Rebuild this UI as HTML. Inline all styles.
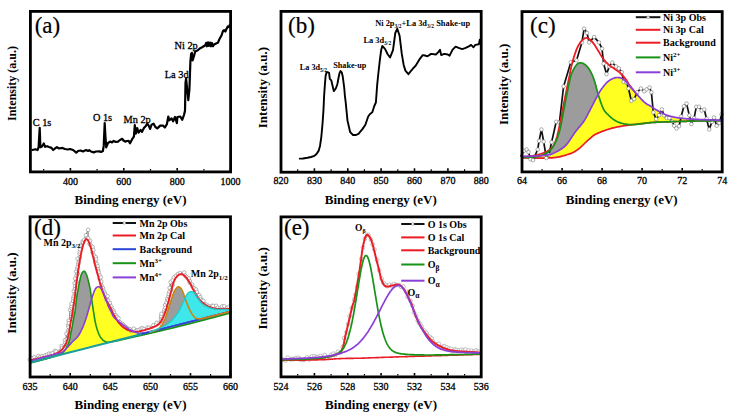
<!DOCTYPE html>
<html><head><meta charset="utf-8"><style>
html,body{margin:0;padding:0;background:#fff;}
body{width:734px;height:418px;overflow:hidden;}
svg{display:block;}
text{font-family:"Liberation Serif", serif;fill:#000;}
text.r{stroke:#000;stroke-width:0.3px;}
text.L{stroke:#000;stroke-width:0.2px;}
</style></head><body>
<svg width="734" height="418" viewBox="0 0 734 418">
<rect width="734" height="418" fill="#fff"/>
<polyline points="32.4,150 35.4,149.3 37.5,150 38.6,147.3 39.7,127.9 40.4,147.3 41.8,146.8 43.8,143.5 45.1,146.8 47.2,146.2 49,147 51.5,147.9 53.2,150 55,148.5 56.9,147.1 59,148.5 62.3,147.9 65,149 67.7,149.5 70,149 73.1,150 76.3,152.7 78,151 80.6,150.5 83,151.5 86,150 88,151 89.3,150.2 91,151.5 93.6,152.4 96,151.5 99.4,151.4 101,152 102.9,151 103.7,145.9 104.7,123 105.4,135.9 106.2,147.4 108,143 110.1,141.6 112,142.5 113.7,140.9 116,142 118,141.6 120,140 122.3,138.8 123.5,140.5 125.2,141.6 127,141 128.6,140.9 130,143.3 132,139.4 133.9,136.6 134.8,125.1 135.8,133.7 137.2,128 138.6,132.7 140.6,129.9 142,131.8 143.9,128 145.8,126 147.3,123.6 148.7,125.6 150.1,128.9 151.6,124.6 153.5,123.6 155.4,127 157.3,128.4 160.2,125.6 163,125.6 164.9,127.5 166.9,124.1 168.3,116.5 169.2,120.3 171.6,118.4 173.1,121.3 175,117 176.9,123.2 177.4,117 180.2,116.5 182.2,119.8 184.1,114.6 185,110.7 185.5,83 186.1,78.7 187.2,89.5 188.3,100.2 189.4,89.5 190.4,61.5 191.1,54 191.9,52.9 192.6,60.4 193.7,57 195.2,51.5 197.5,50.5 200.3,48.2 202.5,47 205.3,45.2 206.2,42.8 207,46.3 208,42.3 209,46 210,42.5 211,46.3 212,43 213,46.3 214.1,44.5 216,43.5 217.9,42.7 219.5,39 221.6,35.2 223,31 224.2,30.1 225.4,31.5 226.5,28.9 227.9,26.4 229,27 229.9,24.6" fill="none" stroke="#000" stroke-width="2.2" stroke-linejoin="round" stroke-linecap="round" />
<rect x="30.4" y="11.4" width="200.2" height="160.5" fill="none" stroke="#000" stroke-width="2.8"/>
<line x1="70.4" y1="170.6" x2="70.4" y2="168" stroke="#000" stroke-width="1.6"/>
<line x1="123.8" y1="170.6" x2="123.8" y2="168" stroke="#000" stroke-width="1.6"/>
<line x1="177.2" y1="170.6" x2="177.2" y2="168" stroke="#000" stroke-width="1.6"/>
<line x1="230.6" y1="170.6" x2="230.6" y2="168" stroke="#000" stroke-width="1.6"/>
<line x1="43.7" y1="170.6" x2="43.7" y2="169" stroke="#000" stroke-width="1.2"/>
<line x1="97.1" y1="170.6" x2="97.1" y2="169" stroke="#000" stroke-width="1.2"/>
<line x1="150.5" y1="170.6" x2="150.5" y2="169" stroke="#000" stroke-width="1.2"/>
<line x1="203.9" y1="170.6" x2="203.9" y2="169" stroke="#000" stroke-width="1.2"/>
<text x="70.4" y="184.8" font-size="10" font-weight="normal" text-anchor="middle" class="r" >400</text>
<text x="123.8" y="184.8" font-size="10" font-weight="normal" text-anchor="middle" class="r" >600</text>
<text x="177.2" y="184.8" font-size="10" font-weight="normal" text-anchor="middle" class="r" >800</text>
<text x="230.6" y="184.8" font-size="10" font-weight="normal" text-anchor="middle" class="r" >1000</text>
<text x="130.5" y="203.9" font-size="13" font-weight="bold" text-anchor="middle" >Binding energy (eV)</text>
<text transform="translate(15.8,83.5) rotate(-90)" x="0" y="0" font-size="12" font-weight="bold" text-anchor="middle">Intensity (a.u.)</text>
<text x="34.7" y="33.2" font-size="23" class="L">(a)</text>
<text x="32.7" y="126" font-size="10.3" font-weight="normal" text-anchor="start" class="r" >C 1s</text>
<text x="92.9" y="120.8" font-size="10.3" font-weight="normal" text-anchor="start" class="r" >O 1s</text>
<text x="123.6" y="122.7" font-size="10.3" font-weight="normal" text-anchor="start" class="r" >Mn 2p</text>
<text x="164.8" y="77.5" font-size="10.3" font-weight="normal" text-anchor="start" class="r" >La 3d</text>
<text x="174.6" y="49.1" font-size="10.3" font-weight="normal" text-anchor="start" class="r" >Ni 2p</text>
<polyline points="299.8,158.6 303,158.5 307.5,157.8 311,157 314.4,155.9 316.5,154 318.6,150.9 320,146 321.3,137.1 322.5,124 323.5,109.6 324.1,96 324.8,86 325.6,76 326.6,72.1 328,72.3 329.1,72.8 329.8,78.9 331.3,80.4 332.5,85.5 333.8,91.1 335.9,88.3 337.4,84 338.5,78 339.5,73.2 340.6,71 341.8,72.5 342.8,76.8 344.2,87.5 344.9,96 345.6,101.3 347.5,120.6 350.2,132.2 353,135 356,135 358.5,133.8 362.6,128.9 365.4,124.7 368.2,116.5 370,114 372.3,112.3 374.3,106 375.9,102.5 377.2,84.6 378.5,72 380,58.8 381.2,50 382.3,45.9 385,48.8 387.8,54.5 390.1,57.4 393,50.2 395.3,33 397.3,28.7 399.6,35.8 401.8,53.9 403.6,64.7 405.4,70.6 408.4,74.2 410.8,71.2 413,68.5 415.5,65.9 419.1,59.9 422.7,55.1 425,55.5 427.5,56.3 431.1,53.9 435.9,54.5 438.3,52.1 440,49.7 441.2,55.1 444.2,53.9 447.8,54.5 449.6,55.7 452.6,49.7 455.6,46.7 458.6,47.9 462.2,49.1 465.7,47.9 469.3,46.1 471.1,44.9 473.5,47.3 475.3,44.9 478.9,44.3 479.8,39.6" fill="none" stroke="#000" stroke-width="1.9" stroke-linejoin="round" stroke-linecap="round" />
<rect x="281" y="11.4" width="200.2" height="160.8" fill="none" stroke="#000" stroke-width="2.8"/>
<line x1="281" y1="170.9" x2="281" y2="168.3" stroke="#000" stroke-width="1.6"/>
<line x1="314.4" y1="170.9" x2="314.4" y2="168.3" stroke="#000" stroke-width="1.6"/>
<line x1="347.8" y1="170.9" x2="347.8" y2="168.3" stroke="#000" stroke-width="1.6"/>
<line x1="381.1" y1="170.9" x2="381.1" y2="168.3" stroke="#000" stroke-width="1.6"/>
<line x1="414.5" y1="170.9" x2="414.5" y2="168.3" stroke="#000" stroke-width="1.6"/>
<line x1="447.9" y1="170.9" x2="447.9" y2="168.3" stroke="#000" stroke-width="1.6"/>
<line x1="481.2" y1="170.9" x2="481.2" y2="168.3" stroke="#000" stroke-width="1.6"/>
<line x1="297.7" y1="170.9" x2="297.7" y2="169.3" stroke="#000" stroke-width="1.2"/>
<line x1="331.1" y1="170.9" x2="331.1" y2="169.3" stroke="#000" stroke-width="1.2"/>
<line x1="364.4" y1="170.9" x2="364.4" y2="169.3" stroke="#000" stroke-width="1.2"/>
<line x1="397.8" y1="170.9" x2="397.8" y2="169.3" stroke="#000" stroke-width="1.2"/>
<line x1="431.2" y1="170.9" x2="431.2" y2="169.3" stroke="#000" stroke-width="1.2"/>
<line x1="464.6" y1="170.9" x2="464.6" y2="169.3" stroke="#000" stroke-width="1.2"/>
<text x="281" y="184.2" font-size="10" font-weight="normal" text-anchor="middle" class="r" >820</text>
<text x="314.4" y="184.2" font-size="10" font-weight="normal" text-anchor="middle" class="r" >830</text>
<text x="347.8" y="184.2" font-size="10" font-weight="normal" text-anchor="middle" class="r" >840</text>
<text x="381.1" y="184.2" font-size="10" font-weight="normal" text-anchor="middle" class="r" >850</text>
<text x="414.5" y="184.2" font-size="10" font-weight="normal" text-anchor="middle" class="r" >860</text>
<text x="447.9" y="184.2" font-size="10" font-weight="normal" text-anchor="middle" class="r" >870</text>
<text x="481.2" y="184.2" font-size="10" font-weight="normal" text-anchor="middle" class="r" >880</text>
<text x="380.8" y="203.9" font-size="13" font-weight="bold" text-anchor="middle" >Binding energy (eV)</text>
<text transform="translate(266.6,87.6) rotate(-90)" x="0" y="0" font-size="13" font-weight="bold" text-anchor="middle">Intensity (a.u.)</text>
<text x="288.1" y="32.85" font-size="23" class="L">(b)</text>
<text x="299.8" y="69.6" font-size="8.2" font-weight="bold">La 3d<tspan font-size="5.5" dy="2">5/2</tspan></text>
<text x="333.2" y="67.8" font-size="8.2" font-weight="bold" text-anchor="start" >Shake-up</text>
<text x="363.4" y="43" font-size="8.4" font-weight="bold">La 3d<tspan font-size="5.5" dy="2">3/2</tspan></text>
<text x="375.2" y="26" font-size="8.4" font-weight="bold">Ni 2p<tspan font-size="5.5" dy="2">3/2</tspan><tspan dy="-2">+La 3d</tspan><tspan font-size="5.5" dy="2">3/2</tspan><tspan dy="-2"> Shake-up</tspan></text>
<polygon points="522,157.6 522.5,157.6 523,157.5 523.5,157.5 524,157.5 524.5,157.5 525,157.4 525.5,157.4 526,157.4 526.5,157.4 527,157.4 527.5,157.3 528,157.3 528.5,157.3 529,157.3 529.5,157.2 530,157.2 530.5,157.2 531,157.1 531.5,157.1 532,157.1 532.5,157 533,157 533.5,157 534,156.9 534.5,156.9 535,156.8 535.5,156.8 536,156.7 536.5,156.6 537,156.6 537.5,156.5 538,156.4 538.5,156.3 539,156.2 539.5,156.1 540,155.9 540.5,155.8 541,155.6 541.5,155.4 542,155.2 542.5,155 543,154.8 543.5,154.6 544,154.3 544.5,154.1 545,153.8 545.5,153.5 546,153.2 546.5,152.8 547,152.5 547.5,152.2 548,151.8 548.5,151.5 549,151.1 549.5,150.7 550,150.3 550.5,149.8 551,149.3 551.5,148.8 552,148.2 552.5,147.5 553,146.7 553.5,145.9 554,145.1 554.5,144.2 555,143.2 555.5,142.2 556,141.2 556.5,140.1 557,138.8 557.5,137.6 558,136.2 558.5,134.7 559,133.1 559.5,131.4 560,129.5 560.5,127.3 561,124.9 561.5,122.4 562,119.7 562.5,117 563,114.2 563.5,111.5 564,108.8 564.5,106.3 565,103.8 565.5,101.2 566,98.7 566.5,96.1 567,93.6 567.5,91.1 568,88.6 568.5,86.2 569,83.9 569.5,81.6 570,79.3 570.5,77.1 571,75.3 571.5,73.8 572,72.5 572.5,71.4 573,70.4 573.5,69.4 574,68.5 574.5,67.7 575,66.9 575.5,66.2 576,65.5 576.5,64.9 577,64.3 577.5,63.8 578,63.4 578.5,63.2 579,63 579.5,62.9 580,62.8 580.5,62.9 581,62.9 581.5,63 582,63.1 582.5,63.3 583,63.4 583.5,63.6 584,63.9 584.5,64.2 585,64.6 585.5,65 586,65.4 586.5,65.9 587,66.4 587.5,67 588,67.6 588.5,68.3 589,69 589.5,69.7 590,70.5 590.5,71.4 591,72.3 591.5,73.3 592,74.3 592.5,75.5 593,76.7 593.5,78.1 594,79.5 594.5,81 595,82.6 595.5,84.4 596,86.3 596.5,88.3 597,90.2 597.5,92 598,93.7 598.5,95.3 599,96.9 599.5,98.4 600,100 600.5,101.5 601,102.9 601.5,104.3 602,105.6 602.5,106.9 603,108 603.5,109 604,109.9 604.5,110.7 605,111.4 605.5,112.1 606,112.7 606.5,113.2 607,113.8 607.5,114.2 608,114.7 608.5,115.2 609,115.6 609.5,116.1 610,116.5 610.5,117 611,117.4 611.5,117.9 612,118.3 612.5,118.7 613,119.1 613.5,119.5 614,119.8 614.5,120.1 615,120.4 615.5,120.7 616,121 616.5,121.3 617,121.5 617.5,121.7 618,122 618.5,122.2 619,122.4 619.5,122.6 620,122.7 620.5,122.9 621,123.1 621.5,123.2 622,123.4 622.5,123.5 623,123.6 623.5,123.8 624,123.9 624.5,124 625,124 625.5,124.1 626,124.2 626.5,124.3 627,124.3 627.5,124.4 628,124.4 628.5,124.5 629,124.5 629.5,124.5 630,124.6 630.5,124.6 631,124.6 631.5,124.6 632,124.6 632.5,124.6 633,124.6 633.5,124.6 634,124.6 634.5,124.5 635,124.5 635.5,124.5 636,124.4 636.5,124.3 637,124.3 637.5,124.2 638,124.2 638.5,124.1 639,124 639.5,124 640,123.9 640.5,123.8 641,123.8 641.5,123.7 642,123.6 642.5,123.6 643,123.5 643.5,123.4 644,123.4 644.5,123.3 645,123.3 645.5,123.2 646,123.1 646.5,123.1 647,123 647.5,122.9 648,122.9 648.5,122.8 649,122.8 649.5,122.7 650,122.7 650.5,122.6 651,122.6 651.5,122.5 652,122.5 652.5,122.5 653,122.4 653.5,122.4 654,122.4 654.5,122.3 655,122.3 655.5,122.3 656,122.3 656.5,122.2 657,122.2 657.5,122.2 658,122.2 658.5,122.1 659,122.1 659.5,122.1 660,122.1 660.5,122.1 661,122 661.5,122 662,122 662.5,122 663,122 663.5,122 664,121.9 664.5,121.9 665,121.9 665.5,121.9 666,121.9 666.5,121.9 667,121.8 667.5,121.8 668,121.8 668.5,121.8 669,121.8 669.5,121.8 670,121.7 670.5,121.7 671,121.7 671.5,121.7 672,121.7 672.5,121.7 673,121.6 673.5,121.6 674,121.6 674.5,121.6 675,121.6 675.5,121.6 676,121.6 676.5,121.5 677,121.5 677.5,121.5 678,121.5 678.5,121.5 679,121.5 679.5,121.5 680,121.4 680.5,121.4 681,121.4 681.5,121.4 682,121.4 682.5,121.4 683,121.4 683.5,121.3 684,121.3 684.5,121.3 685,121.3 685.5,121.3 686,121.3 686.5,121.3 687,121.2 687.5,121.2 688,121.2 688.5,121.2 689,121.2 689.5,121.2 690,121.2 690.5,121.2 691,121.1 691.5,121.1 692,121.1 692.5,121.1 693,121.1 693.5,121.1 694,121.1 694.5,121.1 695,121.1 695.5,121 696,121 696.5,121 697,121 697.5,121 698,121 698.5,121 699,121 699.5,121 700,121 700.5,120.9 701,120.9 701.5,120.9 702,120.9 702.5,120.9 703,120.9 703.5,120.9 704,120.9 704.5,120.9 705,120.9 705.5,120.9 706,120.9 706.5,120.8 707,120.8 707.5,120.8 708,120.8 708.5,120.8 709,120.8 709.5,120.8 710,120.8 710.5,120.8 711,120.8 711.5,120.8 712,120.8 712.5,120.7 713,120.7 713.5,120.7 714,120.7 714.5,120.7 715,120.7 715.5,120.7 716,120.7 716.5,120.7 717,120.7 717.5,120.7 718,120.7 718.5,120.7 719,120.6 719.5,120.6 720,120.6 720.5,120.6 721,120.6 721.5,120.6 722,120.6 722,120.6 721.5,120.6 721,120.6 720.5,120.6 720,120.6 719.5,120.6 719,120.6 718.5,120.7 718,120.7 717.5,120.7 717,120.7 716.5,120.7 716,120.7 715.5,120.7 715,120.7 714.5,120.7 714,120.7 713.5,120.7 713,120.7 712.5,120.7 712,120.8 711.5,120.8 711,120.8 710.5,120.8 710,120.8 709.5,120.8 709,120.8 708.5,120.8 708,120.8 707.5,120.8 707,120.8 706.5,120.8 706,120.9 705.5,120.9 705,120.9 704.5,120.9 704,120.9 703.5,120.9 703,120.9 702.5,120.9 702,120.9 701.5,120.9 701,120.9 700.5,120.9 700,121 699.5,121 699,121 698.5,121 698,121 697.5,121 697,121 696.5,121 696,121 695.5,121 695,121.1 694.5,121.1 694,121.1 693.5,121.1 693,121.1 692.5,121.1 692,121.1 691.5,121.1 691,121.1 690.5,121.2 690,121.2 689.5,121.2 689,121.2 688.5,121.2 688,121.2 687.5,121.2 687,121.2 686.5,121.3 686,121.3 685.5,121.3 685,121.3 684.5,121.3 684,121.3 683.5,121.3 683,121.4 682.5,121.4 682,121.4 681.5,121.4 681,121.4 680.5,121.4 680,121.4 679.5,121.5 679,121.5 678.5,121.5 678,121.5 677.5,121.5 677,121.5 676.5,121.5 676,121.6 675.5,121.6 675,121.6 674.5,121.6 674,121.6 673.5,121.6 673,121.6 672.5,121.7 672,121.7 671.5,121.7 671,121.7 670.5,121.7 670,121.7 669.5,121.8 669,121.8 668.5,121.8 668,121.8 667.5,121.8 667,121.8 666.5,121.9 666,121.9 665.5,121.9 665,121.9 664.5,121.9 664,121.9 663.5,122 663,122 662.5,122 662,122 661.5,122 661,122 660.5,122.1 660,122.1 659.5,122.1 659,122.1 658.5,122.1 658,122.2 657.5,122.2 657,122.2 656.5,122.2 656,122.3 655.5,122.3 655,122.3 654.5,122.3 654,122.4 653.5,122.4 653,122.4 652.5,122.5 652,122.5 651.5,122.5 651,122.6 650.5,122.6 650,122.7 649.5,122.7 649,122.8 648.5,122.8 648,122.9 647.5,122.9 647,123 646.5,123.1 646,123.1 645.5,123.2 645,123.3 644.5,123.3 644,123.4 643.5,123.4 643,123.5 642.5,123.6 642,123.6 641.5,123.7 641,123.7 640.5,123.8 640,123.8 639.5,123.9 639,123.9 638.5,124 638,124 637.5,124.1 637,124.1 636.5,124.2 636,124.3 635.5,124.3 635,124.4 634.5,124.4 634,124.5 633.5,124.5 633,124.6 632.5,124.7 632,124.7 631.5,124.8 631,124.8 630.5,124.9 630,125 629.5,125 629,125.1 628.5,125.1 628,125.2 627.5,125.3 627,125.4 626.5,125.4 626,125.5 625.5,125.6 625,125.6 624.5,125.7 624,125.8 623.5,125.9 623,126 622.5,126 622,126.1 621.5,126.2 621,126.3 620.5,126.4 620,126.5 619.5,126.6 619,126.7 618.5,126.7 618,126.8 617.5,126.9 617,127 616.5,127.1 616,127.2 615.5,127.4 615,127.5 614.5,127.6 614,127.7 613.5,127.8 613,127.9 612.5,128.1 612,128.2 611.5,128.3 611,128.5 610.5,128.6 610,128.8 609.5,128.9 609,129 608.5,129.2 608,129.4 607.5,129.5 607,129.7 606.5,129.8 606,130 605.5,130.2 605,130.4 604.5,130.5 604,130.7 603.5,130.9 603,131.1 602.5,131.3 602,131.5 601.5,131.7 601,131.9 600.5,132.1 600,132.3 599.5,132.5 599,132.7 598.5,132.9 598,133.1 597.5,133.4 597,133.6 596.5,133.8 596,134.1 595.5,134.3 595,134.6 594.5,134.9 594,135.2 593.5,135.5 593,135.9 592.5,136.3 592,136.7 591.5,137.2 591,137.6 590.5,138.1 590,138.5 589.5,138.9 589,139.4 588.5,139.8 588,140.2 587.5,140.7 587,141.2 586.5,141.6 586,142.1 585.5,142.5 585,143 584.5,143.5 584,144 583.5,144.5 583,145 582.5,145.5 582,146 581.5,146.5 581,146.9 580.5,147.4 580,147.8 579.5,148.2 579,148.6 578.5,149 578,149.4 577.5,149.8 577,150.1 576.5,150.5 576,150.8 575.5,151.1 575,151.4 574.5,151.7 574,152 573.5,152.3 573,152.5 572.5,152.7 572,153 571.5,153.2 571,153.4 570.5,153.6 570,153.7 569.5,153.9 569,154.1 568.5,154.2 568,154.4 567.5,154.5 567,154.7 566.5,154.9 566,155 565.5,155.2 565,155.3 564.5,155.5 564,155.6 563.5,155.8 563,155.9 562.5,156 562,156.2 561.5,156.3 561,156.4 560.5,156.6 560,156.7 559.5,156.8 559,156.9 558.5,157 558,157.1 557.5,157.2 557,157.2 556.5,157.3 556,157.4 555.5,157.5 555,157.5 554.5,157.6 554,157.6 553.5,157.7 553,157.7 552.5,157.8 552,157.8 551.5,157.8 551,157.9 550.5,157.9 550,157.9 549.5,157.9 549,158 548.5,158 548,158 547.5,158 547,158 546.5,158.1 546,158.1 545.5,158.1 545,158.1 544.5,158.1 544,158.1 543.5,158.1 543,158.2 542.5,158.2 542,158.2 541.5,158.2 541,158.2 540.5,158.2 540,158.2 539.5,158.2 539,158.2 538.5,158.2 538,158.2 537.5,158.2 537,158.2 536.5,158.2 536,158.2 535.5,158.2 535,158.2 534.5,158.2 534,158.1 533.5,158.1 533,158.1 532.5,158.1 532,158.1 531.5,158.1 531,158.1 530.5,158.1 530,158.1 529.5,158 529,158 528.5,158 528,158 527.5,158 527,158 526.5,157.9 526,157.9 525.5,157.9 525,157.9 524.5,157.9 524,157.9 523.5,157.8 523,157.8 522.5,157.8 522,157.8" fill="#9c9c9c" stroke="none" />
<polygon points="522,156.5 522.5,156.5 523,156.5 523.5,156.4 524,156.4 524.5,156.4 525,156.4 525.5,156.4 526,156.4 526.5,156.4 527,156.3 527.5,156.3 528,156.3 528.5,156.3 529,156.3 529.5,156.3 530,156.2 530.5,156.2 531,156.2 531.5,156.2 532,156.2 532.5,156.2 533,156.1 533.5,156.1 534,156.1 534.5,156.1 535,156.1 535.5,156 536,156 536.5,156 537,156 537.5,155.9 538,155.9 538.5,155.9 539,155.9 539.5,155.8 540,155.8 540.5,155.8 541,155.7 541.5,155.7 542,155.6 542.5,155.6 543,155.6 543.5,155.5 544,155.5 544.5,155.4 545,155.4 545.5,155.3 546,155.2 546.5,155.2 547,155.1 547.5,155 548,154.9 548.5,154.8 549,154.7 549.5,154.6 550,154.5 550.5,154.4 551,154.2 551.5,154.1 552,153.9 552.5,153.7 553,153.5 553.5,153.3 554,153 554.5,152.8 555,152.5 555.5,152.3 556,152 556.5,151.7 557,151.5 557.5,151.2 558,151 558.5,150.7 559,150.4 559.5,150.1 560,149.8 560.5,149.5 561,149.2 561.5,148.9 562,148.5 562.5,148.1 563,147.8 563.5,147.4 564,147.1 564.5,146.7 565,146.2 565.5,145.7 566,145.2 566.5,144.6 567,144 567.5,143.3 568,142.7 568.5,142 569,141.2 569.5,140.5 570,139.7 570.5,139 571,138.2 571.5,137.4 572,136.7 572.5,135.9 573,135.2 573.5,134.4 574,133.7 574.5,133 575,132.3 575.5,131.6 576,131 576.5,130.4 577,129.7 577.5,129.1 578,128.5 578.5,127.9 579,127.3 579.5,126.8 580,126.2 580.5,125.6 581,125 581.5,124.3 582,123.7 582.5,123.1 583,122.4 583.5,121.7 584,121 584.5,120.2 585,119.4 585.5,118.6 586,117.7 586.5,116.8 587,115.9 587.5,114.9 588,113.9 588.5,112.9 589,111.9 589.5,111 590,110 590.5,109.1 591,108.1 591.5,107.1 592,106.2 592.5,105.2 593,104.2 593.5,103.3 594,102.3 594.5,101.3 595,100.4 595.5,99.4 596,98.5 596.5,97.5 597,96.6 597.5,95.6 598,94.7 598.5,93.8 599,93 599.5,92.1 600,91.3 600.5,90.5 601,89.7 601.5,89 602,88.3 602.5,87.7 603,87 603.5,86.4 604,85.7 604.5,85.1 605,84.5 605.5,84 606,83.4 606.5,82.9 607,82.4 607.5,81.9 608,81.5 608.5,81.1 609,80.7 609.5,80.4 610,80 610.5,79.7 611,79.4 611.5,79.2 612,78.9 612.5,78.7 613,78.5 613.5,78.3 614,78.1 614.5,78 615,77.8 615.5,77.7 616,77.6 616.5,77.5 617,77.5 617.5,77.5 618,77.5 618.5,77.6 619,77.6 619.5,77.7 620,77.8 620.5,78 621,78.1 621.5,78.3 622,78.5 622.5,78.8 623,79 623.5,79.4 624,79.7 624.5,80.1 625,80.6 625.5,81.1 626,81.6 626.5,82.2 627,82.8 627.5,83.4 628,84 628.5,84.6 629,85.1 629.5,85.7 630,86.3 630.5,86.9 631,87.4 631.5,88 632,88.6 632.5,89.2 633,89.8 633.5,90.4 634,91 634.5,91.5 635,92.1 635.5,92.7 636,93.3 636.5,93.8 637,94.4 637.5,94.9 638,95.5 638.5,96.1 639,96.6 639.5,97.2 640,97.7 640.5,98.3 641,98.8 641.5,99.3 642,99.9 642.5,100.4 643,100.9 643.5,101.4 644,101.9 644.5,102.3 645,102.7 645.5,103.2 646,103.5 646.5,103.9 647,104.2 647.5,104.4 648,104.7 648.5,105 649,105.2 649.5,105.5 650,105.8 650.5,106.1 651,106.4 651.5,106.8 652,107.1 652.5,107.4 653,107.8 653.5,108.1 654,108.4 654.5,108.7 655,109.1 655.5,109.4 656,109.7 656.5,110 657,110.3 657.5,110.6 658,110.9 658.5,111.1 659,111.4 659.5,111.7 660,112 660.5,112.2 661,112.5 661.5,112.8 662,113 662.5,113.3 663,113.5 663.5,113.8 664,114 664.5,114.2 665,114.5 665.5,114.7 666,114.9 666.5,115 667,115.2 667.5,115.4 668,115.6 668.5,115.7 669,115.9 669.5,116 670,116.1 670.5,116.3 671,116.4 671.5,116.5 672,116.6 672.5,116.7 673,116.8 673.5,117 674,117.1 674.5,117.2 675,117.3 675.5,117.4 676,117.5 676.5,117.6 677,117.7 677.5,117.7 678,117.8 678.5,117.9 679,118 679.5,118 680,118.1 680.5,118.2 681,118.2 681.5,118.3 682,118.3 682.5,118.4 683,118.5 683.5,118.5 684,118.6 684.5,118.6 685,118.7 685.5,118.7 686,118.7 686.5,118.8 687,118.8 687.5,118.9 688,118.9 688.5,118.9 689,119 689.5,119 690,119 690.5,119.1 691,119.1 691.5,119.1 692,119.1 692.5,119.2 693,119.2 693.5,119.2 694,119.2 694.5,119.3 695,119.3 695.5,119.3 696,119.3 696.5,119.4 697,119.4 697.5,119.4 698,119.4 698.5,119.4 699,119.5 699.5,119.5 700,119.5 700.5,119.5 701,119.5 701.5,119.6 702,119.6 702.5,119.6 703,119.6 703.5,119.6 704,119.7 704.5,119.7 705,119.7 705.5,119.7 706,119.7 706.5,119.8 707,119.8 707.5,119.8 708,119.8 708.5,119.8 709,119.8 709.5,119.9 710,119.9 710.5,119.9 711,119.9 711.5,119.9 712,119.9 712.5,120 713,120 713.5,120 714,120 714.5,120 715,120.1 715.5,120.1 716,120.1 716.5,120.1 717,120.1 717.5,120.1 718,120.2 718.5,120.2 719,120.2 719.5,120.2 720,120.2 720.5,120.2 721,120.3 721.5,120.3 722,120.3 722,120.6 721.5,120.6 721,120.6 720.5,120.6 720,120.6 719.5,120.6 719,120.6 718.5,120.7 718,120.7 717.5,120.7 717,120.7 716.5,120.7 716,120.7 715.5,120.7 715,120.7 714.5,120.7 714,120.7 713.5,120.7 713,120.7 712.5,120.7 712,120.8 711.5,120.8 711,120.8 710.5,120.8 710,120.8 709.5,120.8 709,120.8 708.5,120.8 708,120.8 707.5,120.8 707,120.8 706.5,120.8 706,120.9 705.5,120.9 705,120.9 704.5,120.9 704,120.9 703.5,120.9 703,120.9 702.5,120.9 702,120.9 701.5,120.9 701,120.9 700.5,120.9 700,121 699.5,121 699,121 698.5,121 698,121 697.5,121 697,121 696.5,121 696,121 695.5,121 695,121.1 694.5,121.1 694,121.1 693.5,121.1 693,121.1 692.5,121.1 692,121.1 691.5,121.1 691,121.1 690.5,121.2 690,121.2 689.5,121.2 689,121.2 688.5,121.2 688,121.2 687.5,121.2 687,121.2 686.5,121.3 686,121.3 685.5,121.3 685,121.3 684.5,121.3 684,121.3 683.5,121.3 683,121.4 682.5,121.4 682,121.4 681.5,121.4 681,121.4 680.5,121.4 680,121.4 679.5,121.5 679,121.5 678.5,121.5 678,121.5 677.5,121.5 677,121.5 676.5,121.5 676,121.6 675.5,121.6 675,121.6 674.5,121.6 674,121.6 673.5,121.6 673,121.6 672.5,121.7 672,121.7 671.5,121.7 671,121.7 670.5,121.7 670,121.7 669.5,121.8 669,121.8 668.5,121.8 668,121.8 667.5,121.8 667,121.8 666.5,121.9 666,121.9 665.5,121.9 665,121.9 664.5,121.9 664,121.9 663.5,122 663,122 662.5,122 662,122 661.5,122 661,122 660.5,122.1 660,122.1 659.5,122.1 659,122.1 658.5,122.1 658,122.2 657.5,122.2 657,122.2 656.5,122.2 656,122.3 655.5,122.3 655,122.3 654.5,122.3 654,122.4 653.5,122.4 653,122.4 652.5,122.5 652,122.5 651.5,122.5 651,122.6 650.5,122.6 650,122.7 649.5,122.7 649,122.8 648.5,122.8 648,122.9 647.5,122.9 647,123 646.5,123.1 646,123.1 645.5,123.2 645,123.3 644.5,123.3 644,123.4 643.5,123.4 643,123.5 642.5,123.6 642,123.6 641.5,123.7 641,123.7 640.5,123.8 640,123.8 639.5,123.9 639,123.9 638.5,124 638,124 637.5,124.1 637,124.1 636.5,124.2 636,124.3 635.5,124.3 635,124.4 634.5,124.4 634,124.5 633.5,124.5 633,124.6 632.5,124.7 632,124.7 631.5,124.8 631,124.8 630.5,124.9 630,125 629.5,125 629,125.1 628.5,125.1 628,125.2 627.5,125.3 627,125.4 626.5,125.4 626,125.5 625.5,125.6 625,125.6 624.5,125.7 624,125.8 623.5,125.9 623,126 622.5,126 622,126.1 621.5,126.2 621,126.3 620.5,126.4 620,126.5 619.5,126.6 619,126.7 618.5,126.7 618,126.8 617.5,126.9 617,127 616.5,127.1 616,127.2 615.5,127.4 615,127.5 614.5,127.6 614,127.7 613.5,127.8 613,127.9 612.5,128.1 612,128.2 611.5,128.3 611,128.5 610.5,128.6 610,128.8 609.5,128.9 609,129 608.5,129.2 608,129.4 607.5,129.5 607,129.7 606.5,129.8 606,130 605.5,130.2 605,130.4 604.5,130.5 604,130.7 603.5,130.9 603,131.1 602.5,131.3 602,131.5 601.5,131.7 601,131.9 600.5,132.1 600,132.3 599.5,132.5 599,132.7 598.5,132.9 598,133.1 597.5,133.4 597,133.6 596.5,133.8 596,134.1 595.5,134.3 595,134.6 594.5,134.9 594,135.2 593.5,135.5 593,135.9 592.5,136.3 592,136.7 591.5,137.2 591,137.6 590.5,138.1 590,138.5 589.5,138.9 589,139.4 588.5,139.8 588,140.2 587.5,140.7 587,141.2 586.5,141.6 586,142.1 585.5,142.5 585,143 584.5,143.5 584,144 583.5,144.5 583,145 582.5,145.5 582,146 581.5,146.5 581,146.9 580.5,147.4 580,147.8 579.5,148.2 579,148.6 578.5,149 578,149.4 577.5,149.8 577,150.1 576.5,150.5 576,150.8 575.5,151.1 575,151.4 574.5,151.7 574,152 573.5,152.3 573,152.5 572.5,152.7 572,153 571.5,153.2 571,153.4 570.5,153.6 570,153.7 569.5,153.9 569,154.1 568.5,154.2 568,154.4 567.5,154.5 567,154.7 566.5,154.9 566,155 565.5,155.2 565,155.3 564.5,155.5 564,155.6 563.5,155.8 563,155.9 562.5,156 562,156.2 561.5,156.3 561,156.4 560.5,156.6 560,156.7 559.5,156.8 559,156.9 558.5,157 558,157.1 557.5,157.2 557,157.2 556.5,157.3 556,157.4 555.5,157.5 555,157.5 554.5,157.6 554,157.6 553.5,157.7 553,157.7 552.5,157.8 552,157.8 551.5,157.8 551,157.9 550.5,157.9 550,157.9 549.5,157.9 549,158 548.5,158 548,158 547.5,158 547,158 546.5,158.1 546,158.1 545.5,158.1 545,158.1 544.5,158.1 544,158.1 543.5,158.1 543,158.2 542.5,158.2 542,158.2 541.5,158.2 541,158.2 540.5,158.2 540,158.2 539.5,158.2 539,158.2 538.5,158.2 538,158.2 537.5,158.2 537,158.2 536.5,158.2 536,158.2 535.5,158.2 535,158.2 534.5,158.2 534,158.1 533.5,158.1 533,158.1 532.5,158.1 532,158.1 531.5,158.1 531,158.1 530.5,158.1 530,158.1 529.5,158 529,158 528.5,158 528,158 527.5,158 527,158 526.5,157.9 526,157.9 525.5,157.9 525,157.9 524.5,157.9 524,157.9 523.5,157.8 523,157.8 522.5,157.8 522,157.8" fill="#ffff22" stroke="none" />
<polyline points="522,157.8 522.5,157.8 523,157.8 523.5,157.8 524,157.9 524.5,157.9 525,157.9 525.5,157.9 526,157.9 526.5,157.9 527,158 527.5,158 528,158 528.5,158 529,158 529.5,158 530,158.1 530.5,158.1 531,158.1 531.5,158.1 532,158.1 532.5,158.1 533,158.1 533.5,158.1 534,158.1 534.5,158.2 535,158.2 535.5,158.2 536,158.2 536.5,158.2 537,158.2 537.5,158.2 538,158.2 538.5,158.2 539,158.2 539.5,158.2 540,158.2 540.5,158.2 541,158.2 541.5,158.2 542,158.2 542.5,158.2 543,158.2 543.5,158.1 544,158.1 544.5,158.1 545,158.1 545.5,158.1 546,158.1 546.5,158.1 547,158 547.5,158 548,158 548.5,158 549,158 549.5,157.9 550,157.9 550.5,157.9 551,157.9 551.5,157.8 552,157.8 552.5,157.8 553,157.7 553.5,157.7 554,157.6 554.5,157.6 555,157.5 555.5,157.5 556,157.4 556.5,157.3 557,157.2 557.5,157.2 558,157.1 558.5,157 559,156.9 559.5,156.8 560,156.7 560.5,156.6 561,156.4 561.5,156.3 562,156.2 562.5,156 563,155.9 563.5,155.8 564,155.6 564.5,155.5 565,155.3 565.5,155.2 566,155 566.5,154.9 567,154.7 567.5,154.5 568,154.4 568.5,154.2 569,154.1 569.5,153.9 570,153.7 570.5,153.6 571,153.4 571.5,153.2 572,153 572.5,152.7 573,152.5 573.5,152.3 574,152 574.5,151.7 575,151.4 575.5,151.1 576,150.8 576.5,150.5 577,150.1 577.5,149.8 578,149.4 578.5,149 579,148.6 579.5,148.2 580,147.8 580.5,147.4 581,146.9 581.5,146.5 582,146 582.5,145.5 583,145 583.5,144.5 584,144 584.5,143.5 585,143 585.5,142.5 586,142.1 586.5,141.6 587,141.2 587.5,140.7 588,140.2 588.5,139.8 589,139.4 589.5,138.9 590,138.5 590.5,138.1 591,137.6 591.5,137.2 592,136.7 592.5,136.3 593,135.9 593.5,135.5 594,135.2 594.5,134.9 595,134.6 595.5,134.3 596,134.1 596.5,133.8 597,133.6 597.5,133.4 598,133.1 598.5,132.9 599,132.7 599.5,132.5 600,132.3 600.5,132.1 601,131.9 601.5,131.7 602,131.5 602.5,131.3 603,131.1 603.5,130.9 604,130.7 604.5,130.5 605,130.4 605.5,130.2 606,130 606.5,129.8 607,129.7 607.5,129.5 608,129.4 608.5,129.2 609,129 609.5,128.9 610,128.8 610.5,128.6 611,128.5 611.5,128.3 612,128.2 612.5,128.1 613,127.9 613.5,127.8 614,127.7 614.5,127.6 615,127.5 615.5,127.4 616,127.2 616.5,127.1 617,127 617.5,126.9 618,126.8 618.5,126.7 619,126.7 619.5,126.6 620,126.5 620.5,126.4 621,126.3 621.5,126.2 622,126.1 622.5,126 623,126 623.5,125.9 624,125.8 624.5,125.7 625,125.6 625.5,125.6 626,125.5 626.5,125.4 627,125.4 627.5,125.3 628,125.2 628.5,125.1 629,125.1 629.5,125 630,125 630.5,124.9 631,124.8 631.5,124.8 632,124.7 632.5,124.7 633,124.6 633.5,124.5 634,124.5 634.5,124.4 635,124.4 635.5,124.3 636,124.3 636.5,124.2 637,124.1 637.5,124.1 638,124 638.5,124 639,123.9 639.5,123.9 640,123.8 640.5,123.8 641,123.7 641.5,123.7 642,123.6 642.5,123.6 643,123.5 643.5,123.4 644,123.4 644.5,123.3 645,123.3 645.5,123.2 646,123.1 646.5,123.1 647,123 647.5,122.9 648,122.9 648.5,122.8 649,122.8 649.5,122.7 650,122.7 650.5,122.6 651,122.6 651.5,122.5 652,122.5 652.5,122.5 653,122.4 653.5,122.4 654,122.4 654.5,122.3 655,122.3 655.5,122.3 656,122.3 656.5,122.2 657,122.2 657.5,122.2 658,122.2 658.5,122.1 659,122.1 659.5,122.1 660,122.1 660.5,122.1 661,122 661.5,122 662,122 662.5,122 663,122 663.5,122 664,121.9 664.5,121.9 665,121.9 665.5,121.9 666,121.9 666.5,121.9 667,121.8 667.5,121.8 668,121.8 668.5,121.8 669,121.8 669.5,121.8 670,121.7 670.5,121.7 671,121.7 671.5,121.7 672,121.7 672.5,121.7 673,121.6 673.5,121.6 674,121.6 674.5,121.6 675,121.6 675.5,121.6 676,121.6 676.5,121.5 677,121.5 677.5,121.5 678,121.5 678.5,121.5 679,121.5 679.5,121.5 680,121.4 680.5,121.4 681,121.4 681.5,121.4 682,121.4 682.5,121.4 683,121.4 683.5,121.3 684,121.3 684.5,121.3 685,121.3 685.5,121.3 686,121.3 686.5,121.3 687,121.2 687.5,121.2 688,121.2 688.5,121.2 689,121.2 689.5,121.2 690,121.2 690.5,121.2 691,121.1 691.5,121.1 692,121.1 692.5,121.1 693,121.1 693.5,121.1 694,121.1 694.5,121.1 695,121.1 695.5,121 696,121 696.5,121 697,121 697.5,121 698,121 698.5,121 699,121 699.5,121 700,121 700.5,120.9 701,120.9 701.5,120.9 702,120.9 702.5,120.9 703,120.9 703.5,120.9 704,120.9 704.5,120.9 705,120.9 705.5,120.9 706,120.9 706.5,120.8 707,120.8 707.5,120.8 708,120.8 708.5,120.8 709,120.8 709.5,120.8 710,120.8 710.5,120.8 711,120.8 711.5,120.8 712,120.8 712.5,120.7 713,120.7 713.5,120.7 714,120.7 714.5,120.7 715,120.7 715.5,120.7 716,120.7 716.5,120.7 717,120.7 717.5,120.7 718,120.7 718.5,120.7 719,120.6 719.5,120.6 720,120.6 720.5,120.6 721,120.6 721.5,120.6 722,120.6" fill="none" stroke="#ec1c24" stroke-width="1.7" stroke-linejoin="round" stroke-linecap="round" />
<polyline points="521,156 523.9,150.8 526.6,149.5 528.5,152.1 530.5,159.3 533.1,160 537.7,149.5 539.1,140.9 541.4,129.5 543.7,141.6 546.3,158 548.9,154.7 551.6,142.2 556.2,121.8 559.4,122.5 563.6,86.4 570.8,62.2 576.5,60.4 581.9,42.4 584.1,28.6 587,32.9 589.1,42.4 594.1,37.1 599,42.4 602,48.7 603.6,63.6 606.5,74.1 609.3,66.5 612.2,62.6 616,66.5 618.9,68.4 621.8,72.2 623.7,81.8 626.6,82.7 628.5,88.5 631.3,100.9 634.2,99 637.1,92.3 640.9,88.5 644.3,91.3 646.6,89.4 649.5,87.5 651.4,92.3 653.3,112.4 656.2,119.1 659.1,115.2 661.9,109.5 664,115.4 666.7,118.1 669.4,118.1 672.1,121.4 674.2,125.7 676.4,128.4 679.1,126.2 681.2,116.5 683.9,106.3 686.6,103.6 689.3,115.4 691.4,124.1 694.1,118.1 696.3,106.8 699,106.8 701.7,110.6 704.3,109.5 706.5,118.7 709.2,129.4 711.9,121.9 714,117.6 716.7,125.7 719.4,123 721.6,114.4" fill="none" stroke="#111" stroke-width="1.7" stroke-linejoin="round" stroke-linecap="round" />
<circle cx="523.9" cy="150.8" r="1.8" fill="#fff" stroke="#777" stroke-width="0.6"/>
<circle cx="526.6" cy="149.5" r="1.8" fill="#fff" stroke="#777" stroke-width="0.6"/>
<circle cx="528.5" cy="152.1" r="1.8" fill="#fff" stroke="#777" stroke-width="0.6"/>
<circle cx="530.5" cy="159.3" r="1.8" fill="#fff" stroke="#777" stroke-width="0.6"/>
<circle cx="533.1" cy="160" r="1.8" fill="#fff" stroke="#777" stroke-width="0.6"/>
<circle cx="537.7" cy="149.5" r="1.8" fill="#fff" stroke="#777" stroke-width="0.6"/>
<circle cx="539.1" cy="140.9" r="1.8" fill="#fff" stroke="#777" stroke-width="0.6"/>
<circle cx="541.4" cy="129.5" r="1.8" fill="#fff" stroke="#777" stroke-width="0.6"/>
<circle cx="543.7" cy="141.6" r="1.8" fill="#fff" stroke="#777" stroke-width="0.6"/>
<circle cx="546.3" cy="158" r="1.8" fill="#fff" stroke="#777" stroke-width="0.6"/>
<circle cx="548.9" cy="154.7" r="1.8" fill="#fff" stroke="#777" stroke-width="0.6"/>
<circle cx="551.6" cy="142.2" r="1.8" fill="#fff" stroke="#777" stroke-width="0.6"/>
<circle cx="556.2" cy="121.8" r="1.8" fill="#fff" stroke="#777" stroke-width="0.6"/>
<circle cx="559.4" cy="122.5" r="1.8" fill="#fff" stroke="#777" stroke-width="0.6"/>
<circle cx="563.6" cy="86.4" r="1.8" fill="#fff" stroke="#777" stroke-width="0.6"/>
<circle cx="570.8" cy="62.2" r="1.8" fill="#fff" stroke="#777" stroke-width="0.6"/>
<circle cx="576.5" cy="60.4" r="1.8" fill="#fff" stroke="#777" stroke-width="0.6"/>
<circle cx="581.9" cy="42.4" r="1.8" fill="#fff" stroke="#777" stroke-width="0.6"/>
<circle cx="584.1" cy="28.6" r="1.8" fill="#fff" stroke="#777" stroke-width="0.6"/>
<circle cx="587" cy="32.9" r="1.8" fill="#fff" stroke="#777" stroke-width="0.6"/>
<circle cx="589.1" cy="42.4" r="1.8" fill="#fff" stroke="#777" stroke-width="0.6"/>
<circle cx="594.1" cy="37.1" r="1.8" fill="#fff" stroke="#777" stroke-width="0.6"/>
<circle cx="599" cy="42.4" r="1.8" fill="#fff" stroke="#777" stroke-width="0.6"/>
<circle cx="602" cy="48.7" r="1.8" fill="#fff" stroke="#777" stroke-width="0.6"/>
<circle cx="603.6" cy="63.6" r="1.8" fill="#fff" stroke="#777" stroke-width="0.6"/>
<circle cx="606.5" cy="74.1" r="1.8" fill="#fff" stroke="#777" stroke-width="0.6"/>
<circle cx="609.3" cy="66.5" r="1.8" fill="#fff" stroke="#777" stroke-width="0.6"/>
<circle cx="612.2" cy="62.6" r="1.8" fill="#fff" stroke="#777" stroke-width="0.6"/>
<circle cx="616" cy="66.5" r="1.8" fill="#fff" stroke="#777" stroke-width="0.6"/>
<circle cx="618.9" cy="68.4" r="1.8" fill="#fff" stroke="#777" stroke-width="0.6"/>
<circle cx="621.8" cy="72.2" r="1.8" fill="#fff" stroke="#777" stroke-width="0.6"/>
<circle cx="623.7" cy="81.8" r="1.8" fill="#fff" stroke="#777" stroke-width="0.6"/>
<circle cx="626.6" cy="82.7" r="1.8" fill="#fff" stroke="#777" stroke-width="0.6"/>
<circle cx="628.5" cy="88.5" r="1.8" fill="#fff" stroke="#777" stroke-width="0.6"/>
<circle cx="631.3" cy="100.9" r="1.8" fill="#fff" stroke="#777" stroke-width="0.6"/>
<circle cx="634.2" cy="99" r="1.8" fill="#fff" stroke="#777" stroke-width="0.6"/>
<circle cx="637.1" cy="92.3" r="1.8" fill="#fff" stroke="#777" stroke-width="0.6"/>
<circle cx="640.9" cy="88.5" r="1.8" fill="#fff" stroke="#777" stroke-width="0.6"/>
<circle cx="644.3" cy="91.3" r="1.8" fill="#fff" stroke="#777" stroke-width="0.6"/>
<circle cx="646.6" cy="89.4" r="1.8" fill="#fff" stroke="#777" stroke-width="0.6"/>
<circle cx="649.5" cy="87.5" r="1.8" fill="#fff" stroke="#777" stroke-width="0.6"/>
<circle cx="651.4" cy="92.3" r="1.8" fill="#fff" stroke="#777" stroke-width="0.6"/>
<circle cx="653.3" cy="112.4" r="1.8" fill="#fff" stroke="#777" stroke-width="0.6"/>
<circle cx="656.2" cy="119.1" r="1.8" fill="#fff" stroke="#777" stroke-width="0.6"/>
<circle cx="659.1" cy="115.2" r="1.8" fill="#fff" stroke="#777" stroke-width="0.6"/>
<circle cx="661.9" cy="109.5" r="1.8" fill="#fff" stroke="#777" stroke-width="0.6"/>
<circle cx="664" cy="115.4" r="1.8" fill="#fff" stroke="#777" stroke-width="0.6"/>
<circle cx="666.7" cy="118.1" r="1.8" fill="#fff" stroke="#777" stroke-width="0.6"/>
<circle cx="669.4" cy="118.1" r="1.8" fill="#fff" stroke="#777" stroke-width="0.6"/>
<circle cx="672.1" cy="121.4" r="1.8" fill="#fff" stroke="#777" stroke-width="0.6"/>
<circle cx="674.2" cy="125.7" r="1.8" fill="#fff" stroke="#777" stroke-width="0.6"/>
<circle cx="676.4" cy="128.4" r="1.8" fill="#fff" stroke="#777" stroke-width="0.6"/>
<circle cx="679.1" cy="126.2" r="1.8" fill="#fff" stroke="#777" stroke-width="0.6"/>
<circle cx="681.2" cy="116.5" r="1.8" fill="#fff" stroke="#777" stroke-width="0.6"/>
<circle cx="683.9" cy="106.3" r="1.8" fill="#fff" stroke="#777" stroke-width="0.6"/>
<circle cx="686.6" cy="103.6" r="1.8" fill="#fff" stroke="#777" stroke-width="0.6"/>
<circle cx="689.3" cy="115.4" r="1.8" fill="#fff" stroke="#777" stroke-width="0.6"/>
<circle cx="691.4" cy="124.1" r="1.8" fill="#fff" stroke="#777" stroke-width="0.6"/>
<circle cx="694.1" cy="118.1" r="1.8" fill="#fff" stroke="#777" stroke-width="0.6"/>
<circle cx="696.3" cy="106.8" r="1.8" fill="#fff" stroke="#777" stroke-width="0.6"/>
<circle cx="699" cy="106.8" r="1.8" fill="#fff" stroke="#777" stroke-width="0.6"/>
<circle cx="701.7" cy="110.6" r="1.8" fill="#fff" stroke="#777" stroke-width="0.6"/>
<circle cx="704.3" cy="109.5" r="1.8" fill="#fff" stroke="#777" stroke-width="0.6"/>
<circle cx="706.5" cy="118.7" r="1.8" fill="#fff" stroke="#777" stroke-width="0.6"/>
<circle cx="709.2" cy="129.4" r="1.8" fill="#fff" stroke="#777" stroke-width="0.6"/>
<circle cx="711.9" cy="121.9" r="1.8" fill="#fff" stroke="#777" stroke-width="0.6"/>
<circle cx="714" cy="117.6" r="1.8" fill="#fff" stroke="#777" stroke-width="0.6"/>
<circle cx="716.7" cy="125.7" r="1.8" fill="#fff" stroke="#777" stroke-width="0.6"/>
<circle cx="719.4" cy="123" r="1.8" fill="#fff" stroke="#777" stroke-width="0.6"/>
<circle cx="721.6" cy="114.4" r="1.8" fill="#fff" stroke="#777" stroke-width="0.6"/>
<polyline points="522,157 523,156.9 524.4,156.7 526.1,156.6 527.9,156.4 529.8,156.2 531.7,155.9 533.4,155.7 535,155.4 536.4,155.1 537.8,154.7 539.1,154.4 540.4,154 541.7,153.6 542.9,153.2 544,152.7 545,152.3 546,151.9 546.8,151.5 547.6,151 548.4,150.6 549.1,150.1 549.7,149.6 550.4,149.1 551,148.5 551.6,147.9 552.2,147.3 552.7,146.6 553.2,145.9 553.6,145.2 554.1,144.4 554.6,143.5 555,142.5 555.4,141.5 555.8,140.5 556.2,139.4 556.5,138.3 556.9,137 557.3,135.5 557.7,133.8 558.2,131.8 558.7,129.4 559.3,126.7 559.9,123.8 560.5,120.6 561.1,117.4 561.8,114.1 562.4,110.9 563,107.8 563.6,104.8 564.2,101.8 564.8,98.7 565.4,95.7 566,92.7 566.6,89.7 567.2,86.8 567.8,83.9 568.4,81 569,78.1 569.6,75.2 570.1,72.4 570.7,69.6 571.3,66.9 571.9,64.4 572.5,62 573.1,59.8 573.7,57.7 574.3,55.7 575,53.8 575.6,52.1 576.2,50.4 576.8,48.9 577.4,47.5 578,46.2 578.6,45.1 579.2,44.2 579.7,43.3 580.3,42.5 580.8,41.8 581.4,41.2 581.9,40.6 582.4,40 582.9,39.6 583.4,39.2 583.8,38.8 584.3,38.6 584.7,38.3 585.1,38.1 585.5,38 585.9,37.9 586.2,37.8 586.5,37.8 586.8,37.8 587.1,37.9 587.4,38.1 587.8,38.3 588.2,38.5 588.7,38.8 589.2,39.1 589.7,39.5 590.3,40 590.9,40.5 591.5,41 592.1,41.7 592.7,42.4 593.3,43.2 594,44.1 594.7,45.1 595.4,46.2 596.1,47.3 596.8,48.4 597.4,49.5 598.1,50.5 598.7,51.5 599.3,52.5 599.9,53.6 600.5,54.6 601.1,55.6 601.7,56.6 602.3,57.6 603,58.5 603.7,59.4 604.4,60.3 605.1,61.1 605.9,62 606.6,62.8 607.4,63.5 608.1,64.2 608.8,64.9 609.5,65.5 610.2,66 610.9,66.5 611.5,66.9 612.2,67.3 612.9,67.7 613.5,68.1 614.2,68.6 614.9,69.1 615.6,69.5 616.2,70 616.9,70.4 617.6,70.9 618.3,71.4 618.9,71.9 619.6,72.5 620.3,73.1 621,73.8 621.7,74.5 622.4,75.2 623,76 623.7,76.7 624.4,77.5 625,78.3 625.6,79.1 626.1,79.8 626.6,80.6 627.1,81.4 627.6,82.2 628.1,83.1 628.7,84 629.4,85 630.3,86.1 631.3,87.5 632.4,88.9 633.5,90.3 634.6,91.7 635.6,93 636.5,94 637.1,94.8" fill="none" stroke="#ec1c24" stroke-width="1.8" stroke-linejoin="round" stroke-linecap="round" />
<polyline points="522,157.6 522.5,157.6 523,157.5 523.5,157.5 524,157.5 524.5,157.5 525,157.4 525.5,157.4 526,157.4 526.5,157.4 527,157.4 527.5,157.3 528,157.3 528.5,157.3 529,157.3 529.5,157.2 530,157.2 530.5,157.2 531,157.1 531.5,157.1 532,157.1 532.5,157 533,157 533.5,157 534,156.9 534.5,156.9 535,156.8 535.5,156.8 536,156.7 536.5,156.6 537,156.6 537.5,156.5 538,156.4 538.5,156.3 539,156.2 539.5,156.1 540,155.9 540.5,155.8 541,155.6 541.5,155.4 542,155.2 542.5,155 543,154.8 543.5,154.6 544,154.3 544.5,154.1 545,153.8 545.5,153.5 546,153.2 546.5,152.8 547,152.5 547.5,152.2 548,151.8 548.5,151.5 549,151.1 549.5,150.7 550,150.3 550.5,149.8 551,149.3 551.5,148.8 552,148.2 552.5,147.5 553,146.7 553.5,145.9 554,145.1 554.5,144.2 555,143.2 555.5,142.2 556,141.2 556.5,140.1 557,138.8 557.5,137.6 558,136.2 558.5,134.7 559,133.1 559.5,131.4 560,129.5 560.5,127.3 561,124.9 561.5,122.4 562,119.7 562.5,117 563,114.2 563.5,111.5 564,108.8 564.5,106.3 565,103.8 565.5,101.2 566,98.7 566.5,96.1 567,93.6 567.5,91.1 568,88.6 568.5,86.2 569,83.9 569.5,81.6 570,79.3 570.5,77.1 571,75.3 571.5,73.8 572,72.5 572.5,71.4 573,70.4 573.5,69.4 574,68.5 574.5,67.7 575,66.9 575.5,66.2 576,65.5 576.5,64.9 577,64.3 577.5,63.8 578,63.4 578.5,63.2 579,63 579.5,62.9 580,62.8 580.5,62.9 581,62.9 581.5,63 582,63.1 582.5,63.3 583,63.4 583.5,63.6 584,63.9 584.5,64.2 585,64.6 585.5,65 586,65.4 586.5,65.9 587,66.4 587.5,67 588,67.6 588.5,68.3 589,69 589.5,69.7 590,70.5 590.5,71.4 591,72.3 591.5,73.3 592,74.3 592.5,75.5 593,76.7 593.5,78.1 594,79.5 594.5,81 595,82.6 595.5,84.4 596,86.3 596.5,88.3 597,90.2 597.5,92 598,93.7 598.5,95.3 599,96.9 599.5,98.4 600,100 600.5,101.5 601,102.9 601.5,104.3 602,105.6 602.5,106.9 603,108 603.5,109 604,109.9 604.5,110.7 605,111.4 605.5,112.1 606,112.7 606.5,113.2 607,113.8 607.5,114.2 608,114.7 608.5,115.2 609,115.6 609.5,116.1 610,116.5 610.5,117 611,117.4 611.5,117.9 612,118.3 612.5,118.7 613,119.1 613.5,119.5 614,119.8 614.5,120.1 615,120.4 615.5,120.7 616,121 616.5,121.3 617,121.5 617.5,121.7 618,122 618.5,122.2 619,122.4 619.5,122.6 620,122.7 620.5,122.9 621,123.1 621.5,123.2 622,123.4 622.5,123.5 623,123.6 623.5,123.8 624,123.9 624.5,124 625,124 625.5,124.1 626,124.2 626.5,124.3 627,124.3 627.5,124.4 628,124.4 628.5,124.5 629,124.5 629.5,124.5 630,124.6 630.5,124.6 631,124.6 631.5,124.6 632,124.6 632.5,124.6 633,124.6 633.5,124.6 634,124.6 634.5,124.5 635,124.5 635.5,124.5 636,124.4 636.5,124.3 637,124.3 637.5,124.2 638,124.2 638.5,124.1 639,124 639.5,124 640,123.9 640.5,123.8 641,123.8 641.5,123.7 642,123.6 642.5,123.6 643,123.5 643.5,123.4 644,123.4 644.5,123.3 645,123.3 645.5,123.2 646,123.1 646.5,123.1 647,123 647.5,122.9 648,122.9 648.5,122.8 649,122.8 649.5,122.7 650,122.7 650.5,122.6 651,122.6 651.5,122.5 652,122.5 652.5,122.5 653,122.4 653.5,122.4 654,122.4 654.5,122.3 655,122.3 655.5,122.3 656,122.3 656.5,122.2 657,122.2 657.5,122.2 658,122.2 658.5,122.1 659,122.1 659.5,122.1 660,122.1 660.5,122.1 661,122 661.5,122 662,122 662.5,122 663,122 663.5,122 664,121.9 664.5,121.9 665,121.9 665.5,121.9 666,121.9 666.5,121.9 667,121.8 667.5,121.8 668,121.8 668.5,121.8 669,121.8 669.5,121.8 670,121.7 670.5,121.7 671,121.7 671.5,121.7 672,121.7 672.5,121.7 673,121.6 673.5,121.6 674,121.6 674.5,121.6 675,121.6 675.5,121.6 676,121.6 676.5,121.5 677,121.5 677.5,121.5 678,121.5 678.5,121.5 679,121.5 679.5,121.5 680,121.4 680.5,121.4 681,121.4 681.5,121.4 682,121.4 682.5,121.4 683,121.4 683.5,121.3 684,121.3 684.5,121.3 685,121.3 685.5,121.3 686,121.3 686.5,121.3 687,121.2 687.5,121.2 688,121.2 688.5,121.2 689,121.2 689.5,121.2 690,121.2 690.5,121.2 691,121.1 691.5,121.1 692,121.1 692.5,121.1 693,121.1 693.5,121.1 694,121.1 694.5,121.1 695,121.1 695.5,121 696,121 696.5,121 697,121 697.5,121 698,121 698.5,121 699,121 699.5,121 700,121 700.5,120.9 701,120.9 701.5,120.9 702,120.9 702.5,120.9 703,120.9 703.5,120.9 704,120.9 704.5,120.9 705,120.9 705.5,120.9 706,120.9 706.5,120.8 707,120.8 707.5,120.8 708,120.8 708.5,120.8 709,120.8 709.5,120.8 710,120.8 710.5,120.8 711,120.8 711.5,120.8 712,120.8 712.5,120.7 713,120.7 713.5,120.7 714,120.7 714.5,120.7 715,120.7 715.5,120.7 716,120.7 716.5,120.7 717,120.7 717.5,120.7 718,120.7 718.5,120.7 719,120.6 719.5,120.6 720,120.6 720.5,120.6 721,120.6 721.5,120.6 722,120.6" fill="none" stroke="#179317" stroke-width="1.7" stroke-linejoin="round" stroke-linecap="round" />
<polyline points="522,156.5 522.5,156.5 523,156.5 523.5,156.4 524,156.4 524.5,156.4 525,156.4 525.5,156.4 526,156.4 526.5,156.4 527,156.3 527.5,156.3 528,156.3 528.5,156.3 529,156.3 529.5,156.3 530,156.2 530.5,156.2 531,156.2 531.5,156.2 532,156.2 532.5,156.2 533,156.1 533.5,156.1 534,156.1 534.5,156.1 535,156.1 535.5,156 536,156 536.5,156 537,156 537.5,155.9 538,155.9 538.5,155.9 539,155.9 539.5,155.8 540,155.8 540.5,155.8 541,155.7 541.5,155.7 542,155.6 542.5,155.6 543,155.6 543.5,155.5 544,155.5 544.5,155.4 545,155.4 545.5,155.3 546,155.2 546.5,155.2 547,155.1 547.5,155 548,154.9 548.5,154.8 549,154.7 549.5,154.6 550,154.5 550.5,154.4 551,154.2 551.5,154.1 552,153.9 552.5,153.7 553,153.5 553.5,153.3 554,153 554.5,152.8 555,152.5 555.5,152.3 556,152 556.5,151.7 557,151.5 557.5,151.2 558,151 558.5,150.7 559,150.4 559.5,150.1 560,149.8 560.5,149.5 561,149.2 561.5,148.9 562,148.5 562.5,148.1 563,147.8 563.5,147.4 564,147.1 564.5,146.7 565,146.2 565.5,145.7 566,145.2 566.5,144.6 567,144 567.5,143.3 568,142.7 568.5,142 569,141.2 569.5,140.5 570,139.7 570.5,139 571,138.2 571.5,137.4 572,136.7 572.5,135.9 573,135.2 573.5,134.4 574,133.7 574.5,133 575,132.3 575.5,131.6 576,131 576.5,130.4 577,129.7 577.5,129.1 578,128.5 578.5,127.9 579,127.3 579.5,126.8 580,126.2 580.5,125.6 581,125 581.5,124.3 582,123.7 582.5,123.1 583,122.4 583.5,121.7 584,121 584.5,120.2 585,119.4 585.5,118.6 586,117.7 586.5,116.8 587,115.9 587.5,114.9 588,113.9 588.5,112.9 589,111.9 589.5,111 590,110 590.5,109.1 591,108.1 591.5,107.1 592,106.2 592.5,105.2 593,104.2 593.5,103.3 594,102.3 594.5,101.3 595,100.4 595.5,99.4 596,98.5 596.5,97.5 597,96.6 597.5,95.6 598,94.7 598.5,93.8 599,93 599.5,92.1 600,91.3 600.5,90.5 601,89.7 601.5,89 602,88.3 602.5,87.7 603,87 603.5,86.4 604,85.7 604.5,85.1 605,84.5 605.5,84 606,83.4 606.5,82.9 607,82.4 607.5,81.9 608,81.5 608.5,81.1 609,80.7 609.5,80.4 610,80 610.5,79.7 611,79.4 611.5,79.2 612,78.9 612.5,78.7 613,78.5 613.5,78.3 614,78.1 614.5,78 615,77.8 615.5,77.7 616,77.6 616.5,77.5 617,77.5 617.5,77.5 618,77.5 618.5,77.6 619,77.6 619.5,77.7 620,77.8 620.5,78 621,78.1 621.5,78.3 622,78.5 622.5,78.8 623,79 623.5,79.4 624,79.7 624.5,80.1 625,80.6 625.5,81.1 626,81.6 626.5,82.2 627,82.8 627.5,83.4 628,84 628.5,84.6 629,85.1 629.5,85.7 630,86.3 630.5,86.9 631,87.4 631.5,88 632,88.6 632.5,89.2 633,89.8 633.5,90.4 634,91 634.5,91.5 635,92.1 635.5,92.7 636,93.3 636.5,93.8 637,94.4 637.5,94.9 638,95.5 638.5,96.1 639,96.6 639.5,97.2 640,97.7 640.5,98.3 641,98.8 641.5,99.3 642,99.9 642.5,100.4 643,100.9 643.5,101.4 644,101.9 644.5,102.3 645,102.7 645.5,103.2 646,103.5 646.5,103.9 647,104.2 647.5,104.4 648,104.7 648.5,105 649,105.2 649.5,105.5 650,105.8 650.5,106.1 651,106.4 651.5,106.8 652,107.1 652.5,107.4 653,107.8 653.5,108.1 654,108.4 654.5,108.7 655,109.1 655.5,109.4 656,109.7 656.5,110 657,110.3 657.5,110.6 658,110.9 658.5,111.1 659,111.4 659.5,111.7 660,112 660.5,112.2 661,112.5 661.5,112.8 662,113 662.5,113.3 663,113.5 663.5,113.8 664,114 664.5,114.2 665,114.5 665.5,114.7 666,114.9 666.5,115 667,115.2 667.5,115.4 668,115.6 668.5,115.7 669,115.9 669.5,116 670,116.1 670.5,116.3 671,116.4 671.5,116.5 672,116.6 672.5,116.7 673,116.8 673.5,117 674,117.1 674.5,117.2 675,117.3 675.5,117.4 676,117.5 676.5,117.6 677,117.7 677.5,117.7 678,117.8 678.5,117.9 679,118 679.5,118 680,118.1 680.5,118.2 681,118.2 681.5,118.3 682,118.3 682.5,118.4 683,118.5 683.5,118.5 684,118.6 684.5,118.6 685,118.7 685.5,118.7 686,118.7 686.5,118.8 687,118.8 687.5,118.9 688,118.9 688.5,118.9 689,119 689.5,119 690,119 690.5,119.1 691,119.1 691.5,119.1 692,119.1 692.5,119.2 693,119.2 693.5,119.2 694,119.2 694.5,119.3 695,119.3 695.5,119.3 696,119.3 696.5,119.4 697,119.4 697.5,119.4 698,119.4 698.5,119.4 699,119.5 699.5,119.5 700,119.5 700.5,119.5 701,119.5 701.5,119.6 702,119.6 702.5,119.6 703,119.6 703.5,119.6 704,119.7 704.5,119.7 705,119.7 705.5,119.7 706,119.7 706.5,119.8 707,119.8 707.5,119.8 708,119.8 708.5,119.8 709,119.8 709.5,119.9 710,119.9 710.5,119.9 711,119.9 711.5,119.9 712,119.9 712.5,120 713,120 713.5,120 714,120 714.5,120 715,120.1 715.5,120.1 716,120.1 716.5,120.1 717,120.1 717.5,120.1 718,120.2 718.5,120.2 719,120.2 719.5,120.2 720,120.2 720.5,120.2 721,120.3 721.5,120.3 722,120.3" fill="none" stroke="#8c3fd8" stroke-width="1.7" stroke-linejoin="round" stroke-linecap="round" />
<line x1="635.8" y1="17.2" x2="660.4" y2="17.2" stroke="#111" stroke-width="2"/>
<line x1="635.8" y1="29.8" x2="660.4" y2="29.8" stroke="#ec1c24" stroke-width="2"/>
<line x1="635.8" y1="42.7" x2="660.4" y2="42.7" stroke="#ec1c24" stroke-width="2"/>
<line x1="635.8" y1="57.4" x2="660.4" y2="57.4" stroke="#179317" stroke-width="2"/>
<line x1="635.8" y1="72.3" x2="660.4" y2="72.3" stroke="#8c3fd8" stroke-width="2"/>
<circle cx="648.1" cy="17.2" r="1.3" fill="#fff" stroke="#888" stroke-width="0.6"/>
<text x="663.1" y="20.7" font-size="10" font-weight="bold" text-anchor="start" >Ni 3p Obs</text>
<text x="663.1" y="33.3" font-size="10" font-weight="bold" text-anchor="start" >Ni 3p Cal</text>
<text x="663.1" y="46.4" font-size="10" font-weight="bold" text-anchor="start" >Background</text>
<text x="663.1" y="61" font-size="10" font-weight="bold">Ni<tspan font-size="7" dy="-4">2+</tspan></text>
<text x="663.1" y="75.8" font-size="10" font-weight="bold">Ni<tspan font-size="7" dy="-4">3+</tspan></text>
<rect x="522" y="11.6" width="200.2" height="160.3" fill="none" stroke="#000" stroke-width="2.8"/>
<line x1="522" y1="170.6" x2="522" y2="168" stroke="#000" stroke-width="1.6"/>
<line x1="562.1" y1="170.6" x2="562.1" y2="168" stroke="#000" stroke-width="1.6"/>
<line x1="602.1" y1="170.6" x2="602.1" y2="168" stroke="#000" stroke-width="1.6"/>
<line x1="642.1" y1="170.6" x2="642.1" y2="168" stroke="#000" stroke-width="1.6"/>
<line x1="682.2" y1="170.6" x2="682.2" y2="168" stroke="#000" stroke-width="1.6"/>
<line x1="722.2" y1="170.6" x2="722.2" y2="168" stroke="#000" stroke-width="1.6"/>
<line x1="542.1" y1="170.6" x2="542.1" y2="169" stroke="#000" stroke-width="1.2"/>
<line x1="582.1" y1="170.6" x2="582.1" y2="169" stroke="#000" stroke-width="1.2"/>
<line x1="622.1" y1="170.6" x2="622.1" y2="169" stroke="#000" stroke-width="1.2"/>
<line x1="662.2" y1="170.6" x2="662.2" y2="169" stroke="#000" stroke-width="1.2"/>
<line x1="702.2" y1="170.6" x2="702.2" y2="169" stroke="#000" stroke-width="1.2"/>
<text x="522" y="184" font-size="10" font-weight="normal" text-anchor="middle" class="r" >64</text>
<text x="562.1" y="184" font-size="10" font-weight="normal" text-anchor="middle" class="r" >66</text>
<text x="602.1" y="184" font-size="10" font-weight="normal" text-anchor="middle" class="r" >68</text>
<text x="642.1" y="184" font-size="10" font-weight="normal" text-anchor="middle" class="r" >70</text>
<text x="682.2" y="184" font-size="10" font-weight="normal" text-anchor="middle" class="r" >72</text>
<text x="722.2" y="184" font-size="10" font-weight="normal" text-anchor="middle" class="r" >74</text>
<text x="621.7" y="203.9" font-size="13" font-weight="bold" text-anchor="middle" >Binding energy (eV)</text>
<text transform="translate(508.3,84.4) rotate(-90)" x="0" y="0" font-size="13" font-weight="bold" text-anchor="middle">Intensity (a.u.)</text>
<text x="530.1" y="32.85" font-size="23" class="L">(c)</text>
<polygon points="30,363.1 30.5,362.9 31,362.8 31.5,362.7 32,362.5 32.5,362.4 33,362.3 33.5,362.2 34,362 34.5,361.9 35,361.8 35.5,361.6 36,361.5 36.5,361.4 37,361.3 37.5,361.1 38,361 38.5,360.9 39,360.7 39.5,360.6 40,360.5 40.5,360.3 41,360.2 41.5,360.1 42,360 42.5,359.8 43,359.7 43.5,359.6 44,359.4 44.5,359.3 45,359.2 45.5,359 46,358.9 46.5,358.7 47,358.6 47.5,358.5 48,358.3 48.5,358.2 49,358 49.5,357.9 50,357.7 50.5,357.6 51,357.4 51.5,357.3 52,357.1 52.5,356.9 53,356.8 53.5,356.6 54,356.4 54.5,356.2 55,356 55.5,355.8 56,355.6 56.5,355.4 57,355.2 57.5,355 58,354.8 58.5,354.6 59,354.3 59.5,354.1 60,353.9 60.5,353.7 61,353.5 61.5,353.3 62,353.1 62.5,352.8 63,352.5 63.5,352 64,351.4 64.5,350.7 65,349.9 65.5,349.1 66,348.1 66.5,347.2 67,346.2 67.5,345.3 68,344.3 68.5,343.1 69,341.9 69.5,340.3 70,338 70.5,335.1 71,332.4 71.5,330 72,327.5 72.5,324.8 73,321.9 73.5,319.1 74,316.4 74.5,314 75,311.3 75.5,307.5 76,302.5 76.5,298.6 77,295.6 77.5,292.8 78,290 78.5,287.2 79,284.5 79.5,282 80,279.6 80.5,277.4 81,275.6 81.5,274.1 82,273 82.5,272.2 83,271.7 83.5,271.4 84,271.3 84.5,271.5 85,271.8 85.5,272.5 86,273.5 86.5,274.7 87,276.1 87.5,277.8 88,279.6 88.5,281.6 89,283.7 89.5,285.9 90,288.2 90.5,291 91,294.5 91.5,298.3 92,301.9 92.5,305.1 93,308.3 93.5,311.5 94,314.7 94.5,317.9 95,320.8 95.5,323.2 96,325.3 96.5,327.1 97,328.9 97.5,330.4 98,331.8 98.5,333.1 99,334.3 99.5,335.4 100,336.4 100.5,337.2 101,337.9 101.5,338.5 102,339.1 102.5,339.7 103,340.2 103.5,340.6 104,340.9 104.5,341.1 105,341.4 105.5,341.7 106,341.9 106.5,342.1 107,342.2 107.5,342.2 108,342.2 108.5,342.2 109,342.2 109.5,342.1 110,342.1 110.5,342 111,342 111.5,341.9 112,341.8 112.5,341.7 113,341.6 113.5,341.5 114,341.4 114.5,341.3 115,341.2 115.5,341.1 116,341 116.5,340.9 117,340.8 117.5,340.7 118,340.6 118.5,340.5 119,340.4 119.5,340.2 120,340.1 120.5,340 121,339.9 121.5,339.8 122,339.7 122.5,339.5 123,339.4 123.5,339.3 124,339.2 124.5,339.1 125,339 125.5,338.9 126,338.7 126.5,338.6 127,338.5 127.5,338.4 128,338.3 128.5,338.2 129,338.1 129.5,337.9 130,337.8 130.5,337.7 131,337.6 131.5,337.5 132,337.4 132.5,337.3 133,337.2 133.5,337.1 134,336.9 134.5,336.8 135,336.7 135.5,336.6 136,336.5 136.5,336.4 137,336.3 137.5,336.2 138,336 138.5,335.9 139,335.8 139.5,335.7 140,335.6 140.5,335.5 141,335.4 141.5,335.2 142,335.1 142.5,335 143,334.9 143.5,334.8 144,334.7 144.5,334.6 145,334.5 145.5,334.3 146,334.2 146.5,334.1 147,334 147.5,333.9 148,333.8 148.5,333.7 149,333.5 149.5,333.4 150,333.3 150.5,333.2 151,333.1 151.5,333 152,332.8 152.5,332.7 153,332.6 153.5,332.5 154,332.4 154.5,332.3 155,332.2 155.5,332 156,331.9 156.5,331.8 157,331.7 157.5,331.6 158,331.4 158.5,331.3 159,331.2 159.5,331.1 160,331 160.5,330.9 161,330.7 161.5,330.6 162,330.5 162.5,330.4 163,330.3 163.5,330.1 164,330 164.5,329.9 165,329.8 165.5,329.7 166,329.5 166.5,329.4 167,329.3 167.5,329.2 168,329.1 168.5,329 169,328.8 169.5,328.7 170,328.6 170.5,328.5 171,328.3 171.5,328.2 172,328.1 172.5,328 173,327.9 173.5,327.7 174,327.6 174.5,327.5 175,327.4 175.5,327.3 176,327.1 176.5,327 177,326.9 177.5,326.8 178,326.6 178.5,326.5 179,326.4 179.5,326.3 180,326.1 180.5,326 181,325.9 181.5,325.8 182,325.6 182.5,325.5 183,325.4 183.5,325.3 184,325.1 184.5,325 185,324.9 185.5,324.8 186,324.6 186.5,324.5 187,324.4 187.5,324.3 188,324.1 188.5,324 189,323.9 189.5,323.7 190,323.6 190.5,323.5 191,323.4 191.5,323.2 192,323.1 192.5,323 193,322.8 193.5,322.7 194,322.6 194.5,322.5 195,322.3 195.5,322.2 196,322.1 196.5,321.9 197,321.8 197.5,321.7 198,321.6 198.5,321.4 199,321.3 199.5,321.2 200,321 200.5,320.9 201,320.8 201.5,320.6 202,320.5 202.5,320.4 203,320.2 203.5,320.1 204,320 204.5,319.9 205,319.7 205.5,319.6 206,319.5 206.5,319.3 207,319.2 207.5,319.1 208,318.9 208.5,318.8 209,318.7 209.5,318.5 210,318.4 210.5,318.3 211,318.1 211.5,318 212,317.9 212.5,317.7 213,317.6 213.5,317.5 214,317.4 214.5,317.2 215,317.1 215.5,317 216,316.8 216.5,316.7 217,316.6 217.5,316.4 218,316.3 218.5,316.2 219,316 219.5,315.9 220,315.8 220.5,315.6 221,315.5 221.5,315.4 222,315.2 222.5,315.1 223,315 223.5,314.8 224,314.7 224.5,314.6 225,314.4 225.5,314.3 226,314.2 226.5,314 227,313.9 227.5,313.8 228,313.6 228.5,313.5 229,313.4 229.5,313.3 230,313.1 230.5,313 231,312.9 231,311.3 230.5,311.4 230,311.5 229.5,311.6 229,311.8 228.5,311.9 228,312 227.5,312.2 227,312.3 226.5,312.4 226,312.5 225.5,312.7 225,312.8 224.5,312.9 224,313 223.5,313.2 223,313.3 222.5,313.4 222,313.6 221.5,313.7 221,313.8 220.5,313.9 220,314.1 219.5,314.2 219,314.3 218.5,314.4 218,314.6 217.5,314.7 217,314.8 216.5,315 216,315.1 215.5,315.2 215,315.3 214.5,315.5 214,315.6 213.5,315.7 213,315.9 212.5,316 212,316.1 211.5,316.2 211,316.4 210.5,316.5 210,316.6 209.5,316.7 209,316.9 208.5,317 208,317.1 207.5,317.3 207,317.4 206.5,317.5 206,317.6 205.5,317.8 205,317.9 204.5,318 204,318.1 203.5,318.3 203,318.4 202.5,318.5 202,318.7 201.5,318.8 201,318.9 200.5,319 200,319.2 199.5,319.3 199,319.4 198.5,319.6 198,319.7 197.5,319.8 197,319.9 196.5,320.1 196,320.2 195.5,320.3 195,320.4 194.5,320.6 194,320.7 193.5,320.8 193,321 192.5,321.1 192,321.2 191.5,321.3 191,321.5 190.5,321.6 190,321.7 189.5,321.8 189,322 188.5,322.1 188,322.2 187.5,322.4 187,322.5 186.5,322.6 186,322.7 185.5,322.9 185,323 184.5,323.1 184,323.3 183.5,323.4 183,323.5 182.5,323.6 182,323.8 181.5,323.9 181,324 180.5,324.1 180,324.3 179.5,324.4 179,324.5 178.5,324.7 178,324.8 177.5,324.9 177,325 176.5,325.2 176,325.3 175.5,325.4 175,325.5 174.5,325.7 174,325.8 173.5,325.9 173,326.1 172.5,326.2 172,326.3 171.5,326.4 171,326.6 170.5,326.7 170,326.8 169.5,327 169,327.1 168.5,327.2 168,327.3 167.5,327.5 167,327.6 166.5,327.7 166,327.8 165.5,328 165,328.1 164.5,328.2 164,328.4 163.5,328.5 163,328.6 162.5,328.7 162,328.9 161.5,329 161,329.1 160.5,329.2 160,329.4 159.5,329.5 159,329.6 158.5,329.8 158,329.9 157.5,330 157,330.1 156.5,330.3 156,330.4 155.5,330.5 155,330.7 154.5,330.8 154,330.9 153.5,331 153,331.2 152.5,331.3 152,331.4 151.5,331.5 151,331.7 150.5,331.8 150,331.9 149.5,332.1 149,332.2 148.5,332.3 148,332.4 147.5,332.6 147,332.7 146.5,332.8 146,332.9 145.5,333.1 145,333.2 144.5,333.3 144,333.5 143.5,333.6 143,333.7 142.5,333.8 142,334 141.5,334.1 141,334.2 140.5,334.4 140,334.5 139.5,334.6 139,334.7 138.5,334.9 138,335 137.5,335.1 137,335.2 136.5,335.4 136,335.5 135.5,335.6 135,335.8 134.5,335.9 134,336 133.5,336.1 133,336.3 132.5,336.4 132,336.5 131.5,336.7 131,336.8 130.5,336.9 130,337 129.5,337.2 129,337.3 128.5,337.4 128,337.5 127.5,337.7 127,337.8 126.5,337.9 126,338.1 125.5,338.2 125,338.3 124.5,338.4 124,338.6 123.5,338.7 123,338.8 122.5,338.9 122,339.1 121.5,339.2 121,339.3 120.5,339.5 120,339.6 119.5,339.7 119,339.8 118.5,340 118,340.1 117.5,340.2 117,340.4 116.5,340.5 116,340.6 115.5,340.7 115,340.9 114.5,341 114,341.1 113.5,341.2 113,341.4 112.5,341.5 112,341.6 111.5,341.8 111,341.9 110.5,342 110,342.1 109.5,342.3 109,342.4 108.5,342.5 108,342.6 107.5,342.8 107,342.9 106.5,343 106,343.2 105.5,343.3 105,343.4 104.5,343.5 104,343.7 103.5,343.8 103,343.9 102.5,344.1 102,344.2 101.5,344.3 101,344.4 100.5,344.6 100,344.7 99.5,344.8 99,344.9 98.5,345.1 98,345.2 97.5,345.3 97,345.5 96.5,345.6 96,345.7 95.5,345.8 95,346 94.5,346.1 94,346.2 93.5,346.3 93,346.5 92.5,346.6 92,346.7 91.5,346.9 91,347 90.5,347.1 90,347.2 89.5,347.4 89,347.5 88.5,347.6 88,347.8 87.5,347.9 87,348 86.5,348.1 86,348.3 85.5,348.4 85,348.5 84.5,348.6 84,348.8 83.5,348.9 83,349 82.5,349.2 82,349.3 81.5,349.4 81,349.5 80.5,349.7 80,349.8 79.5,349.9 79,350 78.5,350.2 78,350.3 77.5,350.4 77,350.6 76.5,350.7 76,350.8 75.5,350.9 75,351.1 74.5,351.2 74,351.3 73.5,351.5 73,351.6 72.5,351.7 72,351.8 71.5,352 71,352.1 70.5,352.2 70,352.3 69.5,352.5 69,352.6 68.5,352.7 68,352.9 67.5,353 67,353.1 66.5,353.2 66,353.4 65.5,353.5 65,353.6 64.5,353.7 64,353.9 63.5,354 63,354.1 62.5,354.3 62,354.4 61.5,354.5 61,354.6 60.5,354.8 60,354.9 59.5,355 59,355.2 58.5,355.3 58,355.4 57.5,355.5 57,355.7 56.5,355.8 56,355.9 55.5,356 55,356.2 54.5,356.3 54,356.4 53.5,356.6 53,356.7 52.5,356.8 52,356.9 51.5,357.1 51,357.2 50.5,357.3 50,357.4 49.5,357.6 49,357.7 48.5,357.8 48,358 47.5,358.1 47,358.2 46.5,358.3 46,358.5 45.5,358.6 45,358.7 44.5,358.9 44,359 43.5,359.1 43,359.2 42.5,359.4 42,359.5 41.5,359.6 41,359.7 40.5,359.9 40,360 39.5,360.1 39,360.3 38.5,360.4 38,360.5 37.5,360.6 37,360.8 36.5,360.9 36,361 35.5,361.1 35,361.3 34.5,361.4 34,361.5 33.5,361.7 33,361.8 32.5,361.9 32,362 31.5,362.2 31,362.3 30.5,362.4 30,362.6" fill="#9c9c9c" stroke="none" />
<polygon points="30,361.2 30.5,361.1 31,360.9 31.5,360.8 32,360.6 32.5,360.5 33,360.3 33.5,360.2 34,360 34.5,359.9 35,359.7 35.5,359.6 36,359.4 36.5,359.3 37,359.1 37.5,359 38,358.9 38.5,358.7 39,358.6 39.5,358.4 40,358.3 40.5,358.1 41,358 41.5,357.9 42,357.7 42.5,357.6 43,357.4 43.5,357.3 44,357.2 44.5,357 45,356.9 45.5,356.8 46,356.6 46.5,356.5 47,356.4 47.5,356.2 48,356.1 48.5,356 49,355.8 49.5,355.7 50,355.6 50.5,355.4 51,355.3 51.5,355.2 52,355 52.5,354.9 53,354.8 53.5,354.6 54,354.5 54.5,354.4 55,354.2 55.5,354.1 56,354 56.5,353.9 57,353.8 57.5,353.7 58,353.6 58.5,353.5 59,353.3 59.5,353.2 60,353.1 60.5,352.9 61,352.7 61.5,352.5 62,352.3 62.5,352 63,351.7 63.5,351.3 64,350.9 64.5,350.4 65,349.9 65.5,349.4 66,348.9 66.5,348.3 67,347.8 67.5,347.3 68,346.7 68.5,346.2 69,345.6 69.5,345.1 70,344.5 70.5,343.9 71,343.4 71.5,342.8 72,342.2 72.5,341.7 73,341.2 73.5,340.7 74,340.3 74.5,339.8 75,339.4 75.5,339 76,338.5 76.5,338 77,337.5 77.5,336.9 78,336.2 78.5,335.5 79,334.8 79.5,333.9 80,333 80.5,332 81,331 81.5,330 82,328.9 82.5,327.8 83,326.7 83.5,325.5 84,324.3 84.5,322.9 85,321.5 85.5,320 86,318.5 86.5,316.9 87,315.3 87.5,313.6 88,311.8 88.5,310.1 89,308.3 89.5,306.5 90,304.6 90.5,302.8 91,301.1 91.5,299.4 92,297.8 92.5,296.2 93,294.7 93.5,293.2 94,291.9 94.5,290.6 95,289.6 95.5,288.7 96,288.1 96.5,287.6 97,287.2 97.5,287 98,286.8 98.5,286.7 99,286.7 99.5,286.9 100,287.3 100.5,287.9 101,288.5 101.5,289.2 102,290.1 102.5,291.1 103,292.1 103.5,293.2 104,294.3 104.5,295.5 105,296.8 105.5,298.2 106,299.5 106.5,300.9 107,302.4 107.5,303.8 108,305.2 108.5,306.5 109,307.7 109.5,308.7 110,309.6 110.5,310.5 111,311.5 111.5,312.6 112,313.7 112.5,314.8 113,315.8 113.5,316.6 114,317.3 114.5,317.9 115,318.3 115.5,318.8 116,319.2 116.5,319.6 117,320 117.5,320.4 118,320.9 118.5,321.3 119,321.8 119.5,322.2 120,322.6 120.5,323 121,323.3 121.5,323.7 122,324.1 122.5,324.4 123,324.8 123.5,325.1 124,325.5 124.5,325.8 125,326.2 125.5,326.6 126,326.9 126.5,327.3 127,327.7 127.5,328.1 128,328.5 128.5,328.8 129,329.2 129.5,329.5 130,329.8 130.5,330.1 131,330.3 131.5,330.6 132,330.8 132.5,331 133,331.3 133.5,331.4 134,331.6 134.5,331.8 135,332 135.5,332.2 136,332.4 136.5,332.6 137,332.8 137.5,333 138,333.1 138.5,333.2 139,333.3 139.5,333.3 140,333.3 140.5,333.3 141,333.2 141.5,333.2 142,333.1 142.5,333 143,333 143.5,332.9 144,332.8 144.5,332.7 145,332.6 145.5,332.5 146,332.4 146.5,332.3 147,332.2 147.5,332.1 148,332 148.5,331.9 149,331.7 149.5,331.6 150,331.5 150.5,331.4 151,331.3 151.5,331.2 152,331.1 152.5,331 153,330.9 153.5,330.8 154,330.7 154.5,330.6 155,330.5 155.5,330.3 156,330.2 156.5,330.1 157,330 157.5,329.9 158,329.8 158.5,329.6 159,329.5 159.5,329.4 160,329.3 160.5,329.2 161,329 161.5,328.9 162,328.8 162.5,328.7 163,328.6 163.5,328.4 164,328.3 164.5,328.2 165,328.1 165.5,327.9 166,327.8 166.5,327.7 167,327.6 167.5,327.4 168,327.3 168.5,327.2 169,327.1 169.5,326.9 170,326.8 170.5,326.7 171,326.6 171.5,326.4 172,326.3 172.5,326.2 173,326.1 173.5,325.9 174,325.8 174.5,325.7 175,325.6 175.5,325.4 176,325.3 176.5,325.2 177,325.1 177.5,324.9 178,324.8 178.5,324.7 179,324.6 179.5,324.4 180,324.3 180.5,324.2 181,324 181.5,323.9 182,323.8 182.5,323.7 183,323.5 183.5,323.4 184,323.3 184.5,323.2 185,323 185.5,322.9 186,322.8 186.5,322.6 187,322.5 187.5,322.4 188,322.3 188.5,322.1 189,322 189.5,321.9 190,321.8 190.5,321.6 191,321.5 191.5,321.4 192,321.2 192.5,321.1 193,321 193.5,320.9 194,320.7 194.5,320.6 195,320.5 195.5,320.3 196,320.2 196.5,320.1 197,320 197.5,319.8 198,319.7 198.5,319.6 199,319.5 199.5,319.3 200,319.2 200.5,319.1 201,318.9 201.5,318.8 202,318.7 202.5,318.6 203,318.4 203.5,318.3 204,318.2 204.5,318 205,317.9 205.5,317.8 206,317.7 206.5,317.5 207,317.4 207.5,317.3 208,317.1 208.5,317 209,316.9 209.5,316.8 210,316.6 210.5,316.5 211,316.4 211.5,316.3 212,316.1 212.5,316 213,315.9 213.5,315.7 214,315.6 214.5,315.5 215,315.4 215.5,315.2 216,315.1 216.5,315 217,314.8 217.5,314.7 218,314.6 218.5,314.5 219,314.3 219.5,314.2 220,314.1 220.5,313.9 221,313.8 221.5,313.7 222,313.6 222.5,313.4 223,313.3 223.5,313.2 224,313 224.5,312.9 225,312.8 225.5,312.7 226,312.5 226.5,312.4 227,312.3 227.5,312.2 228,312 228.5,311.9 229,311.8 229.5,311.6 230,311.5 230.5,311.4 231,311.3 231,311.3 230.5,311.4 230,311.5 229.5,311.6 229,311.8 228.5,311.9 228,312 227.5,312.2 227,312.3 226.5,312.4 226,312.5 225.5,312.7 225,312.8 224.5,312.9 224,313 223.5,313.2 223,313.3 222.5,313.4 222,313.6 221.5,313.7 221,313.8 220.5,313.9 220,314.1 219.5,314.2 219,314.3 218.5,314.4 218,314.6 217.5,314.7 217,314.8 216.5,315 216,315.1 215.5,315.2 215,315.3 214.5,315.5 214,315.6 213.5,315.7 213,315.9 212.5,316 212,316.1 211.5,316.2 211,316.4 210.5,316.5 210,316.6 209.5,316.7 209,316.9 208.5,317 208,317.1 207.5,317.3 207,317.4 206.5,317.5 206,317.6 205.5,317.8 205,317.9 204.5,318 204,318.1 203.5,318.3 203,318.4 202.5,318.5 202,318.7 201.5,318.8 201,318.9 200.5,319 200,319.2 199.5,319.3 199,319.4 198.5,319.6 198,319.7 197.5,319.8 197,319.9 196.5,320.1 196,320.2 195.5,320.3 195,320.4 194.5,320.6 194,320.7 193.5,320.8 193,321 192.5,321.1 192,321.2 191.5,321.3 191,321.5 190.5,321.6 190,321.7 189.5,321.8 189,322 188.5,322.1 188,322.2 187.5,322.4 187,322.5 186.5,322.6 186,322.7 185.5,322.9 185,323 184.5,323.1 184,323.3 183.5,323.4 183,323.5 182.5,323.6 182,323.8 181.5,323.9 181,324 180.5,324.1 180,324.3 179.5,324.4 179,324.5 178.5,324.7 178,324.8 177.5,324.9 177,325 176.5,325.2 176,325.3 175.5,325.4 175,325.5 174.5,325.7 174,325.8 173.5,325.9 173,326.1 172.5,326.2 172,326.3 171.5,326.4 171,326.6 170.5,326.7 170,326.8 169.5,327 169,327.1 168.5,327.2 168,327.3 167.5,327.5 167,327.6 166.5,327.7 166,327.8 165.5,328 165,328.1 164.5,328.2 164,328.4 163.5,328.5 163,328.6 162.5,328.7 162,328.9 161.5,329 161,329.1 160.5,329.2 160,329.4 159.5,329.5 159,329.6 158.5,329.8 158,329.9 157.5,330 157,330.1 156.5,330.3 156,330.4 155.5,330.5 155,330.7 154.5,330.8 154,330.9 153.5,331 153,331.2 152.5,331.3 152,331.4 151.5,331.5 151,331.7 150.5,331.8 150,331.9 149.5,332.1 149,332.2 148.5,332.3 148,332.4 147.5,332.6 147,332.7 146.5,332.8 146,332.9 145.5,333.1 145,333.2 144.5,333.3 144,333.5 143.5,333.6 143,333.7 142.5,333.8 142,334 141.5,334.1 141,334.2 140.5,334.4 140,334.5 139.5,334.6 139,334.7 138.5,334.9 138,335 137.5,335.1 137,335.2 136.5,335.4 136,335.5 135.5,335.6 135,335.8 134.5,335.9 134,336 133.5,336.1 133,336.3 132.5,336.4 132,336.5 131.5,336.7 131,336.8 130.5,336.9 130,337 129.5,337.2 129,337.3 128.5,337.4 128,337.5 127.5,337.7 127,337.8 126.5,337.9 126,338.1 125.5,338.2 125,338.3 124.5,338.4 124,338.6 123.5,338.7 123,338.8 122.5,338.9 122,339.1 121.5,339.2 121,339.3 120.5,339.5 120,339.6 119.5,339.7 119,339.8 118.5,340 118,340.1 117.5,340.2 117,340.4 116.5,340.5 116,340.6 115.5,340.7 115,340.9 114.5,341 114,341.1 113.5,341.2 113,341.4 112.5,341.5 112,341.6 111.5,341.8 111,341.9 110.5,342 110,342.1 109.5,342.3 109,342.4 108.5,342.5 108,342.6 107.5,342.8 107,342.9 106.5,343 106,343.2 105.5,343.3 105,343.4 104.5,343.5 104,343.7 103.5,343.8 103,343.9 102.5,344.1 102,344.2 101.5,344.3 101,344.4 100.5,344.6 100,344.7 99.5,344.8 99,344.9 98.5,345.1 98,345.2 97.5,345.3 97,345.5 96.5,345.6 96,345.7 95.5,345.8 95,346 94.5,346.1 94,346.2 93.5,346.3 93,346.5 92.5,346.6 92,346.7 91.5,346.9 91,347 90.5,347.1 90,347.2 89.5,347.4 89,347.5 88.5,347.6 88,347.8 87.5,347.9 87,348 86.5,348.1 86,348.3 85.5,348.4 85,348.5 84.5,348.6 84,348.8 83.5,348.9 83,349 82.5,349.2 82,349.3 81.5,349.4 81,349.5 80.5,349.7 80,349.8 79.5,349.9 79,350 78.5,350.2 78,350.3 77.5,350.4 77,350.6 76.5,350.7 76,350.8 75.5,350.9 75,351.1 74.5,351.2 74,351.3 73.5,351.5 73,351.6 72.5,351.7 72,351.8 71.5,352 71,352.1 70.5,352.2 70,352.3 69.5,352.5 69,352.6 68.5,352.7 68,352.9 67.5,353 67,353.1 66.5,353.2 66,353.4 65.5,353.5 65,353.6 64.5,353.7 64,353.9 63.5,354 63,354.1 62.5,354.3 62,354.4 61.5,354.5 61,354.6 60.5,354.8 60,354.9 59.5,355 59,355.2 58.5,355.3 58,355.4 57.5,355.5 57,355.7 56.5,355.8 56,355.9 55.5,356 55,356.2 54.5,356.3 54,356.4 53.5,356.6 53,356.7 52.5,356.8 52,356.9 51.5,357.1 51,357.2 50.5,357.3 50,357.4 49.5,357.6 49,357.7 48.5,357.8 48,358 47.5,358.1 47,358.2 46.5,358.3 46,358.5 45.5,358.6 45,358.7 44.5,358.9 44,359 43.5,359.1 43,359.2 42.5,359.4 42,359.5 41.5,359.6 41,359.7 40.5,359.9 40,360 39.5,360.1 39,360.3 38.5,360.4 38,360.5 37.5,360.6 37,360.8 36.5,360.9 36,361 35.5,361.1 35,361.3 34.5,361.4 34,361.5 33.5,361.7 33,361.8 32.5,361.9 32,362 31.5,362.2 31,362.3 30.5,362.4 30,362.6" fill="#ffff22" stroke="none" />
<polygon points="140,331.9 140.5,331.9 141,331.9 141.5,331.9 142,331.9 142.5,331.9 143,331.9 143.5,331.9 144,331.9 144.5,331.9 145,331.9 145.5,331.9 146,331.9 146.5,331.9 147,331.9 147.5,331.9 148,331.9 148.5,331.9 149,331.9 149.5,331.9 150,331.9 150.5,331.8 151,331.6 151.5,331.5 152,331.4 152.5,331.2 153,331.1 153.5,330.9 154,330.7 154.5,330.6 155,330.4 155.5,330.2 156,330 156.5,329.8 157,329.5 157.5,329.3 158,329 158.5,328.7 159,328.3 159.5,327.8 160,327.3 160.5,326.7 161,326 161.5,325.3 162,324.6 162.5,323.8 163,322.9 163.5,322 164,321 164.5,319.9 165,318.7 165.5,317.4 166,315.9 166.5,314.5 167,313 167.5,311.5 168,309.9 168.5,308.3 169,306.7 169.5,305.1 170,303.5 170.5,302 171,300.4 171.5,298.9 172,297.4 172.5,295.9 173,294.5 173.5,293.3 174,292.2 174.5,291.1 175,290.2 175.5,289.4 176,288.7 176.5,288 177,287.5 177.5,287.1 178,286.9 178.5,286.8 179,286.9 179.5,287.1 180,287.4 180.5,287.8 181,288.4 181.5,289.2 182,290.1 182.5,291.1 183,292.3 183.5,293.5 184,294.9 184.5,296.4 185,298 185.5,299.6 186,301 186.5,302.3 187,303.6 187.5,304.8 188,306 188.5,307.2 189,308.3 189.5,309.4 190,310.5 190.5,311.5 191,312.4 191.5,313.2 192,314 192.5,314.7 193,315.4 193.5,316 194,316.6 194.5,317.1 195,317.5 195.5,317.9 196,318.2 196.5,318.4 197,318.6 197.5,318.7 198,318.8 198.5,318.8 199,318.8 199.5,318.9 200,318.9 200.5,318.8 201,318.8 201.5,318.7 202,318.6 202.5,318.5 203,318.3 203.5,318.2 204,318.1 204.5,318 205,317.9 205.5,317.8 206,317.7 206.5,317.5 207,317.4 207.5,317.3 208,317.2 208.5,317 209,316.9 209.5,316.8 210,316.7 210.5,316.5 211,316.4 211.5,316.3 212,316.2 212.5,316 213,315.9 213.5,315.8 214,315.7 214.5,315.5 215,315.4 215.5,315.3 216,315.1 216.5,315 217,314.9 217.5,314.8 218,314.6 218.5,314.5 219,314.4 219.5,314.2 220,314.1 220.5,314 221,313.8 221.5,313.7 222,313.6 222.5,313.5 223,313.3 223.5,313.2 224,313.1 224.5,312.9 225,312.8 225.5,312.7 226,312.6 226.5,312.4 227,312.3 227.5,312.2 228,312 228.5,311.9 229,311.8 229.5,311.6 230,311.5 230.5,311.4 231,311.3 231,311.3 230.5,311.4 230,311.5 229.5,311.6 229,311.8 228.5,311.9 228,312 227.5,312.2 227,312.3 226.5,312.4 226,312.5 225.5,312.7 225,312.8 224.5,312.9 224,313 223.5,313.2 223,313.3 222.5,313.4 222,313.6 221.5,313.7 221,313.8 220.5,313.9 220,314.1 219.5,314.2 219,314.3 218.5,314.4 218,314.6 217.5,314.7 217,314.8 216.5,315 216,315.1 215.5,315.2 215,315.3 214.5,315.5 214,315.6 213.5,315.7 213,315.9 212.5,316 212,316.1 211.5,316.2 211,316.4 210.5,316.5 210,316.6 209.5,316.7 209,316.9 208.5,317 208,317.1 207.5,317.3 207,317.4 206.5,317.5 206,317.6 205.5,317.8 205,317.9 204.5,318 204,318.1 203.5,318.3 203,318.4 202.5,318.5 202,318.7 201.5,318.8 201,318.9 200.5,319 200,319.2 199.5,319.3 199,319.4 198.5,319.6 198,319.7 197.5,319.8 197,319.9 196.5,320.1 196,320.2 195.5,320.3 195,320.4 194.5,320.6 194,320.7 193.5,320.8 193,321 192.5,321.1 192,321.2 191.5,321.3 191,321.5 190.5,321.6 190,321.7 189.5,321.8 189,322 188.5,322.1 188,322.2 187.5,322.4 187,322.5 186.5,322.6 186,322.7 185.5,322.9 185,323 184.5,323.1 184,323.3 183.5,323.4 183,323.5 182.5,323.6 182,323.8 181.5,323.9 181,324 180.5,324.1 180,324.3 179.5,324.4 179,324.5 178.5,324.7 178,324.8 177.5,324.9 177,325 176.5,325.2 176,325.3 175.5,325.4 175,325.5 174.5,325.7 174,325.8 173.5,325.9 173,326.1 172.5,326.2 172,326.3 171.5,326.4 171,326.6 170.5,326.7 170,326.8 169.5,327 169,327.1 168.5,327.2 168,327.3 167.5,327.5 167,327.6 166.5,327.7 166,327.8 165.5,328 165,328.1 164.5,328.2 164,328.4 163.5,328.5 163,328.6 162.5,328.7 162,328.9 161.5,329 161,329.1 160.5,329.2 160,329.4 159.5,329.5 159,329.6 158.5,329.8 158,329.9 157.5,330 157,330.1 156.5,330.3 156,330.4 155.5,330.5 155,330.7 154.5,330.8 154,330.9 153.5,331 153,331.2 152.5,331.3 152,331.4 151.5,331.5 151,331.7 150.5,331.8 150,331.9 149.5,332.1 149,332.2 148.5,332.3 148,332.4 147.5,332.6 147,332.7 146.5,332.8 146,332.9 145.5,333.1 145,333.2 144.5,333.3 144,333.5 143.5,333.6 143,333.7 142.5,333.8 142,334 141.5,334.1 141,334.2 140.5,334.4 140,334.5" fill="#9c9c9c" stroke="none" />
<polygon points="140,331.9 140.5,331.9 141,331.9 141.5,331.9 142,331.9 142.5,331.9 143,331.9 143.5,331.9 144,331.9 144.5,331.9 145,331.9 145.5,331.9 146,331.9 146.5,331.9 147,331.9 147.5,331.9 148,331.9 148.5,331.9 149,331.9 149.5,331.9 150,331.9 150.5,331.7 151,331.5 151.5,331.4 152,331.2 152.5,331 153,330.8 153.5,330.6 154,330.4 154.5,330.2 155,330 155.5,329.8 156,329.6 156.5,329.4 157,329.2 157.5,329.1 158,328.8 158.5,328.6 159,328.4 159.5,328.2 160,328 160.5,327.8 161,327.5 161.5,327.3 162,327.1 162.5,326.8 163,326.6 163.5,326.3 164,326 164.5,325.8 165,325.5 165.5,325.2 166,324.9 166.5,324.5 167,324.2 167.5,323.8 168,323.5 168.5,323.1 169,322.7 169.5,322.3 170,321.8 170.5,321.4 171,320.9 171.5,320.5 172,320 172.5,319.5 173,319 173.5,318.4 174,317.8 174.5,317.1 175,316.5 175.5,315.9 176,315.3 176.5,314.7 177,314 177.5,313.3 178,312.6 178.5,311.7 179,310.8 179.5,309.9 180,308.9 180.5,307.9 181,306.9 181.5,305.8 182,304.8 182.5,303.7 183,302.6 183.5,301.5 184,300.4 184.5,299.2 185,298.1 185.5,297 186,296 186.5,295.2 187,294.4 187.5,293.8 188,293.3 188.5,292.8 189,292.4 189.5,292.1 190,291.9 190.5,291.7 191,291.6 191.5,291.6 192,291.6 192.5,291.8 193,292 193.5,292.2 194,292.4 194.5,292.8 195,293.3 195.5,293.9 196,294.7 196.5,295.6 197,296.5 197.5,297.3 198,298.2 198.5,299 199,299.8 199.5,300.5 200,301.2 200.5,301.9 201,302.5 201.5,303 202,303.5 202.5,303.9 203,304.3 203.5,304.6 204,304.9 204.5,305.2 205,305.5 205.5,305.8 206,306.1 206.5,306.4 207,306.7 207.5,306.9 208,307.2 208.5,307.4 209,307.6 209.5,307.8 210,308 210.5,308.1 211,308.3 211.5,308.4 212,308.5 212.5,308.6 213,308.7 213.5,308.8 214,308.9 214.5,309 215,309.1 215.5,309.1 216,309.2 216.5,309.3 217,309.3 217.5,309.4 218,309.4 218.5,309.4 219,309.4 219.5,309.4 220,309.4 220.5,309.4 221,309.4 221.5,309.4 222,309.4 222.5,309.4 223,309.4 223.5,309.4 224,309.4 224.5,309.4 225,309.4 225.5,309.5 226,309.5 226.5,309.5 227,309.5 227.5,309.5 228,309.6 228.5,309.6 229,309.6 229.5,309.6 230,309.7 230.5,309.7 231,309.7 231,311.3 230.5,311.4 230,311.5 229.5,311.6 229,311.8 228.5,311.9 228,312 227.5,312.2 227,312.3 226.5,312.4 226,312.5 225.5,312.7 225,312.8 224.5,312.9 224,313 223.5,313.2 223,313.3 222.5,313.4 222,313.6 221.5,313.7 221,313.8 220.5,313.9 220,314.1 219.5,314.2 219,314.3 218.5,314.4 218,314.6 217.5,314.7 217,314.8 216.5,315 216,315.1 215.5,315.2 215,315.3 214.5,315.5 214,315.6 213.5,315.7 213,315.9 212.5,316 212,316.1 211.5,316.2 211,316.4 210.5,316.5 210,316.6 209.5,316.7 209,316.9 208.5,317 208,317.1 207.5,317.3 207,317.4 206.5,317.5 206,317.6 205.5,317.8 205,317.9 204.5,318 204,318.1 203.5,318.3 203,318.4 202.5,318.5 202,318.7 201.5,318.8 201,318.9 200.5,319 200,319.2 199.5,319.3 199,319.4 198.5,319.6 198,319.7 197.5,319.8 197,319.9 196.5,320.1 196,320.2 195.5,320.3 195,320.4 194.5,320.6 194,320.7 193.5,320.8 193,321 192.5,321.1 192,321.2 191.5,321.3 191,321.5 190.5,321.6 190,321.7 189.5,321.8 189,322 188.5,322.1 188,322.2 187.5,322.4 187,322.5 186.5,322.6 186,322.7 185.5,322.9 185,323 184.5,323.1 184,323.3 183.5,323.4 183,323.5 182.5,323.6 182,323.8 181.5,323.9 181,324 180.5,324.1 180,324.3 179.5,324.4 179,324.5 178.5,324.7 178,324.8 177.5,324.9 177,325 176.5,325.2 176,325.3 175.5,325.4 175,325.5 174.5,325.7 174,325.8 173.5,325.9 173,326.1 172.5,326.2 172,326.3 171.5,326.4 171,326.6 170.5,326.7 170,326.8 169.5,327 169,327.1 168.5,327.2 168,327.3 167.5,327.5 167,327.6 166.5,327.7 166,327.8 165.5,328 165,328.1 164.5,328.2 164,328.4 163.5,328.5 163,328.6 162.5,328.7 162,328.9 161.5,329 161,329.1 160.5,329.2 160,329.4 159.5,329.5 159,329.6 158.5,329.8 158,329.9 157.5,330 157,330.1 156.5,330.3 156,330.4 155.5,330.5 155,330.7 154.5,330.8 154,330.9 153.5,331 153,331.2 152.5,331.3 152,331.4 151.5,331.5 151,331.7 150.5,331.8 150,331.9 149.5,332.1 149,332.2 148.5,332.3 148,332.4 147.5,332.6 147,332.7 146.5,332.8 146,332.9 145.5,333.1 145,333.2 144.5,333.3 144,333.5 143.5,333.6 143,333.7 142.5,333.8 142,334 141.5,334.1 141,334.2 140.5,334.4 140,334.5" fill="#3ee8ea" stroke="none" />
<polyline points="29.8,359.8 32,358.2 34.4,357.3 36.8,358.7 38.3,356.1 39.9,357.3 42,356.2 44.8,355.6 46.9,354.8 49,353.6 50.9,353.9 52.6,353 54.9,350.9 56.1,351.5 59.1,351.9 60.3,350.8 61.6,346.2 61.9,348 64.6,344.6 64.8,340.3 65.5,342.7 66.4,333.7 66.8,339 68.1,325.2 68.2,330.5 68.3,336 68.6,327.3 68.7,332.1 68.7,320.7 69,323.2 70.1,309.8 71.3,316.9 71.4,312.7 71.4,308.1 71.5,306.2 71.5,303.8 71.5,319 71.8,314.2 73.1,300.9 73.2,298.1 73.8,296.1 73.8,291.2 74.6,283.4 74.9,294 75,288.8 75.1,278.5 75.3,286.1 76.2,271.5 76.6,281.7 76.6,275.5 77.1,268.6 77.6,258.7 77.7,273.6 77.7,266.9 78.4,263.7 78.8,261.9 79.6,253.7 79.8,251.8 79.9,246.5 79.9,257.2 80.1,249.6 80.2,245.5 82.5,241.6 83.1,242.7 84.3,239.8 85.9,235.2 88.1,229.8 88.2,238.3 89.6,243.7 90,240.9 90.7,245.3 92.5,252.5 92.7,247 93.3,249.9 93.9,255.3 95.5,262.4 95.7,257.2 96.1,259.3 96.8,264.1 97.6,266.2 98,269 98.3,271 98.6,272.4 99.5,275.1 99.7,278.8 100.8,277.3 101.1,284.1 101.3,281.6 102.2,286.8 103,288.2 103.6,290.9 104.8,292.8 105.3,294.6 106.2,299.5 107.7,296.1 108.1,300.7 109.4,305.4 109.9,303 111.3,306.4 111.8,309.1 113.4,310.7 114,312.5 115.7,315.2 117,316.8 118.5,318.3 119.5,322.1 120.5,322.7 122.5,323.9 123.3,325 125.3,326.7 126.5,327.5 127.4,328.8 129.9,329.2 131.1,330.9 133.7,328.6 136.9,330.2 138.6,330.1 140.8,328.8 142.3,328.2 143.9,329 147.3,327.6 148.9,327.6 152.1,327.2 153.4,325.2 156.1,324.4 156.7,322.7 159.6,322.7 161,318.1 161.2,316 161.3,320.5 161.4,313.8 164.4,311.3 164.4,309.6 165.1,305.1 165.3,307.8 166.6,302.6 167.1,298.9 168,300.4 168.5,296.1 168.7,293.9 169.5,291.6 169.6,287.9 170.6,282.1 171.2,290.1 172.6,280.2 172.8,284.9 173.8,277.4 175.9,275.9 177.9,274 179.9,273 184.2,272.5 185.1,275.6 186.5,276.9 188.9,278.6 189.7,282.7 189.8,281 192.1,284.4 192.5,286.7 194,288.2 196.1,289.5 196.7,294.2 196.9,291.9 199.1,295.1 200.4,297 200.4,299.1 202,300.4 203.4,300.8 204.5,304.2 206.6,304.6 208.8,306 212.3,305.8 213.4,305.9 216.2,305.8 217.5,307.7 219.8,308.7 222.1,306.4 224.3,306.1 227,308.1 228.8,306.9" fill="none" stroke="#444" stroke-width="0.7" stroke-linejoin="round" stroke-linecap="round" />
<circle cx="29.8" cy="359.8" r="1.8" fill="#fff" stroke="#8a8a8a" stroke-width="0.6"/>
<circle cx="32" cy="358.2" r="1.8" fill="#fff" stroke="#8a8a8a" stroke-width="0.6"/>
<circle cx="34.4" cy="357.3" r="1.8" fill="#fff" stroke="#8a8a8a" stroke-width="0.6"/>
<circle cx="36.8" cy="358.7" r="1.8" fill="#fff" stroke="#8a8a8a" stroke-width="0.6"/>
<circle cx="38.3" cy="356.1" r="1.8" fill="#fff" stroke="#8a8a8a" stroke-width="0.6"/>
<circle cx="39.9" cy="357.3" r="1.8" fill="#fff" stroke="#8a8a8a" stroke-width="0.6"/>
<circle cx="42" cy="356.2" r="1.8" fill="#fff" stroke="#8a8a8a" stroke-width="0.6"/>
<circle cx="44.8" cy="355.6" r="1.8" fill="#fff" stroke="#8a8a8a" stroke-width="0.6"/>
<circle cx="46.9" cy="354.8" r="1.8" fill="#fff" stroke="#8a8a8a" stroke-width="0.6"/>
<circle cx="49" cy="353.6" r="1.8" fill="#fff" stroke="#8a8a8a" stroke-width="0.6"/>
<circle cx="50.9" cy="353.9" r="1.8" fill="#fff" stroke="#8a8a8a" stroke-width="0.6"/>
<circle cx="52.6" cy="353" r="1.8" fill="#fff" stroke="#8a8a8a" stroke-width="0.6"/>
<circle cx="54.9" cy="350.9" r="1.8" fill="#fff" stroke="#8a8a8a" stroke-width="0.6"/>
<circle cx="56.1" cy="351.5" r="1.8" fill="#fff" stroke="#8a8a8a" stroke-width="0.6"/>
<circle cx="59.1" cy="351.9" r="1.8" fill="#fff" stroke="#8a8a8a" stroke-width="0.6"/>
<circle cx="60.3" cy="350.8" r="1.8" fill="#fff" stroke="#8a8a8a" stroke-width="0.6"/>
<circle cx="61.6" cy="346.2" r="1.8" fill="#fff" stroke="#8a8a8a" stroke-width="0.6"/>
<circle cx="61.9" cy="348" r="1.8" fill="#fff" stroke="#8a8a8a" stroke-width="0.6"/>
<circle cx="64.6" cy="344.6" r="1.8" fill="#fff" stroke="#8a8a8a" stroke-width="0.6"/>
<circle cx="64.8" cy="340.3" r="1.8" fill="#fff" stroke="#8a8a8a" stroke-width="0.6"/>
<circle cx="65.5" cy="342.7" r="1.8" fill="#fff" stroke="#8a8a8a" stroke-width="0.6"/>
<circle cx="66.4" cy="333.7" r="1.8" fill="#fff" stroke="#8a8a8a" stroke-width="0.6"/>
<circle cx="66.8" cy="339" r="1.8" fill="#fff" stroke="#8a8a8a" stroke-width="0.6"/>
<circle cx="68.1" cy="325.2" r="1.8" fill="#fff" stroke="#8a8a8a" stroke-width="0.6"/>
<circle cx="68.2" cy="330.5" r="1.8" fill="#fff" stroke="#8a8a8a" stroke-width="0.6"/>
<circle cx="68.3" cy="336" r="1.8" fill="#fff" stroke="#8a8a8a" stroke-width="0.6"/>
<circle cx="68.6" cy="327.3" r="1.8" fill="#fff" stroke="#8a8a8a" stroke-width="0.6"/>
<circle cx="68.7" cy="332.1" r="1.8" fill="#fff" stroke="#8a8a8a" stroke-width="0.6"/>
<circle cx="68.7" cy="320.7" r="1.8" fill="#fff" stroke="#8a8a8a" stroke-width="0.6"/>
<circle cx="69" cy="323.2" r="1.8" fill="#fff" stroke="#8a8a8a" stroke-width="0.6"/>
<circle cx="70.1" cy="309.8" r="1.8" fill="#fff" stroke="#8a8a8a" stroke-width="0.6"/>
<circle cx="71.3" cy="316.9" r="1.8" fill="#fff" stroke="#8a8a8a" stroke-width="0.6"/>
<circle cx="71.4" cy="312.7" r="1.8" fill="#fff" stroke="#8a8a8a" stroke-width="0.6"/>
<circle cx="71.4" cy="308.1" r="1.8" fill="#fff" stroke="#8a8a8a" stroke-width="0.6"/>
<circle cx="71.5" cy="306.2" r="1.8" fill="#fff" stroke="#8a8a8a" stroke-width="0.6"/>
<circle cx="71.5" cy="303.8" r="1.8" fill="#fff" stroke="#8a8a8a" stroke-width="0.6"/>
<circle cx="71.5" cy="319" r="1.8" fill="#fff" stroke="#8a8a8a" stroke-width="0.6"/>
<circle cx="71.8" cy="314.2" r="1.8" fill="#fff" stroke="#8a8a8a" stroke-width="0.6"/>
<circle cx="73.1" cy="300.9" r="1.8" fill="#fff" stroke="#8a8a8a" stroke-width="0.6"/>
<circle cx="73.2" cy="298.1" r="1.8" fill="#fff" stroke="#8a8a8a" stroke-width="0.6"/>
<circle cx="73.8" cy="296.1" r="1.8" fill="#fff" stroke="#8a8a8a" stroke-width="0.6"/>
<circle cx="73.8" cy="291.2" r="1.8" fill="#fff" stroke="#8a8a8a" stroke-width="0.6"/>
<circle cx="74.6" cy="283.4" r="1.8" fill="#fff" stroke="#8a8a8a" stroke-width="0.6"/>
<circle cx="74.9" cy="294" r="1.8" fill="#fff" stroke="#8a8a8a" stroke-width="0.6"/>
<circle cx="75" cy="288.8" r="1.8" fill="#fff" stroke="#8a8a8a" stroke-width="0.6"/>
<circle cx="75.1" cy="278.5" r="1.8" fill="#fff" stroke="#8a8a8a" stroke-width="0.6"/>
<circle cx="75.3" cy="286.1" r="1.8" fill="#fff" stroke="#8a8a8a" stroke-width="0.6"/>
<circle cx="76.2" cy="271.5" r="1.8" fill="#fff" stroke="#8a8a8a" stroke-width="0.6"/>
<circle cx="76.6" cy="281.7" r="1.8" fill="#fff" stroke="#8a8a8a" stroke-width="0.6"/>
<circle cx="76.6" cy="275.5" r="1.8" fill="#fff" stroke="#8a8a8a" stroke-width="0.6"/>
<circle cx="77.1" cy="268.6" r="1.8" fill="#fff" stroke="#8a8a8a" stroke-width="0.6"/>
<circle cx="77.6" cy="258.7" r="1.8" fill="#fff" stroke="#8a8a8a" stroke-width="0.6"/>
<circle cx="77.7" cy="273.6" r="1.8" fill="#fff" stroke="#8a8a8a" stroke-width="0.6"/>
<circle cx="77.7" cy="266.9" r="1.8" fill="#fff" stroke="#8a8a8a" stroke-width="0.6"/>
<circle cx="78.4" cy="263.7" r="1.8" fill="#fff" stroke="#8a8a8a" stroke-width="0.6"/>
<circle cx="78.8" cy="261.9" r="1.8" fill="#fff" stroke="#8a8a8a" stroke-width="0.6"/>
<circle cx="79.6" cy="253.7" r="1.8" fill="#fff" stroke="#8a8a8a" stroke-width="0.6"/>
<circle cx="79.8" cy="251.8" r="1.8" fill="#fff" stroke="#8a8a8a" stroke-width="0.6"/>
<circle cx="79.9" cy="246.5" r="1.8" fill="#fff" stroke="#8a8a8a" stroke-width="0.6"/>
<circle cx="79.9" cy="257.2" r="1.8" fill="#fff" stroke="#8a8a8a" stroke-width="0.6"/>
<circle cx="80.1" cy="249.6" r="1.8" fill="#fff" stroke="#8a8a8a" stroke-width="0.6"/>
<circle cx="80.2" cy="245.5" r="1.8" fill="#fff" stroke="#8a8a8a" stroke-width="0.6"/>
<circle cx="82.5" cy="241.6" r="1.8" fill="#fff" stroke="#8a8a8a" stroke-width="0.6"/>
<circle cx="83.1" cy="242.7" r="1.8" fill="#fff" stroke="#8a8a8a" stroke-width="0.6"/>
<circle cx="84.3" cy="239.8" r="1.8" fill="#fff" stroke="#8a8a8a" stroke-width="0.6"/>
<circle cx="85.9" cy="235.2" r="1.8" fill="#fff" stroke="#8a8a8a" stroke-width="0.6"/>
<circle cx="88.1" cy="229.8" r="1.8" fill="#fff" stroke="#8a8a8a" stroke-width="0.6"/>
<circle cx="88.2" cy="238.3" r="1.8" fill="#fff" stroke="#8a8a8a" stroke-width="0.6"/>
<circle cx="89.6" cy="243.7" r="1.8" fill="#fff" stroke="#8a8a8a" stroke-width="0.6"/>
<circle cx="90" cy="240.9" r="1.8" fill="#fff" stroke="#8a8a8a" stroke-width="0.6"/>
<circle cx="90.7" cy="245.3" r="1.8" fill="#fff" stroke="#8a8a8a" stroke-width="0.6"/>
<circle cx="92.5" cy="252.5" r="1.8" fill="#fff" stroke="#8a8a8a" stroke-width="0.6"/>
<circle cx="92.7" cy="247" r="1.8" fill="#fff" stroke="#8a8a8a" stroke-width="0.6"/>
<circle cx="93.3" cy="249.9" r="1.8" fill="#fff" stroke="#8a8a8a" stroke-width="0.6"/>
<circle cx="93.9" cy="255.3" r="1.8" fill="#fff" stroke="#8a8a8a" stroke-width="0.6"/>
<circle cx="95.5" cy="262.4" r="1.8" fill="#fff" stroke="#8a8a8a" stroke-width="0.6"/>
<circle cx="95.7" cy="257.2" r="1.8" fill="#fff" stroke="#8a8a8a" stroke-width="0.6"/>
<circle cx="96.1" cy="259.3" r="1.8" fill="#fff" stroke="#8a8a8a" stroke-width="0.6"/>
<circle cx="96.8" cy="264.1" r="1.8" fill="#fff" stroke="#8a8a8a" stroke-width="0.6"/>
<circle cx="97.6" cy="266.2" r="1.8" fill="#fff" stroke="#8a8a8a" stroke-width="0.6"/>
<circle cx="98" cy="269" r="1.8" fill="#fff" stroke="#8a8a8a" stroke-width="0.6"/>
<circle cx="98.3" cy="271" r="1.8" fill="#fff" stroke="#8a8a8a" stroke-width="0.6"/>
<circle cx="98.6" cy="272.4" r="1.8" fill="#fff" stroke="#8a8a8a" stroke-width="0.6"/>
<circle cx="99.5" cy="275.1" r="1.8" fill="#fff" stroke="#8a8a8a" stroke-width="0.6"/>
<circle cx="99.7" cy="278.8" r="1.8" fill="#fff" stroke="#8a8a8a" stroke-width="0.6"/>
<circle cx="100.8" cy="277.3" r="1.8" fill="#fff" stroke="#8a8a8a" stroke-width="0.6"/>
<circle cx="101.1" cy="284.1" r="1.8" fill="#fff" stroke="#8a8a8a" stroke-width="0.6"/>
<circle cx="101.3" cy="281.6" r="1.8" fill="#fff" stroke="#8a8a8a" stroke-width="0.6"/>
<circle cx="102.2" cy="286.8" r="1.8" fill="#fff" stroke="#8a8a8a" stroke-width="0.6"/>
<circle cx="103" cy="288.2" r="1.8" fill="#fff" stroke="#8a8a8a" stroke-width="0.6"/>
<circle cx="103.6" cy="290.9" r="1.8" fill="#fff" stroke="#8a8a8a" stroke-width="0.6"/>
<circle cx="104.8" cy="292.8" r="1.8" fill="#fff" stroke="#8a8a8a" stroke-width="0.6"/>
<circle cx="105.3" cy="294.6" r="1.8" fill="#fff" stroke="#8a8a8a" stroke-width="0.6"/>
<circle cx="106.2" cy="299.5" r="1.8" fill="#fff" stroke="#8a8a8a" stroke-width="0.6"/>
<circle cx="107.7" cy="296.1" r="1.8" fill="#fff" stroke="#8a8a8a" stroke-width="0.6"/>
<circle cx="108.1" cy="300.7" r="1.8" fill="#fff" stroke="#8a8a8a" stroke-width="0.6"/>
<circle cx="109.4" cy="305.4" r="1.8" fill="#fff" stroke="#8a8a8a" stroke-width="0.6"/>
<circle cx="109.9" cy="303" r="1.8" fill="#fff" stroke="#8a8a8a" stroke-width="0.6"/>
<circle cx="111.3" cy="306.4" r="1.8" fill="#fff" stroke="#8a8a8a" stroke-width="0.6"/>
<circle cx="111.8" cy="309.1" r="1.8" fill="#fff" stroke="#8a8a8a" stroke-width="0.6"/>
<circle cx="113.4" cy="310.7" r="1.8" fill="#fff" stroke="#8a8a8a" stroke-width="0.6"/>
<circle cx="114" cy="312.5" r="1.8" fill="#fff" stroke="#8a8a8a" stroke-width="0.6"/>
<circle cx="115.7" cy="315.2" r="1.8" fill="#fff" stroke="#8a8a8a" stroke-width="0.6"/>
<circle cx="117" cy="316.8" r="1.8" fill="#fff" stroke="#8a8a8a" stroke-width="0.6"/>
<circle cx="118.5" cy="318.3" r="1.8" fill="#fff" stroke="#8a8a8a" stroke-width="0.6"/>
<circle cx="119.5" cy="322.1" r="1.8" fill="#fff" stroke="#8a8a8a" stroke-width="0.6"/>
<circle cx="120.5" cy="322.7" r="1.8" fill="#fff" stroke="#8a8a8a" stroke-width="0.6"/>
<circle cx="122.5" cy="323.9" r="1.8" fill="#fff" stroke="#8a8a8a" stroke-width="0.6"/>
<circle cx="123.3" cy="325" r="1.8" fill="#fff" stroke="#8a8a8a" stroke-width="0.6"/>
<circle cx="125.3" cy="326.7" r="1.8" fill="#fff" stroke="#8a8a8a" stroke-width="0.6"/>
<circle cx="126.5" cy="327.5" r="1.8" fill="#fff" stroke="#8a8a8a" stroke-width="0.6"/>
<circle cx="127.4" cy="328.8" r="1.8" fill="#fff" stroke="#8a8a8a" stroke-width="0.6"/>
<circle cx="129.9" cy="329.2" r="1.8" fill="#fff" stroke="#8a8a8a" stroke-width="0.6"/>
<circle cx="131.1" cy="330.9" r="1.8" fill="#fff" stroke="#8a8a8a" stroke-width="0.6"/>
<circle cx="133.7" cy="328.6" r="1.8" fill="#fff" stroke="#8a8a8a" stroke-width="0.6"/>
<circle cx="136.9" cy="330.2" r="1.8" fill="#fff" stroke="#8a8a8a" stroke-width="0.6"/>
<circle cx="138.6" cy="330.1" r="1.8" fill="#fff" stroke="#8a8a8a" stroke-width="0.6"/>
<circle cx="140.8" cy="328.8" r="1.8" fill="#fff" stroke="#8a8a8a" stroke-width="0.6"/>
<circle cx="142.3" cy="328.2" r="1.8" fill="#fff" stroke="#8a8a8a" stroke-width="0.6"/>
<circle cx="143.9" cy="329" r="1.8" fill="#fff" stroke="#8a8a8a" stroke-width="0.6"/>
<circle cx="147.3" cy="327.6" r="1.8" fill="#fff" stroke="#8a8a8a" stroke-width="0.6"/>
<circle cx="148.9" cy="327.6" r="1.8" fill="#fff" stroke="#8a8a8a" stroke-width="0.6"/>
<circle cx="152.1" cy="327.2" r="1.8" fill="#fff" stroke="#8a8a8a" stroke-width="0.6"/>
<circle cx="153.4" cy="325.2" r="1.8" fill="#fff" stroke="#8a8a8a" stroke-width="0.6"/>
<circle cx="156.1" cy="324.4" r="1.8" fill="#fff" stroke="#8a8a8a" stroke-width="0.6"/>
<circle cx="156.7" cy="322.7" r="1.8" fill="#fff" stroke="#8a8a8a" stroke-width="0.6"/>
<circle cx="159.6" cy="322.7" r="1.8" fill="#fff" stroke="#8a8a8a" stroke-width="0.6"/>
<circle cx="161" cy="318.1" r="1.8" fill="#fff" stroke="#8a8a8a" stroke-width="0.6"/>
<circle cx="161.2" cy="316" r="1.8" fill="#fff" stroke="#8a8a8a" stroke-width="0.6"/>
<circle cx="161.3" cy="320.5" r="1.8" fill="#fff" stroke="#8a8a8a" stroke-width="0.6"/>
<circle cx="161.4" cy="313.8" r="1.8" fill="#fff" stroke="#8a8a8a" stroke-width="0.6"/>
<circle cx="164.4" cy="311.3" r="1.8" fill="#fff" stroke="#8a8a8a" stroke-width="0.6"/>
<circle cx="164.4" cy="309.6" r="1.8" fill="#fff" stroke="#8a8a8a" stroke-width="0.6"/>
<circle cx="165.1" cy="305.1" r="1.8" fill="#fff" stroke="#8a8a8a" stroke-width="0.6"/>
<circle cx="165.3" cy="307.8" r="1.8" fill="#fff" stroke="#8a8a8a" stroke-width="0.6"/>
<circle cx="166.6" cy="302.6" r="1.8" fill="#fff" stroke="#8a8a8a" stroke-width="0.6"/>
<circle cx="167.1" cy="298.9" r="1.8" fill="#fff" stroke="#8a8a8a" stroke-width="0.6"/>
<circle cx="168" cy="300.4" r="1.8" fill="#fff" stroke="#8a8a8a" stroke-width="0.6"/>
<circle cx="168.5" cy="296.1" r="1.8" fill="#fff" stroke="#8a8a8a" stroke-width="0.6"/>
<circle cx="168.7" cy="293.9" r="1.8" fill="#fff" stroke="#8a8a8a" stroke-width="0.6"/>
<circle cx="169.5" cy="291.6" r="1.8" fill="#fff" stroke="#8a8a8a" stroke-width="0.6"/>
<circle cx="169.6" cy="287.9" r="1.8" fill="#fff" stroke="#8a8a8a" stroke-width="0.6"/>
<circle cx="170.6" cy="282.1" r="1.8" fill="#fff" stroke="#8a8a8a" stroke-width="0.6"/>
<circle cx="171.2" cy="290.1" r="1.8" fill="#fff" stroke="#8a8a8a" stroke-width="0.6"/>
<circle cx="172.6" cy="280.2" r="1.8" fill="#fff" stroke="#8a8a8a" stroke-width="0.6"/>
<circle cx="172.8" cy="284.9" r="1.8" fill="#fff" stroke="#8a8a8a" stroke-width="0.6"/>
<circle cx="173.8" cy="277.4" r="1.8" fill="#fff" stroke="#8a8a8a" stroke-width="0.6"/>
<circle cx="175.9" cy="275.9" r="1.8" fill="#fff" stroke="#8a8a8a" stroke-width="0.6"/>
<circle cx="177.9" cy="274" r="1.8" fill="#fff" stroke="#8a8a8a" stroke-width="0.6"/>
<circle cx="179.9" cy="273" r="1.8" fill="#fff" stroke="#8a8a8a" stroke-width="0.6"/>
<circle cx="184.2" cy="272.5" r="1.8" fill="#fff" stroke="#8a8a8a" stroke-width="0.6"/>
<circle cx="185.1" cy="275.6" r="1.8" fill="#fff" stroke="#8a8a8a" stroke-width="0.6"/>
<circle cx="186.5" cy="276.9" r="1.8" fill="#fff" stroke="#8a8a8a" stroke-width="0.6"/>
<circle cx="188.9" cy="278.6" r="1.8" fill="#fff" stroke="#8a8a8a" stroke-width="0.6"/>
<circle cx="189.7" cy="282.7" r="1.8" fill="#fff" stroke="#8a8a8a" stroke-width="0.6"/>
<circle cx="189.8" cy="281" r="1.8" fill="#fff" stroke="#8a8a8a" stroke-width="0.6"/>
<circle cx="192.1" cy="284.4" r="1.8" fill="#fff" stroke="#8a8a8a" stroke-width="0.6"/>
<circle cx="192.5" cy="286.7" r="1.8" fill="#fff" stroke="#8a8a8a" stroke-width="0.6"/>
<circle cx="194" cy="288.2" r="1.8" fill="#fff" stroke="#8a8a8a" stroke-width="0.6"/>
<circle cx="196.1" cy="289.5" r="1.8" fill="#fff" stroke="#8a8a8a" stroke-width="0.6"/>
<circle cx="196.7" cy="294.2" r="1.8" fill="#fff" stroke="#8a8a8a" stroke-width="0.6"/>
<circle cx="196.9" cy="291.9" r="1.8" fill="#fff" stroke="#8a8a8a" stroke-width="0.6"/>
<circle cx="199.1" cy="295.1" r="1.8" fill="#fff" stroke="#8a8a8a" stroke-width="0.6"/>
<circle cx="200.4" cy="297" r="1.8" fill="#fff" stroke="#8a8a8a" stroke-width="0.6"/>
<circle cx="200.4" cy="299.1" r="1.8" fill="#fff" stroke="#8a8a8a" stroke-width="0.6"/>
<circle cx="202" cy="300.4" r="1.8" fill="#fff" stroke="#8a8a8a" stroke-width="0.6"/>
<circle cx="203.4" cy="300.8" r="1.8" fill="#fff" stroke="#8a8a8a" stroke-width="0.6"/>
<circle cx="204.5" cy="304.2" r="1.8" fill="#fff" stroke="#8a8a8a" stroke-width="0.6"/>
<circle cx="206.6" cy="304.6" r="1.8" fill="#fff" stroke="#8a8a8a" stroke-width="0.6"/>
<circle cx="208.8" cy="306" r="1.8" fill="#fff" stroke="#8a8a8a" stroke-width="0.6"/>
<circle cx="212.3" cy="305.8" r="1.8" fill="#fff" stroke="#8a8a8a" stroke-width="0.6"/>
<circle cx="213.4" cy="305.9" r="1.8" fill="#fff" stroke="#8a8a8a" stroke-width="0.6"/>
<circle cx="216.2" cy="305.8" r="1.8" fill="#fff" stroke="#8a8a8a" stroke-width="0.6"/>
<circle cx="217.5" cy="307.7" r="1.8" fill="#fff" stroke="#8a8a8a" stroke-width="0.6"/>
<circle cx="219.8" cy="308.7" r="1.8" fill="#fff" stroke="#8a8a8a" stroke-width="0.6"/>
<circle cx="222.1" cy="306.4" r="1.8" fill="#fff" stroke="#8a8a8a" stroke-width="0.6"/>
<circle cx="224.3" cy="306.1" r="1.8" fill="#fff" stroke="#8a8a8a" stroke-width="0.6"/>
<circle cx="227" cy="308.1" r="1.8" fill="#fff" stroke="#8a8a8a" stroke-width="0.6"/>
<circle cx="228.8" cy="306.9" r="1.8" fill="#fff" stroke="#8a8a8a" stroke-width="0.6"/>
<polyline points="30,360.5 31.3,360.2 33.1,359.7 35.2,359.2 37.5,358.6 39.8,358.1 42,357.5 44.2,356.9 46.5,356.4 48.9,355.8 51.2,355.2 53.2,354.6 55,354 56.4,353.4 57.6,352.8 58.6,352.3 59.4,351.7 60.1,351.1 60.9,350.5 61.6,349.9 62.2,349.3 62.8,348.7 63.2,348 63.7,347.3 64.2,346.6 64.7,345.8 65.1,345 65.6,344.2 66,343.3 66.4,342.4 66.8,341.3 67.2,340.1 67.5,338.9 67.9,337.5 68.2,336.1 68.5,334.7 68.8,333.4 69.1,332.1 69.3,330.8 69.5,329.4 69.7,328.1 69.9,326.8 70.1,325.5 70.3,324.2 70.6,322.9 70.8,321.6 71.1,320.3 71.3,319 71.6,317.6 71.9,316.2 72.1,314.7 72.4,313.2 72.7,311.6 72.9,310.1 73.2,308.5 73.4,306.9 73.7,305.3 73.9,303.6 74.1,302 74.4,300.3 74.6,298.5 74.8,296.7 75.1,294.8 75.3,292.8 75.5,290.9 75.8,288.9 76,287 76.2,285.1 76.5,283.3 76.7,281.5 77,279.7 77.2,277.9 77.5,276 77.8,274 78.1,272 78.3,269.9 78.6,267.8 78.9,265.8 79.2,264 79.5,262.3 79.7,260.7 80,259.2 80.3,257.8 80.5,256.4 80.8,255 81.1,253.6 81.4,252.2 81.7,250.8 82,249.5 82.3,248.2 82.6,247 82.9,245.9 83.2,244.8 83.5,243.8 83.9,242.8 84.2,242 84.5,241.3 84.8,240.7 85.1,240.2 85.4,239.8 85.7,239.5 86,239.3 86.3,239.2 86.6,239.2 86.9,239.3 87.2,239.4 87.6,239.7 87.9,240.2 88.3,240.8 88.7,241.7 89.1,242.7 89.6,243.9 90,245.3 90.5,246.6 90.9,248 91.3,249.4 91.7,250.9 92.1,252.4 92.5,253.9 92.8,255.5 93.2,257 93.6,258.5 93.9,260.1 94.3,261.7 94.7,263.2 95,264.8 95.4,266.3 95.8,267.8 96.2,269.3 96.6,270.8 97,272.2 97.4,273.6 97.8,275 98.2,276.3 98.5,277.6 98.8,278.8 99.2,280 99.5,281.2 99.9,282.5 100.3,283.8 100.7,285.2 101.2,286.5 101.6,287.9 102.1,289.2 102.5,290.5 102.9,291.7 103.3,292.9 103.7,294.1 104.1,295.2 104.5,296.3 105,297.5 105.6,298.7 106.2,299.9 106.8,301.2 107.5,302.4 108.1,303.5 108.6,304.5 109,305.3 109.4,306 109.8,306.6 110.1,307.1 110.4,307.8 110.8,308.5 111.2,309.4 111.7,310.4 112.1,311.4 112.6,312.4 113.1,313.5 113.6,314.5 114.2,315.5 114.8,316.6 115.4,317.6 116,318.6 116.6,319.6 117.2,320.5 117.8,321.3 118.3,322 118.9,322.7 119.4,323.3 120,323.9 120.5,324.5 121,325.1 121.5,325.6 121.9,326.1 122.4,326.6 123,327.1 123.7,327.6 124.6,328.2 125.6,328.7 126.7,329.3 127.8,329.9 129,330.4 130.2,330.8 131.4,331.1 132.5,331.4 133.7,331.6 135,331.7 136.3,331.7 137.7,331.6 139.2,331.4 140.9,331 142.7,330.6 144.4,330.1 146,329.6 147.4,329.2 148.6,328.8 149.6,328.5 150.5,328.2 151.4,327.8 152.2,327.5 153,327.2 153.8,326.9 154.6,326.6 155.3,326.3 156,326 156.7,325.7 157.3,325.3 157.9,324.9 158.5,324.4 159,323.9 159.5,323.3 160,322.7 160.5,322 161,321.2 161.5,320.4 162.1,319.6 162.6,318.6 163.1,317.6 163.6,316.5 164.1,315.3 164.6,313.9 165.1,312.4 165.6,310.9 166.1,309.5 166.6,308 167,306.6 167.4,305.2 167.8,303.8 168.2,302.4 168.6,300.9 169,299.5 169.4,298 169.8,296.5 170.2,295 170.6,293.4 171,291.9 171.4,290.5 171.8,289.1 172.1,287.7 172.4,286.3 172.7,285 173.1,283.7 173.5,282.5 174,281.3 174.5,280.1 175.1,279 175.7,278 176.4,277.1 177,276.3 177.6,275.7 178.3,275.1 179,274.7 179.6,274.4 180.3,274.3 181,274.2 181.7,274.3 182.3,274.4 182.9,274.7 183.6,275.1 184.3,275.6 185,276.3 185.8,277.2 186.6,278.2 187.5,279.4 188.3,280.6 189.2,281.9 190,283.2 190.8,284.5 191.5,285.9 192.2,287.3 192.9,288.8 193.6,290.2 194.3,291.5 195,292.8 195.7,294 196.4,295.2 197,296.4 197.8,297.5 198.5,298.5 199.3,299.5 200.1,300.4 200.9,301.2 201.7,302 202.6,302.8 203.5,303.5 204.5,304.2 205.5,304.9 206.6,305.6 207.7,306.2 208.9,306.7 210,307.2 211.1,307.6 212.3,307.9 213.5,308.2 214.6,308.4 215.8,308.6 217,308.8 218.2,308.9 219.3,309 220.5,309 221.7,309 222.8,309 224,309 225.2,309 226.6,309 227.9,309 229.2,309 230.2,309 231,309" fill="none" stroke="#ec1c24" stroke-width="1.9" stroke-linejoin="round" stroke-linecap="round" />
<polyline points="30,363.1 30.5,362.9 31,362.8 31.5,362.7 32,362.5 32.5,362.4 33,362.3 33.5,362.2 34,362 34.5,361.9 35,361.8 35.5,361.6 36,361.5 36.5,361.4 37,361.3 37.5,361.1 38,361 38.5,360.9 39,360.7 39.5,360.6 40,360.5 40.5,360.3 41,360.2 41.5,360.1 42,360 42.5,359.8 43,359.7 43.5,359.6 44,359.4 44.5,359.3 45,359.2 45.5,359 46,358.9 46.5,358.7 47,358.6 47.5,358.5 48,358.3 48.5,358.2 49,358 49.5,357.9 50,357.7 50.5,357.6 51,357.4 51.5,357.3 52,357.1 52.5,356.9 53,356.8 53.5,356.6 54,356.4 54.5,356.2 55,356 55.5,355.8 56,355.6 56.5,355.4 57,355.2 57.5,355 58,354.8 58.5,354.6 59,354.3 59.5,354.1 60,353.9 60.5,353.7 61,353.5 61.5,353.3 62,353.1 62.5,352.8 63,352.5 63.5,352 64,351.4 64.5,350.7 65,349.9 65.5,349.1 66,348.1 66.5,347.2 67,346.2 67.5,345.3 68,344.3 68.5,343.1 69,341.9 69.5,340.3 70,338 70.5,335.1 71,332.4 71.5,330 72,327.5 72.5,324.8 73,321.9 73.5,319.1 74,316.4 74.5,314 75,311.3 75.5,307.5 76,302.5 76.5,298.6 77,295.6 77.5,292.8 78,290 78.5,287.2 79,284.5 79.5,282 80,279.6 80.5,277.4 81,275.6 81.5,274.1 82,273 82.5,272.2 83,271.7 83.5,271.4 84,271.3 84.5,271.5 85,271.8 85.5,272.5 86,273.5 86.5,274.7 87,276.1 87.5,277.8 88,279.6 88.5,281.6 89,283.7 89.5,285.9 90,288.2 90.5,291 91,294.5 91.5,298.3 92,301.9 92.5,305.1 93,308.3 93.5,311.5 94,314.7 94.5,317.9 95,320.8 95.5,323.2 96,325.3 96.5,327.1 97,328.9 97.5,330.4 98,331.8 98.5,333.1 99,334.3 99.5,335.4 100,336.4 100.5,337.2 101,337.9 101.5,338.5 102,339.1 102.5,339.7 103,340.2 103.5,340.6 104,340.9 104.5,341.1 105,341.4 105.5,341.7 106,341.9 106.5,342.1 107,342.2 107.5,342.2 108,342.2 108.5,342.2 109,342.2 109.5,342.1 110,342.1 110.5,342 111,342 111.5,341.9 112,341.8 112.5,341.7 113,341.6 113.5,341.5 114,341.4 114.5,341.3 115,341.2 115.5,341.1 116,341 116.5,340.9 117,340.8 117.5,340.7 118,340.6 118.5,340.5 119,340.4 119.5,340.2 120,340.1 120.5,340 121,339.9 121.5,339.8 122,339.7 122.5,339.5 123,339.4 123.5,339.3 124,339.2 124.5,339.1 125,339 125.5,338.9 126,338.7 126.5,338.6 127,338.5 127.5,338.4 128,338.3 128.5,338.2 129,338.1 129.5,337.9 130,337.8 130.5,337.7 131,337.6 131.5,337.5 132,337.4 132.5,337.3 133,337.2 133.5,337.1 134,336.9 134.5,336.8 135,336.7 135.5,336.6 136,336.5 136.5,336.4 137,336.3 137.5,336.2 138,336 138.5,335.9 139,335.8 139.5,335.7 140,335.6 140.5,335.5 141,335.4 141.5,335.2 142,335.1 142.5,335 143,334.9 143.5,334.8 144,334.7 144.5,334.6 145,334.5 145.5,334.3 146,334.2 146.5,334.1 147,334 147.5,333.9 148,333.8 148.5,333.7 149,333.5 149.5,333.4 150,333.3 150.5,333.2 151,333.1 151.5,333 152,332.8 152.5,332.7 153,332.6 153.5,332.5 154,332.4 154.5,332.3 155,332.2 155.5,332 156,331.9 156.5,331.8 157,331.7 157.5,331.6 158,331.4 158.5,331.3 159,331.2 159.5,331.1 160,331 160.5,330.9 161,330.7 161.5,330.6 162,330.5 162.5,330.4 163,330.3 163.5,330.1 164,330 164.5,329.9 165,329.8 165.5,329.7 166,329.5 166.5,329.4 167,329.3 167.5,329.2 168,329.1 168.5,329 169,328.8 169.5,328.7 170,328.6 170.5,328.5 171,328.3 171.5,328.2 172,328.1 172.5,328 173,327.9 173.5,327.7 174,327.6 174.5,327.5 175,327.4 175.5,327.3 176,327.1 176.5,327 177,326.9 177.5,326.8 178,326.6 178.5,326.5 179,326.4 179.5,326.3 180,326.1 180.5,326 181,325.9 181.5,325.8 182,325.6 182.5,325.5 183,325.4 183.5,325.3 184,325.1 184.5,325 185,324.9 185.5,324.8 186,324.6 186.5,324.5 187,324.4 187.5,324.3 188,324.1 188.5,324 189,323.9 189.5,323.7 190,323.6 190.5,323.5 191,323.4 191.5,323.2 192,323.1 192.5,323 193,322.8 193.5,322.7 194,322.6 194.5,322.5 195,322.3 195.5,322.2 196,322.1 196.5,321.9 197,321.8 197.5,321.7 198,321.6 198.5,321.4 199,321.3 199.5,321.2 200,321 200.5,320.9 201,320.8 201.5,320.6 202,320.5 202.5,320.4 203,320.2 203.5,320.1 204,320 204.5,319.9 205,319.7 205.5,319.6 206,319.5 206.5,319.3 207,319.2 207.5,319.1 208,318.9 208.5,318.8 209,318.7 209.5,318.5 210,318.4 210.5,318.3 211,318.1 211.5,318 212,317.9 212.5,317.7 213,317.6 213.5,317.5 214,317.4 214.5,317.2 215,317.1 215.5,317 216,316.8 216.5,316.7 217,316.6 217.5,316.4 218,316.3 218.5,316.2 219,316 219.5,315.9 220,315.8 220.5,315.6 221,315.5 221.5,315.4 222,315.2 222.5,315.1 223,315 223.5,314.8 224,314.7 224.5,314.6 225,314.4 225.5,314.3 226,314.2 226.5,314 227,313.9 227.5,313.8 228,313.6 228.5,313.5 229,313.4 229.5,313.3 230,313.1 230.5,313 231,312.9" fill="none" stroke="#179317" stroke-width="1.6" stroke-linejoin="round" stroke-linecap="round" />
<polyline points="30,361.2 30.5,361.1 31,360.9 31.5,360.8 32,360.6 32.5,360.5 33,360.3 33.5,360.2 34,360 34.5,359.9 35,359.7 35.5,359.6 36,359.4 36.5,359.3 37,359.1 37.5,359 38,358.9 38.5,358.7 39,358.6 39.5,358.4 40,358.3 40.5,358.1 41,358 41.5,357.9 42,357.7 42.5,357.6 43,357.4 43.5,357.3 44,357.2 44.5,357 45,356.9 45.5,356.8 46,356.6 46.5,356.5 47,356.4 47.5,356.2 48,356.1 48.5,356 49,355.8 49.5,355.7 50,355.6 50.5,355.4 51,355.3 51.5,355.2 52,355 52.5,354.9 53,354.8 53.5,354.6 54,354.5 54.5,354.4 55,354.2 55.5,354.1 56,354 56.5,353.9 57,353.8 57.5,353.7 58,353.6 58.5,353.5 59,353.3 59.5,353.2 60,353.1 60.5,352.9 61,352.7 61.5,352.5 62,352.3 62.5,352 63,351.7 63.5,351.3 64,350.9 64.5,350.4 65,349.9 65.5,349.4 66,348.9 66.5,348.3 67,347.8 67.5,347.3 68,346.7 68.5,346.2 69,345.6 69.5,345.1 70,344.5 70.5,343.9 71,343.4 71.5,342.8 72,342.2 72.5,341.7 73,341.2 73.5,340.7 74,340.3 74.5,339.8 75,339.4 75.5,339 76,338.5 76.5,338 77,337.5 77.5,336.9 78,336.2 78.5,335.5 79,334.8 79.5,333.9 80,333 80.5,332 81,331 81.5,330 82,328.9 82.5,327.8 83,326.7 83.5,325.5 84,324.3 84.5,322.9 85,321.5 85.5,320 86,318.5 86.5,316.9 87,315.3 87.5,313.6 88,311.8 88.5,310.1 89,308.3 89.5,306.5 90,304.6 90.5,302.8 91,301.1 91.5,299.4 92,297.8 92.5,296.2 93,294.7 93.5,293.2 94,291.9 94.5,290.6 95,289.6 95.5,288.7 96,288.1 96.5,287.6 97,287.2 97.5,287 98,286.8 98.5,286.7 99,286.7 99.5,286.9 100,287.3 100.5,287.9 101,288.5 101.5,289.2 102,290.1 102.5,291.1 103,292.1 103.5,293.2 104,294.3 104.5,295.5 105,296.8 105.5,298.2 106,299.5 106.5,300.9 107,302.4 107.5,303.8 108,305.2 108.5,306.5 109,307.7 109.5,308.7 110,309.6 110.5,310.5 111,311.5 111.5,312.6 112,313.7 112.5,314.8 113,315.8 113.5,316.6 114,317.3 114.5,317.9 115,318.3 115.5,318.8 116,319.2 116.5,319.6 117,320 117.5,320.4 118,320.9 118.5,321.3 119,321.8 119.5,322.2 120,322.6 120.5,323 121,323.3 121.5,323.7 122,324.1 122.5,324.4 123,324.8 123.5,325.1 124,325.5 124.5,325.8 125,326.2 125.5,326.6 126,326.9 126.5,327.3 127,327.7 127.5,328.1 128,328.5 128.5,328.8 129,329.2 129.5,329.5 130,329.8 130.5,330.1 131,330.3 131.5,330.6 132,330.8 132.5,331 133,331.3 133.5,331.4 134,331.6 134.5,331.8 135,332 135.5,332.2 136,332.4 136.5,332.6 137,332.8 137.5,333 138,333.1 138.5,333.2 139,333.3 139.5,333.3 140,333.3 140.5,333.3 141,333.2 141.5,333.2 142,333.1 142.5,333 143,333 143.5,332.9 144,332.8 144.5,332.7 145,332.6 145.5,332.5 146,332.4 146.5,332.3 147,332.2 147.5,332.1 148,332 148.5,331.9 149,331.7 149.5,331.6 150,331.5 150.5,331.4 151,331.3 151.5,331.2 152,331.1 152.5,331 153,330.9 153.5,330.8 154,330.7 154.5,330.6 155,330.5 155.5,330.3 156,330.2 156.5,330.1 157,330 157.5,329.9 158,329.8 158.5,329.6 159,329.5 159.5,329.4 160,329.3 160.5,329.2 161,329 161.5,328.9 162,328.8 162.5,328.7 163,328.6 163.5,328.4 164,328.3 164.5,328.2 165,328.1 165.5,327.9 166,327.8 166.5,327.7 167,327.6 167.5,327.4 168,327.3 168.5,327.2 169,327.1 169.5,326.9 170,326.8 170.5,326.7 171,326.6 171.5,326.4 172,326.3 172.5,326.2 173,326.1 173.5,325.9 174,325.8 174.5,325.7 175,325.6 175.5,325.4 176,325.3 176.5,325.2 177,325.1 177.5,324.9 178,324.8 178.5,324.7 179,324.6 179.5,324.4 180,324.3 180.5,324.2 181,324 181.5,323.9 182,323.8 182.5,323.7 183,323.5 183.5,323.4 184,323.3 184.5,323.2 185,323 185.5,322.9 186,322.8 186.5,322.6 187,322.5 187.5,322.4 188,322.3 188.5,322.1 189,322 189.5,321.9 190,321.8 190.5,321.6 191,321.5 191.5,321.4 192,321.2 192.5,321.1 193,321 193.5,320.9 194,320.7 194.5,320.6 195,320.5 195.5,320.3 196,320.2 196.5,320.1 197,320 197.5,319.8 198,319.7 198.5,319.6 199,319.5 199.5,319.3 200,319.2 200.5,319.1 201,318.9 201.5,318.8 202,318.7 202.5,318.6 203,318.4 203.5,318.3 204,318.2 204.5,318 205,317.9 205.5,317.8 206,317.7 206.5,317.5 207,317.4 207.5,317.3 208,317.1 208.5,317 209,316.9 209.5,316.8 210,316.6 210.5,316.5 211,316.4 211.5,316.3 212,316.1 212.5,316 213,315.9 213.5,315.7 214,315.6 214.5,315.5 215,315.4 215.5,315.2 216,315.1 216.5,315 217,314.8 217.5,314.7 218,314.6 218.5,314.5 219,314.3 219.5,314.2 220,314.1 220.5,313.9 221,313.8 221.5,313.7 222,313.6 222.5,313.4 223,313.3 223.5,313.2 224,313 224.5,312.9 225,312.8 225.5,312.7 226,312.5 226.5,312.4 227,312.3 227.5,312.2 228,312 228.5,311.9 229,311.8 229.5,311.6 230,311.5 230.5,311.4 231,311.3" fill="none" stroke="#8c3fd8" stroke-width="1.6" stroke-linejoin="round" stroke-linecap="round" />
<polyline points="140,334.5 140.5,334.4 141,334.2 141.5,334.1 142,334 142.5,333.8 143,333.7 143.5,333.6 144,333.5 144.5,333.3 145,333.2 145.5,333.1 146,332.9 146.5,332.8 147,332.7 147.5,332.6 148,332.4 148.5,332.3 149,332.2 149.5,332.1 150,331.9 150.5,331.8 151,331.7 151.5,331.5 152,331.4 152.5,331.3 153,331.2 153.5,331 154,330.9 154.5,330.8 155,330.7 155.5,330.5 156,330.4 156.5,330.3 157,330.1 157.5,330 158,329.9 158.5,329.8 159,329.6 159.5,329.5 160,329.4 160.5,329.2 161,329.1 161.5,329 162,328.9 162.5,328.7 163,328.6 163.5,328.5 164,328.4 164.5,328.2 165,328.1 165.5,328 166,327.8 166.5,327.7 167,327.6 167.5,327.5 168,327.3 168.5,327.2 169,327.1 169.5,327 170,326.8 170.5,326.7 171,326.6 171.5,326.4 172,326.3 172.5,326.2 173,326.1 173.5,325.9 174,325.8 174.5,325.7 175,325.5 175.5,325.4 176,325.3 176.5,325.2 177,325 177.5,324.9 178,324.8 178.5,324.7 179,324.5 179.5,324.4 180,324.3 180.5,324.1 181,324 181.5,323.9 182,323.8 182.5,323.6 183,323.5 183.5,323.4 184,323.3 184.5,323.1 185,323 185.5,322.9 186,322.7 186.5,322.6 187,322.5 187.5,322.4 188,322.2 188.5,322.1 189,322 189.5,321.8 190,321.7 190.5,321.6 191,321.5 191.5,321.3 192,321.2 192.5,321.1 193,321 193.5,320.8 194,320.7 194.5,320.6 195,320.4 195.5,320.3 196,320.2 196.5,320.1 197,319.9 197.5,319.8 198,319.7 198.5,319.6 199,319.4 199.5,319.3 200,319.2 200.5,319 201,318.9 201.5,318.8 202,318.7 202.5,318.5 203,318.4 203.5,318.3 204,318.1 204.5,318 205,317.9 205.5,317.8 206,317.6 206.5,317.5 207,317.4 207.5,317.3 208,317.1 208.5,317 209,316.9 209.5,316.7 210,316.6 210.5,316.5 211,316.4 211.5,316.2 212,316.1 212.5,316 213,315.9 213.5,315.7 214,315.6 214.5,315.5 215,315.3 215.5,315.2 216,315.1 216.5,315 217,314.8 217.5,314.7 218,314.6 218.5,314.4 219,314.3 219.5,314.2 220,314.1 220.5,313.9 221,313.8 221.5,313.7 222,313.6 222.5,313.4 223,313.3 223.5,313.2 224,313 224.5,312.9 225,312.8 225.5,312.7 226,312.5 226.5,312.4 227,312.3 227.5,312.2 228,312 228.5,311.9 229,311.8 229.5,311.6 230,311.5 230.5,311.4 231,311.3" fill="none" stroke="#2b45d6" stroke-width="1.6" stroke-linejoin="round" stroke-linecap="round" />
<polyline points="30,362.6 30.5,362.4 31,362.3 31.5,362.2 32,362 32.5,361.9 33,361.8 33.5,361.7 34,361.5 34.5,361.4 35,361.3 35.5,361.1 36,361 36.5,360.9 37,360.8 37.5,360.6 38,360.5 38.5,360.4 39,360.3 39.5,360.1 40,360 40.5,359.9 41,359.7 41.5,359.6 42,359.5 42.5,359.4 43,359.2 43.5,359.1 44,359 44.5,358.9 45,358.7 45.5,358.6 46,358.5 46.5,358.3 47,358.2 47.5,358.1 48,358 48.5,357.8 49,357.7 49.5,357.6 50,357.4 50.5,357.3 51,357.2 51.5,357.1 52,356.9 52.5,356.8 53,356.7 53.5,356.6 54,356.4 54.5,356.3 55,356.2 55.5,356 56,355.9 56.5,355.8 57,355.7 57.5,355.5 58,355.4 58.5,355.3 59,355.2 59.5,355 60,354.9 60.5,354.8 61,354.6 61.5,354.5 62,354.4 62.5,354.3 63,354.1 63.5,354 64,353.9 64.5,353.7 65,353.6 65.5,353.5 66,353.4 66.5,353.2 67,353.1 67.5,353 68,352.9 68.5,352.7 69,352.6 69.5,352.5 70,352.3 70.5,352.2 71,352.1 71.5,352 72,351.8 72.5,351.7 73,351.6 73.5,351.5 74,351.3 74.5,351.2 75,351.1 75.5,350.9 76,350.8 76.5,350.7 77,350.6 77.5,350.4 78,350.3 78.5,350.2 79,350 79.5,349.9 80,349.8 80.5,349.7 81,349.5 81.5,349.4 82,349.3 82.5,349.2 83,349 83.5,348.9 84,348.8 84.5,348.6 85,348.5 85.5,348.4 86,348.3 86.5,348.1 87,348 87.5,347.9 88,347.8 88.5,347.6 89,347.5 89.5,347.4 90,347.2 90.5,347.1 91,347 91.5,346.9 92,346.7 92.5,346.6 93,346.5 93.5,346.3 94,346.2 94.5,346.1 95,346 95.5,345.8 96,345.7 96.5,345.6 97,345.5 97.5,345.3 98,345.2 98.5,345.1 99,344.9 99.5,344.8 100,344.7 100.5,344.6 101,344.4 101.5,344.3 102,344.2 102.5,344.1 103,343.9 103.5,343.8 104,343.7 104.5,343.5 105,343.4 105.5,343.3 106,343.2 106.5,343 107,342.9 107.5,342.8 108,342.6 108.5,342.5 109,342.4 109.5,342.3 110,342.1 110.5,342 111,341.9 111.5,341.8 112,341.6 112.5,341.5 113,341.4 113.5,341.2 114,341.1 114.5,341 115,340.9 115.5,340.7 116,340.6 116.5,340.5 117,340.4 117.5,340.2 118,340.1 118.5,340 119,339.8 119.5,339.7 120,339.6 120.5,339.5 121,339.3 121.5,339.2 122,339.1 122.5,338.9 123,338.8 123.5,338.7 124,338.6 124.5,338.4 125,338.3 125.5,338.2 126,338.1 126.5,337.9 127,337.8 127.5,337.7 128,337.5 128.5,337.4 129,337.3 129.5,337.2 130,337 130.5,336.9 131,336.8 131.5,336.7 132,336.5 132.5,336.4 133,336.3 133.5,336.1 134,336 134.5,335.9 135,335.8 135.5,335.6 136,335.5 136.5,335.4 137,335.2 137.5,335.1 138,335 138.5,334.9 139,334.7 139.5,334.6 140,334.5 140.5,334.4 141,334.2" fill="none" stroke="#1c9f9a" stroke-width="2.0" stroke-linejoin="round" stroke-linecap="round" />
<polyline points="150,331.9 150.5,331.8 151,331.6 151.5,331.5 152,331.4 152.5,331.2 153,331.1 153.5,330.9 154,330.7 154.5,330.6 155,330.4 155.5,330.2 156,330 156.5,329.8 157,329.5 157.5,329.3 158,329 158.5,328.7 159,328.3 159.5,327.8 160,327.3 160.5,326.7 161,326 161.5,325.3 162,324.6 162.5,323.8 163,322.9 163.5,322 164,321 164.5,319.9 165,318.7 165.5,317.4 166,315.9 166.5,314.5 167,313 167.5,311.5 168,309.9 168.5,308.3 169,306.7 169.5,305.1 170,303.5 170.5,302 171,300.4 171.5,298.9 172,297.4 172.5,295.9 173,294.5 173.5,293.3 174,292.2 174.5,291.1 175,290.2 175.5,289.4 176,288.7 176.5,288 177,287.5 177.5,287.1 178,286.9 178.5,286.8 179,286.9 179.5,287.1 180,287.4 180.5,287.8 181,288.4 181.5,289.2 182,290.1 182.5,291.1 183,292.3 183.5,293.5 184,294.9 184.5,296.4 185,298 185.5,299.6 186,301 186.5,302.3 187,303.6 187.5,304.8 188,306 188.5,307.2 189,308.3 189.5,309.4 190,310.5 190.5,311.5 191,312.4 191.5,313.2 192,314 192.5,314.7 193,315.4 193.5,316 194,316.6 194.5,317.1 195,317.5 195.5,317.9 196,318.2 196.5,318.4 197,318.6 197.5,318.7 198,318.8 198.5,318.8 199,318.8 199.5,318.9 200,318.9 200.5,318.8 201,318.8 201.5,318.7 202,318.6 202.5,318.5 203,318.3 203.5,318.2 204,318.1 204.5,318 205,317.9 205.5,317.8 206,317.7 206.5,317.5 207,317.4 207.5,317.3 208,317.2 208.5,317 209,316.9 209.5,316.8 210,316.7 210.5,316.5 211,316.4 211.5,316.3 212,316.2 212.5,316 213,315.9 213.5,315.8 214,315.7 214.5,315.5 215,315.4 215.5,315.3 216,315.1 216.5,315 217,314.9 217.5,314.8 218,314.6 218.5,314.5 219,314.4 219.5,314.2 220,314.1 220.5,314 221,313.8 221.5,313.7 222,313.6 222.5,313.5 223,313.3 223.5,313.2 224,313.1 224.5,312.9 225,312.8 225.5,312.7 226,312.6 226.5,312.4 227,312.3 227.5,312.2 228,312 228.5,311.9 229,311.8 229.5,311.6 230,311.5 230.5,311.4 231,311.3" fill="none" stroke="#c8860e" stroke-width="1.6" stroke-linejoin="round" stroke-linecap="round" />
<polyline points="150,331.9 150.5,331.7 151,331.5 151.5,331.4 152,331.2 152.5,331 153,330.8 153.5,330.6 154,330.4 154.5,330.2 155,330 155.5,329.8 156,329.6 156.5,329.4 157,329.2 157.5,329.1 158,328.8 158.5,328.6 159,328.4 159.5,328.2 160,328 160.5,327.8 161,327.5 161.5,327.3 162,327.1 162.5,326.8 163,326.6 163.5,326.3 164,326 164.5,325.8 165,325.5 165.5,325.2 166,324.9 166.5,324.5 167,324.2 167.5,323.8 168,323.5 168.5,323.1 169,322.7 169.5,322.3 170,321.8 170.5,321.4 171,320.9 171.5,320.5 172,320 172.5,319.5 173,319 173.5,318.4 174,317.8 174.5,317.1 175,316.5 175.5,315.9 176,315.3 176.5,314.7 177,314 177.5,313.3 178,312.6 178.5,311.7 179,310.8 179.5,309.9 180,308.9 180.5,307.9 181,306.9 181.5,305.8 182,304.8 182.5,303.7 183,302.6 183.5,301.5 184,300.4 184.5,299.2 185,298.1 185.5,297 186,296 186.5,295.2 187,294.4 187.5,293.8 188,293.3 188.5,292.8 189,292.4 189.5,292.1 190,291.9 190.5,291.7 191,291.6 191.5,291.6 192,291.6 192.5,291.8 193,292 193.5,292.2 194,292.4 194.5,292.8 195,293.3 195.5,293.9 196,294.7 196.5,295.6 197,296.5 197.5,297.3 198,298.2 198.5,299 199,299.8 199.5,300.5 200,301.2 200.5,301.9 201,302.5 201.5,303 202,303.5 202.5,303.9 203,304.3 203.5,304.6 204,304.9 204.5,305.2 205,305.5 205.5,305.8 206,306.1 206.5,306.4 207,306.7 207.5,306.9 208,307.2 208.5,307.4 209,307.6 209.5,307.8 210,308 210.5,308.1 211,308.3 211.5,308.4 212,308.5 212.5,308.6 213,308.7 213.5,308.8 214,308.9 214.5,309 215,309.1 215.5,309.1 216,309.2 216.5,309.3 217,309.3 217.5,309.4 218,309.4 218.5,309.4 219,309.4 219.5,309.4 220,309.4 220.5,309.4 221,309.4 221.5,309.4 222,309.4 222.5,309.4 223,309.4 223.5,309.4 224,309.4 224.5,309.4 225,309.4 225.5,309.5 226,309.5 226.5,309.5 227,309.5 227.5,309.5 228,309.6 228.5,309.6 229,309.6 229.5,309.6 230,309.7 230.5,309.7 231,309.7" fill="none" stroke="#22c8c8" stroke-width="1.3" stroke-linejoin="round" stroke-linecap="round" />
<line x1="112.7" y1="223" x2="136" y2="223" stroke="#111" stroke-width="2"/>
<line x1="112.7" y1="235.5" x2="136" y2="235.5" stroke="#ec1c24" stroke-width="2"/>
<line x1="112.7" y1="249.2" x2="136" y2="249.2" stroke="#2b45d6" stroke-width="2"/>
<line x1="112.7" y1="263.2" x2="136" y2="263.2" stroke="#179317" stroke-width="2"/>
<line x1="112.7" y1="277.4" x2="136" y2="277.4" stroke="#8c3fd8" stroke-width="2"/>
<circle cx="124.3" cy="223" r="1.3" fill="#fff" stroke="#888" stroke-width="0.6"/>
<text x="139.5" y="226.7" font-size="10" font-weight="bold" text-anchor="start" >Mn 2p Obs</text>
<text x="139.5" y="239.2" font-size="10" font-weight="bold" text-anchor="start" >Mn 2p Cal</text>
<text x="139.5" y="252.9" font-size="10" font-weight="bold" text-anchor="start" >Background</text>
<text x="139.5" y="266.9" font-size="10" font-weight="bold">Mn<tspan font-size="7" dy="-4">3+</tspan></text>
<text x="139.5" y="281.1" font-size="10" font-weight="bold">Mn<tspan font-size="7" dy="-4">4+</tspan></text>
<text x="43.5" y="245.6" font-size="10" font-weight="bold">Mn 2p<tspan font-size="7" dy="2.6">3/2</tspan></text>
<text x="190.8" y="276.7" font-size="10" font-weight="bold">Mn 2p<tspan font-size="7" dy="2.8">1/2</tspan></text>
<rect x="30.1" y="216.8" width="200.4" height="160.2" fill="none" stroke="#000" stroke-width="2.8"/>
<line x1="30.1" y1="375.7" x2="30.1" y2="373.1" stroke="#000" stroke-width="1.6"/>
<line x1="70.2" y1="375.7" x2="70.2" y2="373.1" stroke="#000" stroke-width="1.6"/>
<line x1="110.3" y1="375.7" x2="110.3" y2="373.1" stroke="#000" stroke-width="1.6"/>
<line x1="150.4" y1="375.7" x2="150.4" y2="373.1" stroke="#000" stroke-width="1.6"/>
<line x1="190.5" y1="375.7" x2="190.5" y2="373.1" stroke="#000" stroke-width="1.6"/>
<line x1="230.6" y1="375.7" x2="230.6" y2="373.1" stroke="#000" stroke-width="1.6"/>
<line x1="50.2" y1="375.7" x2="50.2" y2="374.1" stroke="#000" stroke-width="1.2"/>
<line x1="90.3" y1="375.7" x2="90.3" y2="374.1" stroke="#000" stroke-width="1.2"/>
<line x1="130.4" y1="375.7" x2="130.4" y2="374.1" stroke="#000" stroke-width="1.2"/>
<line x1="170.5" y1="375.7" x2="170.5" y2="374.1" stroke="#000" stroke-width="1.2"/>
<line x1="210.6" y1="375.7" x2="210.6" y2="374.1" stroke="#000" stroke-width="1.2"/>
<text x="30.1" y="390" font-size="10" font-weight="normal" text-anchor="middle" class="r" >635</text>
<text x="70.2" y="390" font-size="10" font-weight="normal" text-anchor="middle" class="r" >640</text>
<text x="110.3" y="390" font-size="10" font-weight="normal" text-anchor="middle" class="r" >645</text>
<text x="150.4" y="390" font-size="10" font-weight="normal" text-anchor="middle" class="r" >650</text>
<text x="190.5" y="390" font-size="10" font-weight="normal" text-anchor="middle" class="r" >655</text>
<text x="230.6" y="390" font-size="10" font-weight="normal" text-anchor="middle" class="r" >660</text>
<text x="130.6" y="408.8" font-size="13" font-weight="bold" text-anchor="middle" >Binding energy (eV)</text>
<text transform="translate(16.3,293) rotate(-90)" x="0" y="0" font-size="13" font-weight="bold" text-anchor="middle">Intensity (a.u.)</text>
<text x="34.0" y="234.85" font-size="23" class="L">(d)</text>
<circle cx="283.2" cy="359.6" r="1.9" fill="#fff" stroke="#9a9a9a" stroke-width="0.6"/>
<circle cx="285.5" cy="360.5" r="1.9" fill="#fff" stroke="#9a9a9a" stroke-width="0.6"/>
<circle cx="287.8" cy="357.7" r="1.9" fill="#fff" stroke="#9a9a9a" stroke-width="0.6"/>
<circle cx="290.7" cy="359.4" r="1.9" fill="#fff" stroke="#9a9a9a" stroke-width="0.6"/>
<circle cx="291.7" cy="358.8" r="1.9" fill="#fff" stroke="#9a9a9a" stroke-width="0.6"/>
<circle cx="293.6" cy="359.1" r="1.9" fill="#fff" stroke="#9a9a9a" stroke-width="0.6"/>
<circle cx="296" cy="358.1" r="1.9" fill="#fff" stroke="#9a9a9a" stroke-width="0.6"/>
<circle cx="298.2" cy="357.7" r="1.9" fill="#fff" stroke="#9a9a9a" stroke-width="0.6"/>
<circle cx="299.2" cy="359" r="1.9" fill="#fff" stroke="#9a9a9a" stroke-width="0.6"/>
<circle cx="300.7" cy="359.7" r="1.9" fill="#fff" stroke="#9a9a9a" stroke-width="0.6"/>
<circle cx="302.9" cy="359.9" r="1.9" fill="#fff" stroke="#9a9a9a" stroke-width="0.6"/>
<circle cx="304.4" cy="359.8" r="1.9" fill="#fff" stroke="#9a9a9a" stroke-width="0.6"/>
<circle cx="306.9" cy="357.4" r="1.9" fill="#fff" stroke="#9a9a9a" stroke-width="0.6"/>
<circle cx="309.1" cy="359.5" r="1.9" fill="#fff" stroke="#9a9a9a" stroke-width="0.6"/>
<circle cx="310.3" cy="357.6" r="1.9" fill="#fff" stroke="#9a9a9a" stroke-width="0.6"/>
<circle cx="312" cy="356.6" r="1.9" fill="#fff" stroke="#9a9a9a" stroke-width="0.6"/>
<circle cx="314.4" cy="356.3" r="1.9" fill="#fff" stroke="#9a9a9a" stroke-width="0.6"/>
<circle cx="316.3" cy="357.1" r="1.9" fill="#fff" stroke="#9a9a9a" stroke-width="0.6"/>
<circle cx="318" cy="356.9" r="1.9" fill="#fff" stroke="#9a9a9a" stroke-width="0.6"/>
<circle cx="320.6" cy="355.9" r="1.9" fill="#fff" stroke="#9a9a9a" stroke-width="0.6"/>
<circle cx="322" cy="357.9" r="1.9" fill="#fff" stroke="#9a9a9a" stroke-width="0.6"/>
<circle cx="323" cy="357.8" r="1.9" fill="#fff" stroke="#9a9a9a" stroke-width="0.6"/>
<circle cx="324.8" cy="355.1" r="1.9" fill="#fff" stroke="#9a9a9a" stroke-width="0.6"/>
<circle cx="326.6" cy="357.7" r="1.9" fill="#fff" stroke="#9a9a9a" stroke-width="0.6"/>
<circle cx="329.5" cy="357.1" r="1.9" fill="#fff" stroke="#9a9a9a" stroke-width="0.6"/>
<circle cx="331" cy="355" r="1.9" fill="#fff" stroke="#9a9a9a" stroke-width="0.6"/>
<circle cx="333.5" cy="353.7" r="1.9" fill="#fff" stroke="#9a9a9a" stroke-width="0.6"/>
<circle cx="335.3" cy="355.1" r="1.9" fill="#fff" stroke="#9a9a9a" stroke-width="0.6"/>
<circle cx="338" cy="351.7" r="1.9" fill="#fff" stroke="#9a9a9a" stroke-width="0.6"/>
<circle cx="340.2" cy="352.8" r="1.9" fill="#fff" stroke="#9a9a9a" stroke-width="0.6"/>
<circle cx="342.7" cy="347.1" r="1.9" fill="#fff" stroke="#9a9a9a" stroke-width="0.6"/>
<circle cx="344.2" cy="338.1" r="1.9" fill="#fff" stroke="#9a9a9a" stroke-width="0.6"/>
<circle cx="346.6" cy="332.3" r="1.9" fill="#fff" stroke="#9a9a9a" stroke-width="0.6"/>
<circle cx="348.1" cy="323.9" r="1.9" fill="#fff" stroke="#9a9a9a" stroke-width="0.6"/>
<circle cx="349.6" cy="316.2" r="1.9" fill="#fff" stroke="#9a9a9a" stroke-width="0.6"/>
<circle cx="351.9" cy="308.1" r="1.9" fill="#fff" stroke="#9a9a9a" stroke-width="0.6"/>
<circle cx="354.2" cy="299.7" r="1.9" fill="#fff" stroke="#9a9a9a" stroke-width="0.6"/>
<circle cx="355.5" cy="294.6" r="1.9" fill="#fff" stroke="#9a9a9a" stroke-width="0.6"/>
<circle cx="357.2" cy="286.5" r="1.9" fill="#fff" stroke="#9a9a9a" stroke-width="0.6"/>
<circle cx="358.7" cy="273.9" r="1.9" fill="#fff" stroke="#9a9a9a" stroke-width="0.6"/>
<circle cx="361.2" cy="259.1" r="1.9" fill="#fff" stroke="#9a9a9a" stroke-width="0.6"/>
<circle cx="363" cy="247.5" r="1.9" fill="#fff" stroke="#9a9a9a" stroke-width="0.6"/>
<circle cx="365" cy="238.6" r="1.9" fill="#fff" stroke="#9a9a9a" stroke-width="0.6"/>
<circle cx="367" cy="234.9" r="1.9" fill="#fff" stroke="#9a9a9a" stroke-width="0.6"/>
<circle cx="368.5" cy="234.9" r="1.9" fill="#fff" stroke="#9a9a9a" stroke-width="0.6"/>
<circle cx="371" cy="239.6" r="1.9" fill="#fff" stroke="#9a9a9a" stroke-width="0.6"/>
<circle cx="372.7" cy="244.4" r="1.9" fill="#fff" stroke="#9a9a9a" stroke-width="0.6"/>
<circle cx="374.5" cy="249.6" r="1.9" fill="#fff" stroke="#9a9a9a" stroke-width="0.6"/>
<circle cx="377" cy="259.9" r="1.9" fill="#fff" stroke="#9a9a9a" stroke-width="0.6"/>
<circle cx="379.2" cy="270.2" r="1.9" fill="#fff" stroke="#9a9a9a" stroke-width="0.6"/>
<circle cx="381.6" cy="278.6" r="1.9" fill="#fff" stroke="#9a9a9a" stroke-width="0.6"/>
<circle cx="383.4" cy="282.8" r="1.9" fill="#fff" stroke="#9a9a9a" stroke-width="0.6"/>
<circle cx="385.7" cy="284.8" r="1.9" fill="#fff" stroke="#9a9a9a" stroke-width="0.6"/>
<circle cx="387.2" cy="286.1" r="1.9" fill="#fff" stroke="#9a9a9a" stroke-width="0.6"/>
<circle cx="389.7" cy="284.8" r="1.9" fill="#fff" stroke="#9a9a9a" stroke-width="0.6"/>
<circle cx="391.7" cy="285.9" r="1.9" fill="#fff" stroke="#9a9a9a" stroke-width="0.6"/>
<circle cx="394" cy="284" r="1.9" fill="#fff" stroke="#9a9a9a" stroke-width="0.6"/>
<circle cx="396.1" cy="285" r="1.9" fill="#fff" stroke="#9a9a9a" stroke-width="0.6"/>
<circle cx="398.8" cy="285.1" r="1.9" fill="#fff" stroke="#9a9a9a" stroke-width="0.6"/>
<circle cx="401.2" cy="286.9" r="1.9" fill="#fff" stroke="#9a9a9a" stroke-width="0.6"/>
<circle cx="403.5" cy="286.7" r="1.9" fill="#fff" stroke="#9a9a9a" stroke-width="0.6"/>
<circle cx="405.9" cy="291.5" r="1.9" fill="#fff" stroke="#9a9a9a" stroke-width="0.6"/>
<circle cx="407.7" cy="297" r="1.9" fill="#fff" stroke="#9a9a9a" stroke-width="0.6"/>
<circle cx="410.5" cy="301" r="1.9" fill="#fff" stroke="#9a9a9a" stroke-width="0.6"/>
<circle cx="412.5" cy="305.6" r="1.9" fill="#fff" stroke="#9a9a9a" stroke-width="0.6"/>
<circle cx="414" cy="312.5" r="1.9" fill="#fff" stroke="#9a9a9a" stroke-width="0.6"/>
<circle cx="416.1" cy="315.8" r="1.9" fill="#fff" stroke="#9a9a9a" stroke-width="0.6"/>
<circle cx="417.8" cy="320.5" r="1.9" fill="#fff" stroke="#9a9a9a" stroke-width="0.6"/>
<circle cx="418.9" cy="322.8" r="1.9" fill="#fff" stroke="#9a9a9a" stroke-width="0.6"/>
<circle cx="420.4" cy="324.3" r="1.9" fill="#fff" stroke="#9a9a9a" stroke-width="0.6"/>
<circle cx="421.8" cy="327.1" r="1.9" fill="#fff" stroke="#9a9a9a" stroke-width="0.6"/>
<circle cx="424.2" cy="330.5" r="1.9" fill="#fff" stroke="#9a9a9a" stroke-width="0.6"/>
<circle cx="426.6" cy="332.9" r="1.9" fill="#fff" stroke="#9a9a9a" stroke-width="0.6"/>
<circle cx="427.5" cy="335.3" r="1.9" fill="#fff" stroke="#9a9a9a" stroke-width="0.6"/>
<circle cx="429.8" cy="336.7" r="1.9" fill="#fff" stroke="#9a9a9a" stroke-width="0.6"/>
<circle cx="431.5" cy="338.4" r="1.9" fill="#fff" stroke="#9a9a9a" stroke-width="0.6"/>
<circle cx="432.8" cy="341.2" r="1.9" fill="#fff" stroke="#9a9a9a" stroke-width="0.6"/>
<circle cx="435.3" cy="344" r="1.9" fill="#fff" stroke="#9a9a9a" stroke-width="0.6"/>
<circle cx="437" cy="344.8" r="1.9" fill="#fff" stroke="#9a9a9a" stroke-width="0.6"/>
<circle cx="438.8" cy="343.8" r="1.9" fill="#fff" stroke="#9a9a9a" stroke-width="0.6"/>
<circle cx="441.2" cy="347.3" r="1.9" fill="#fff" stroke="#9a9a9a" stroke-width="0.6"/>
<circle cx="443.3" cy="346.5" r="1.9" fill="#fff" stroke="#9a9a9a" stroke-width="0.6"/>
<circle cx="444.4" cy="346.4" r="1.9" fill="#fff" stroke="#9a9a9a" stroke-width="0.6"/>
<circle cx="446.6" cy="347.3" r="1.9" fill="#fff" stroke="#9a9a9a" stroke-width="0.6"/>
<circle cx="448.9" cy="348.7" r="1.9" fill="#fff" stroke="#9a9a9a" stroke-width="0.6"/>
<circle cx="451" cy="348.8" r="1.9" fill="#fff" stroke="#9a9a9a" stroke-width="0.6"/>
<circle cx="452.8" cy="351.2" r="1.9" fill="#fff" stroke="#9a9a9a" stroke-width="0.6"/>
<circle cx="455" cy="349.4" r="1.9" fill="#fff" stroke="#9a9a9a" stroke-width="0.6"/>
<circle cx="456.5" cy="350.1" r="1.9" fill="#fff" stroke="#9a9a9a" stroke-width="0.6"/>
<circle cx="459" cy="350.6" r="1.9" fill="#fff" stroke="#9a9a9a" stroke-width="0.6"/>
<circle cx="461.3" cy="349.6" r="1.9" fill="#fff" stroke="#9a9a9a" stroke-width="0.6"/>
<circle cx="463.3" cy="350.3" r="1.9" fill="#fff" stroke="#9a9a9a" stroke-width="0.6"/>
<circle cx="465.5" cy="349.6" r="1.9" fill="#fff" stroke="#9a9a9a" stroke-width="0.6"/>
<circle cx="467.4" cy="352.4" r="1.9" fill="#fff" stroke="#9a9a9a" stroke-width="0.6"/>
<circle cx="468.6" cy="350.5" r="1.9" fill="#fff" stroke="#9a9a9a" stroke-width="0.6"/>
<circle cx="471.6" cy="350.7" r="1.9" fill="#fff" stroke="#9a9a9a" stroke-width="0.6"/>
<circle cx="473.6" cy="351.9" r="1.9" fill="#fff" stroke="#9a9a9a" stroke-width="0.6"/>
<circle cx="476" cy="350.4" r="1.9" fill="#fff" stroke="#9a9a9a" stroke-width="0.6"/>
<circle cx="477.4" cy="351.7" r="1.9" fill="#fff" stroke="#9a9a9a" stroke-width="0.6"/>
<circle cx="479.3" cy="351.8" r="1.9" fill="#fff" stroke="#9a9a9a" stroke-width="0.6"/>
<polyline points="281,360.3 281.5,360.3 282,360.3 282.5,360.3 283,360.3 283.5,360.3 284,360.3 284.5,360.3 285,360.3 285.5,360.3 286,360.2 286.5,360.2 287,360.2 287.5,360.2 288,360.2 288.5,360.2 289,360.2 289.5,360.2 290,360.2 290.5,360.2 291,360.2 291.5,360.2 292,360.2 292.5,360.2 293,360.2 293.5,360.2 294,360.2 294.5,360.2 295,360.2 295.5,360.2 296,360.2 296.5,360.2 297,360.1 297.5,360.1 298,360.1 298.5,360.1 299,360.1 299.5,360.1 300,360.1 300.5,360.1 301,360.1 301.5,360.1 302,360.1 302.5,360.1 303,360.1 303.5,360.1 304,360.1 304.5,360.1 305,360.1 305.5,360.1 306,360 306.5,360 307,360 307.5,360 308,360 308.5,360 309,360 309.5,360 310,360 310.5,360 311,360 311.5,360 312,360 312.5,360 313,359.9 313.5,359.9 314,359.9 314.5,359.9 315,359.9 315.5,359.9 316,359.9 316.5,359.9 317,359.9 317.5,359.9 318,359.8 318.5,359.8 319,359.8 319.5,359.8 320,359.8 320.5,359.8 321,359.8 321.5,359.7 322,359.7 322.5,359.7 323,359.7 323.5,359.7 324,359.6 324.5,359.6 325,359.6 325.5,359.6 326,359.5 326.5,359.5 327,359.5 327.5,359.5 328,359.4 328.5,359.4 329,359.4 329.5,359.3 330,359.3 330.5,359.2 331,359.2 331.5,359.2 332,359.1 332.5,359.1 333,359 333.5,359 334,359 334.5,358.9 335,358.9 335.5,358.9 336,358.8 336.5,358.8 337,358.8 337.5,358.7 338,358.7 338.5,358.7 339,358.6 339.5,358.6 340,358.6 340.5,358.6 341,358.6 341.5,358.5 342,358.5 342.5,358.5 343,358.5 343.5,358.5 344,358.5 344.5,358.5 345,358.5 345.5,358.5 346,358.4 346.5,358.4 347,358.4 347.5,358.4 348,358.4 348.5,358.4 349,358.4 349.5,358.4 350,358.4 350.5,358.4 351,358.4 351.5,358.4 352,358.4 352.5,358.4 353,358.4 353.5,358.4 354,358.3 354.5,358.3 355,358.3 355.5,358.3 356,358.3 356.5,358.3 357,358.3 357.5,358.3 358,358.3 358.5,358.2 359,358.2 359.5,358.2 360,358.2 360.5,358.2 361,358.2 361.5,358.2 362,358.1 362.5,358.1 363,358.1 363.5,358.1 364,358.1 364.5,358.1 365,358 365.5,358 366,358 366.5,358 367,358 367.5,358 368,357.9 368.5,357.9 369,357.9 369.5,357.9 370,357.9 370.5,357.8 371,357.8 371.5,357.8 372,357.8 372.5,357.8 373,357.8 373.5,357.7 374,357.7 374.5,357.7 375,357.7 375.5,357.7 376,357.6 376.5,357.6 377,357.6 377.5,357.6 378,357.6 378.5,357.6 379,357.5 379.5,357.5 380,357.5 380.5,357.5 381,357.5 381.5,357.4 382,357.4 382.5,357.4 383,357.4 383.5,357.4 384,357.4 384.5,357.3 385,357.3 385.5,357.3 386,357.3 386.5,357.3 387,357.3 387.5,357.2 388,357.2 388.5,357.2 389,357.2 389.5,357.2 390,357.1 390.5,357.1 391,357.1 391.5,357.1 392,357.1 392.5,357.1 393,357 393.5,357 394,357 394.5,357 395,357 395.5,357 396,356.9 396.5,356.9 397,356.9 397.5,356.9 398,356.9 398.5,356.9 399,356.8 399.5,356.8 400,356.8 400.5,356.8 401,356.8 401.5,356.8 402,356.7 402.5,356.7 403,356.7 403.5,356.7 404,356.7 404.5,356.7 405,356.6 405.5,356.6 406,356.6 406.5,356.6 407,356.6 407.5,356.6 408,356.5 408.5,356.5 409,356.5 409.5,356.5 410,356.5 410.5,356.5 411,356.5 411.5,356.4 412,356.4 412.5,356.4 413,356.4 413.5,356.4 414,356.4 414.5,356.4 415,356.3 415.5,356.3 416,356.3 416.5,356.3 417,356.3 417.5,356.3 418,356.3 418.5,356.2 419,356.2 419.5,356.2 420,356.2 420.5,356.2 421,356.2 421.5,356.1 422,356.1 422.5,356.1 423,356.1 423.5,356.1 424,356.1 424.5,356.1 425,356 425.5,356 426,356 426.5,356 427,356 427.5,356 428,356 428.5,355.9 429,355.9 429.5,355.9 430,355.9 430.5,355.9 431,355.9 431.5,355.9 432,355.8 432.5,355.8 433,355.8 433.5,355.8 434,355.8 434.5,355.8 435,355.8 435.5,355.7 436,355.7 436.5,355.7 437,355.7 437.5,355.7 438,355.7 438.5,355.6 439,355.6 439.5,355.6 440,355.6 440.5,355.6 441,355.6 441.5,355.6 442,355.5 442.5,355.5 443,355.5 443.5,355.5 444,355.5 444.5,355.5 445,355.4 445.5,355.4 446,355.4 446.5,355.4 447,355.4 447.5,355.4 448,355.4 448.5,355.3 449,355.3 449.5,355.3 450,355.3 450.5,355.3 451,355.3 451.5,355.2 452,355.2 452.5,355.2 453,355.2 453.5,355.2 454,355.2 454.5,355.1 455,355.1 455.5,355.1 456,355.1 456.5,355.1 457,355.1 457.5,355.1 458,355 458.5,355 459,355 459.5,355 460,355 460.5,355 461,354.9 461.5,354.9 462,354.9 462.5,354.9 463,354.9 463.5,354.9 464,354.8 464.5,354.8 465,354.8 465.5,354.8 466,354.8 466.5,354.8 467,354.7 467.5,354.7 468,354.7 468.5,354.7 469,354.7 469.5,354.7 470,354.7 470.5,354.6 471,354.6 471.5,354.6 472,354.6 472.5,354.6 473,354.6 473.5,354.5 474,354.5 474.5,354.5 475,354.5 475.5,354.5 476,354.5 476.5,354.4 477,354.4 477.5,354.4 478,354.4 478.5,354.4 479,354.4 479.5,354.3 480,354.3 480.5,354.3 481,354.3" fill="none" stroke="#ec1c24" stroke-width="1.6" stroke-linejoin="round" stroke-linecap="round" />
<polyline points="281,360 283.1,359.9 285.9,359.8 289.2,359.7 292.9,359.6 296.6,359.5 300,359.3 303.4,359.1 306.9,358.9 310.5,358.7 314,358.5 317.2,358.3 320,358 322.4,357.7 324.4,357.4 326.2,357.1 327.8,356.8 329.2,356.5 330.6,356.2 331.8,355.9 332.8,355.7 333.7,355.5 334.5,355.2 335.2,354.9 336,354.6 336.8,354.3 337.6,353.9 338.4,353.5 339.2,353.1 339.9,352.6 340.5,352 341,351.4 341.5,350.8 341.9,350.1 342.2,349.3 342.6,348.2 343,347 343.4,345.4 343.9,343.5 344.3,341.4 344.7,339.2 345.1,337.1 345.5,335.3 345.9,333.7 346.2,332.3 346.5,331 346.9,329.7 347.2,328.4 347.5,327 347.8,325.6 348.1,324.3 348.5,322.9 348.8,321.5 349.1,320.1 349.5,318.5 349.9,316.8 350.3,314.9 350.7,312.9 351.2,311 351.6,309.2 352,307.5 352.4,306.1 352.8,304.8 353.2,303.7 353.6,302.6 353.9,301.4 354.3,300 354.6,298.5 354.9,297 355.2,295.4 355.5,293.7 355.9,291.9 356.2,290 356.6,287.9 357,285.6 357.4,283.2 357.8,280.7 358.2,278.3 358.6,276 359,273.8 359.3,271.6 359.7,269.4 360,267.2 360.3,265.1 360.6,263 360.9,260.9 361.2,258.8 361.4,256.7 361.7,254.7 361.9,252.8 362.2,251 362.5,249.3 362.7,247.8 363,246.3 363.3,245 363.5,243.7 363.8,242.5 364.1,241.4 364.3,240.4 364.6,239.5 364.8,238.7 365.1,238 365.3,237.3 365.5,236.7 365.8,236.2 366,235.8 366.3,235.4 366.5,235.2 366.8,235 367.1,234.9 367.3,234.8 367.6,234.9 367.9,235 368.3,235.2 368.6,235.6 369,236.1 369.4,236.7 369.9,237.4 370.3,238.2 370.8,239.1 371.2,240 371.6,240.9 371.9,242 372.2,243 372.6,244.2 372.9,245.3 373.2,246.5 373.5,247.7 373.8,249 374.2,250.3 374.5,251.7 374.8,253 375.1,254.3 375.4,255.6 375.7,256.9 376.1,258.2 376.4,259.5 376.7,260.8 377,262 377.3,263.2 377.6,264.3 377.9,265.4 378.2,266.5 378.4,267.6 378.7,268.7 379,269.8 379.2,270.9 379.5,271.9 379.7,273 380,274 380.2,275 380.4,275.9 380.6,276.8 380.8,277.7 381,278.5 381.3,279.3 381.6,280.2 382,281.1 382.4,282.1 382.9,283 383.4,284 383.9,284.8 384.4,285.4 385,285.9 385.5,286.2 386.1,286.4 386.8,286.5 387.4,286.6 388,286.6 388.6,286.6 389.2,286.4 389.7,286.2 390.4,286 391,285.8 391.8,285.6 392.7,285.4 393.8,285.2 394.9,284.9 396,284.7 397,284.6 397.9,284.6 398.6,284.7 399.3,284.9 399.9,285.2 400.4,285.6 400.9,286 401.5,286.5 402.1,287.1 402.7,287.8 403.3,288.5 403.9,289.3 404.4,290.1 405,291 405.5,291.9 406,292.8 406.5,293.8 407,294.9 407.5,295.9 408,297 408.6,298.1 409.2,299.2 409.8,300.3 410.4,301.5 411,302.8 411.6,304.2 412.2,305.7 412.7,307.4 413.3,309.1 413.9,310.9 414.5,312.7 415.1,314.4 415.7,316 416.4,317.7 417.1,319.3 417.8,320.9 418.6,322.5 419.4,324.1 420.3,325.7 421.4,327.4 422.5,329.1 423.6,330.7 424.7,332.3 425.8,333.8 426.9,335.2 427.9,336.5 428.9,337.8 430,339 431.1,340.2 432.3,341.3 433.6,342.3 435,343.3 436.5,344.3 438,345.1 439.4,346 440.9,346.7 442.3,347.4 443.7,348 445.1,348.5 446.5,349 447.9,349.5 449.5,349.9 451.1,350.3 452.6,350.5 454.1,350.8 455.9,351 457.9,351.2 460.3,351.4 463.4,351.6 467.2,351.8 471.3,352 475.3,352.2 478.6,352.4 481,352.5" fill="none" stroke="#ec1c24" stroke-width="2.0" stroke-linejoin="round" stroke-linecap="round" />
<polyline points="281,359.8 281.5,359.8 282,359.8 282.5,359.7 283,359.7 283.5,359.7 284,359.7 284.5,359.7 285,359.7 285.5,359.7 286,359.7 286.5,359.6 287,359.6 287.5,359.6 288,359.6 288.5,359.6 289,359.6 289.5,359.6 290,359.6 290.5,359.5 291,359.5 291.5,359.5 292,359.5 292.5,359.5 293,359.5 293.5,359.5 294,359.5 294.5,359.4 295,359.4 295.5,359.4 296,359.4 296.5,359.4 297,359.4 297.5,359.3 298,359.3 298.5,359.3 299,359.3 299.5,359.3 300,359.3 300.5,359.2 301,359.2 301.5,359.2 302,359.2 302.5,359.2 303,359.1 303.5,359.1 304,359.1 304.5,359.1 305,359.1 305.5,359 306,359 306.5,359 307,359 307.5,358.9 308,358.9 308.5,358.9 309,358.9 309.5,358.8 310,358.8 310.5,358.8 311,358.8 311.5,358.7 312,358.7 312.5,358.7 313,358.6 313.5,358.6 314,358.6 314.5,358.5 315,358.5 315.5,358.5 316,358.4 316.5,358.4 317,358.3 317.5,358.3 318,358.3 318.5,358.2 319,358.2 319.5,358.1 320,358.1 320.5,358 321,358 321.5,357.9 322,357.9 322.5,357.8 323,357.7 323.5,357.7 324,357.6 324.5,357.5 325,357.5 325.5,357.4 326,357.3 326.5,357.2 327,357.1 327.5,357 328,356.9 328.5,356.8 329,356.7 329.5,356.6 330,356.5 330.5,356.4 331,356.3 331.5,356.1 332,356 332.5,355.9 333,355.7 333.5,355.5 334,355.4 334.5,355.2 335,355 335.5,354.8 336,354.6 336.5,354.3 337,354.1 337.5,353.8 338,353.5 338.5,353.2 339,352.9 339.5,352.5 340,352.1 340.5,351.7 341,351.2 341.5,350.7 342,350.1 342.5,349.5 343,348.8 343.5,348.1 344,347.3 344.5,346.4 345,345.4 345.5,344.4 346,343.3 346.5,342.1 347,340.8 347.5,339.4 348,337.9 348.5,336.3 349,334.6 349.5,332.8 350,330.9 350.5,328.9 351,326.8 351.5,324.5 352,322.2 352.5,319.7 353,317.1 353.5,314.5 354,311.7 354.5,308.9 355,306 355.5,303 356,300 356.5,296.9 357,293.8 357.5,290.7 358,287.6 358.5,284.5 359,281.4 359.5,278.5 360,275.5 360.5,272.7 361,270.1 361.5,267.6 362,265.2 362.5,263.1 363,261.2 363.5,259.5 364,258.1 364.5,257 365,256.2 365.5,255.7 366,255.5 366.5,255.6 367,256.1 367.5,256.9 368,257.9 368.5,259.2 369,260.8 369.5,262.7 370,264.8 370.5,267 371,269.5 371.5,272.1 372,274.8 372.5,277.6 373,280.5 373.5,283.5 374,286.5 374.5,289.6 375,292.6 375.5,295.7 376,298.7 376.5,301.7 377,304.6 377.5,307.5 378,310.3 378.5,313 379,315.6 379.5,318.2 380,320.6 380.5,322.9 381,325.2 381.5,327.3 382,329.3 382.5,331.2 383,333 383.5,334.7 384,336.3 384.5,337.8 385,339.2 385.5,340.5 386,341.7 386.5,342.8 387,343.8 387.5,344.7 388,345.6 388.5,346.4 389,347.1 389.5,347.8 390,348.4 390.5,349 391,349.5 391.5,349.9 392,350.4 392.5,350.7 393,351.1 393.5,351.4 394,351.7 394.5,351.9 395,352.2 395.5,352.4 396,352.6 396.5,352.7 397,352.9 397.5,353 398,353.2 398.5,353.3 399,353.4 399.5,353.5 400,353.6 400.5,353.7 401,353.8 401.5,353.8 402,353.9 402.5,354 403,354 403.5,354.1 404,354.1 404.5,354.2 405,354.2 405.5,354.3 406,354.3 406.5,354.4 407,354.4 407.5,354.4 408,354.5 408.5,354.5 409,354.5 409.5,354.6 410,354.6 410.5,354.6 411,354.6 411.5,354.7 412,354.7 412.5,354.7 413,354.7 413.5,354.7 414,354.8 414.5,354.8 415,354.8 415.5,354.8 416,354.8 416.5,354.8 417,354.8 417.5,354.9 418,354.9 418.5,354.9 419,354.9 419.5,354.9 420,354.9 420.5,354.9 421,354.9 421.5,354.9 422,354.9 422.5,354.9 423,354.9 423.5,354.9 424,355 424.5,355 425,355 425.5,355 426,355 426.5,355 427,355 427.5,355 428,355 428.5,355 429,355 429.5,355 430,355 430.5,355 431,355 431.5,355 432,355 432.5,355 433,355 433.5,355 434,355 434.5,355 435,354.9 435.5,354.9 436,354.9 436.5,354.9 437,354.9 437.5,354.9 438,354.9 438.5,354.9 439,354.9 439.5,354.9 440,354.9 440.5,354.9 441,354.9 441.5,354.9 442,354.9 442.5,354.9 443,354.9 443.5,354.9 444,354.8 444.5,354.8 445,354.8 445.5,354.8 446,354.8 446.5,354.8 447,354.8 447.5,354.8 448,354.8 448.5,354.8 449,354.8 449.5,354.7 450,354.7 450.5,354.7 451,354.7 451.5,354.7 452,354.7 452.5,354.7 453,354.7 453.5,354.7 454,354.7 454.5,354.7 455,354.6 455.5,354.6 456,354.6 456.5,354.6 457,354.6 457.5,354.6 458,354.6 458.5,354.6 459,354.6 459.5,354.5 460,354.5 460.5,354.5 461,354.5 461.5,354.5 462,354.5 462.5,354.5 463,354.5 463.5,354.5 464,354.4 464.5,354.4 465,354.4 465.5,354.4 466,354.4 466.5,354.4 467,354.4 467.5,354.4 468,354.3 468.5,354.3 469,354.3 469.5,354.3 470,354.3 470.5,354.3 471,354.3 471.5,354.3 472,354.2 472.5,354.2 473,354.2 473.5,354.2 474,354.2 474.5,354.2 475,354.2 475.5,354.2 476,354.1 476.5,354.1 477,354.1 477.5,354.1 478,354.1 478.5,354.1 479,354.1 479.5,354 480,354 480.5,354 481,354" fill="none" stroke="#179317" stroke-width="1.7" stroke-linejoin="round" stroke-linecap="round" />
<polyline points="281,359.1 281.5,359.1 282,359.1 282.5,359 283,359 283.5,359 284,359 284.5,359 285,359 285.5,358.9 286,358.9 286.5,358.9 287,358.9 287.5,358.9 288,358.9 288.5,358.9 289,358.8 289.5,358.8 290,358.8 290.5,358.8 291,358.8 291.5,358.7 292,358.7 292.5,358.7 293,358.7 293.5,358.7 294,358.7 294.5,358.6 295,358.6 295.5,358.6 296,358.6 296.5,358.6 297,358.5 297.5,358.5 298,358.5 298.5,358.5 299,358.5 299.5,358.4 300,358.4 300.5,358.4 301,358.4 301.5,358.4 302,358.3 302.5,358.3 303,358.3 303.5,358.3 304,358.2 304.5,358.2 305,358.2 305.5,358.2 306,358.1 306.5,358.1 307,358.1 307.5,358.1 308,358 308.5,358 309,358 309.5,357.9 310,357.9 310.5,357.9 311,357.9 311.5,357.8 312,357.8 312.5,357.8 313,357.7 313.5,357.7 314,357.7 314.5,357.6 315,357.6 315.5,357.6 316,357.5 316.5,357.5 317,357.4 317.5,357.4 318,357.4 318.5,357.3 319,357.3 319.5,357.2 320,357.2 320.5,357.1 321,357.1 321.5,357 322,357 322.5,356.9 323,356.9 323.5,356.8 324,356.7 324.5,356.7 325,356.6 325.5,356.5 326,356.5 326.5,356.4 327,356.3 327.5,356.2 328,356.1 328.5,356.1 329,356 329.5,355.9 330,355.8 330.5,355.7 331,355.6 331.5,355.5 332,355.4 332.5,355.3 333,355.2 333.5,355 334,354.9 334.5,354.8 335,354.7 335.5,354.6 336,354.4 336.5,354.3 337,354.2 337.5,354.1 338,353.9 338.5,353.8 339,353.7 339.5,353.5 340,353.4 340.5,353.2 341,353.1 341.5,352.9 342,352.8 342.5,352.6 343,352.5 343.5,352.3 344,352.1 344.5,351.9 345,351.8 345.5,351.6 346,351.4 346.5,351.2 347,351 347.5,350.7 348,350.5 348.5,350.3 349,350 349.5,349.8 350,349.5 350.5,349.2 351,349 351.5,348.7 352,348.4 352.5,348.1 353,347.7 353.5,347.4 354,347.1 354.5,346.7 355,346.3 355.5,345.9 356,345.5 356.5,345.1 357,344.7 357.5,344.3 358,343.8 358.5,343.3 359,342.9 359.5,342.4 360,341.9 360.5,341.3 361,340.8 361.5,340.2 362,339.7 362.5,339.1 363,338.5 363.5,337.9 364,337.2 364.5,336.6 365,335.9 365.5,335.3 366,334.6 366.5,333.9 367,333.1 367.5,332.4 368,331.7 368.5,330.9 369,330.1 369.5,329.3 370,328.5 370.5,327.7 371,326.8 371.5,326 372,325.1 372.5,324.3 373,323.4 373.5,322.5 374,321.6 374.5,320.7 375,319.7 375.5,318.8 376,317.8 376.5,316.9 377,315.9 377.5,315 378,314 378.5,313 379,312 379.5,311.1 380,310.1 380.5,309.1 381,308.1 381.5,307.1 382,306.1 382.5,305.2 383,304.2 383.5,303.2 384,302.3 384.5,301.3 385,300.4 385.5,299.5 386,298.6 386.5,297.7 387,296.8 387.5,296 388,295.1 388.5,294.3 389,293.5 389.5,292.8 390,292 390.5,291.3 391,290.7 391.5,290 392,289.4 392.5,288.9 393,288.3 393.5,287.8 394,287.4 394.5,287 395,286.6 395.5,286.3 396,286 396.5,285.8 397,285.6 397.5,285.5 398,285.4 398.5,285.4 399,285.4 399.5,285.5 400,285.6 400.5,285.9 401,286.2 401.5,286.6 402,287.1 402.5,287.6 403,288.2 403.5,288.9 404,289.6 404.5,290.4 405,291.2 405.5,292.1 406,293 406.5,294 407,295 407.5,296 408,297.1 408.5,298.2 409,299.3 409.5,300.5 410,301.7 410.5,302.8 411,304 411.5,305.2 412,306.4 412.5,307.7 413,308.9 413.5,310.1 414,311.3 414.5,312.5 415,313.7 415.5,314.9 416,316.1 416.5,317.2 417,318.4 417.5,319.5 418,320.7 418.5,321.8 419,322.9 419.5,323.9 420,325 420.5,326 421,327 421.5,328 422,329 422.5,329.9 423,330.8 423.5,331.7 424,332.6 424.5,333.4 425,334.2 425.5,335 426,335.8 426.5,336.5 427,337.3 427.5,338 428,338.6 428.5,339.3 429,339.9 429.5,340.5 430,341.1 430.5,341.6 431,342.2 431.5,342.7 432,343.2 432.5,343.7 433,344.1 433.5,344.5 434,345 434.5,345.3 435,345.7 435.5,346.1 436,346.4 436.5,346.8 437,347.1 437.5,347.4 438,347.6 438.5,347.9 439,348.2 439.5,348.4 440,348.6 440.5,348.9 441,349.1 441.5,349.3 442,349.5 442.5,349.6 443,349.8 443.5,350 444,350.1 444.5,350.3 445,350.4 445.5,350.5 446,350.6 446.5,350.7 447,350.9 447.5,351 448,351.1 448.5,351.1 449,351.2 449.5,351.3 450,351.4 450.5,351.5 451,351.5 451.5,351.6 452,351.7 452.5,351.7 453,351.8 453.5,351.8 454,351.9 454.5,351.9 455,352 455.5,352 456,352.1 456.5,352.1 457,352.1 457.5,352.2 458,352.2 458.5,352.2 459,352.3 459.5,352.3 460,352.3 460.5,352.4 461,352.4 461.5,352.4 462,352.4 462.5,352.5 463,352.5 463.5,352.5 464,352.5 464.5,352.5 465,352.5 465.5,352.6 466,352.6 466.5,352.6 467,352.6 467.5,352.6 468,352.6 468.5,352.6 469,352.7 469.5,352.7 470,352.7 470.5,352.7 471,352.7 471.5,352.7 472,352.7 472.5,352.7 473,352.7 473.5,352.7 474,352.7 474.5,352.8 475,352.8 475.5,352.8 476,352.8 476.5,352.8 477,352.8 477.5,352.8 478,352.8 478.5,352.8 479,352.8 479.5,352.8 480,352.8 480.5,352.8 481,352.8" fill="none" stroke="#8c3fd8" stroke-width="1.7" stroke-linejoin="round" stroke-linecap="round" />
<line x1="401.2" y1="224" x2="424.5" y2="224" stroke="#111" stroke-width="2"/>
<line x1="401.2" y1="237.4" x2="424.5" y2="237.4" stroke="#ec1c24" stroke-width="2"/>
<line x1="401.2" y1="250.3" x2="424.5" y2="250.3" stroke="#ec1c24" stroke-width="2"/>
<line x1="401.2" y1="264.5" x2="424.5" y2="264.5" stroke="#179317" stroke-width="2"/>
<line x1="401.2" y1="280.7" x2="424.5" y2="280.7" stroke="#8c3fd8" stroke-width="2"/>
<circle cx="412.8" cy="224" r="1.3" fill="#fff" stroke="#888" stroke-width="0.6"/>
<text x="427.7" y="227.7" font-size="10" font-weight="bold" text-anchor="start" >O 1s Obs</text>
<text x="427.7" y="241.1" font-size="10" font-weight="bold" text-anchor="start" >O 1s Cal</text>
<text x="427.7" y="254" font-size="10" font-weight="bold" text-anchor="start" >Background</text>
<text x="427.7" y="268.2" font-size="10" font-weight="bold">O<tspan font-size="7.5" dy="2.5">&#946;</tspan></text>
<text x="427.7" y="284.4" font-size="10" font-weight="bold">O<tspan font-size="7.5" dy="2.5">&#945;</tspan></text>
<text x="355" y="230.5" font-size="9.5" font-weight="bold">O<tspan font-size="6" dy="2.5">&#946;</tspan></text>
<text x="407.5" y="295.5" font-size="10" font-weight="bold">O<tspan font-size="7.5" dy="2.5">&#945;</tspan></text>
<rect x="281" y="216.9" width="200.2" height="160" fill="none" stroke="#000" stroke-width="2.8"/>
<line x1="281" y1="375.6" x2="281" y2="373" stroke="#000" stroke-width="1.6"/>
<line x1="314.4" y1="375.6" x2="314.4" y2="373" stroke="#000" stroke-width="1.6"/>
<line x1="347.8" y1="375.6" x2="347.8" y2="373" stroke="#000" stroke-width="1.6"/>
<line x1="381.1" y1="375.6" x2="381.1" y2="373" stroke="#000" stroke-width="1.6"/>
<line x1="414.5" y1="375.6" x2="414.5" y2="373" stroke="#000" stroke-width="1.6"/>
<line x1="447.9" y1="375.6" x2="447.9" y2="373" stroke="#000" stroke-width="1.6"/>
<line x1="481.2" y1="375.6" x2="481.2" y2="373" stroke="#000" stroke-width="1.6"/>
<line x1="297.7" y1="375.6" x2="297.7" y2="374" stroke="#000" stroke-width="1.2"/>
<line x1="331.1" y1="375.6" x2="331.1" y2="374" stroke="#000" stroke-width="1.2"/>
<line x1="364.4" y1="375.6" x2="364.4" y2="374" stroke="#000" stroke-width="1.2"/>
<line x1="397.8" y1="375.6" x2="397.8" y2="374" stroke="#000" stroke-width="1.2"/>
<line x1="431.2" y1="375.6" x2="431.2" y2="374" stroke="#000" stroke-width="1.2"/>
<line x1="464.6" y1="375.6" x2="464.6" y2="374" stroke="#000" stroke-width="1.2"/>
<text x="281" y="390" font-size="10" font-weight="normal" text-anchor="middle" class="r" >524</text>
<text x="314.4" y="390" font-size="10" font-weight="normal" text-anchor="middle" class="r" >526</text>
<text x="347.8" y="390" font-size="10" font-weight="normal" text-anchor="middle" class="r" >528</text>
<text x="381.1" y="390" font-size="10" font-weight="normal" text-anchor="middle" class="r" >530</text>
<text x="414.5" y="390" font-size="10" font-weight="normal" text-anchor="middle" class="r" >532</text>
<text x="447.9" y="390" font-size="10" font-weight="normal" text-anchor="middle" class="r" >534</text>
<text x="481.2" y="390" font-size="10" font-weight="normal" text-anchor="middle" class="r" >536</text>
<text x="381.1" y="409.2" font-size="13" font-weight="bold" text-anchor="middle" >Binding energy (eV)</text>
<text transform="translate(266.6,288.4) rotate(-90)" x="0" y="0" font-size="13.2" font-weight="bold" text-anchor="middle">Intensity (a.u.)</text>
<text x="284.0" y="235.25" font-size="23" class="L">(e)</text>
</svg>
</body></html>
